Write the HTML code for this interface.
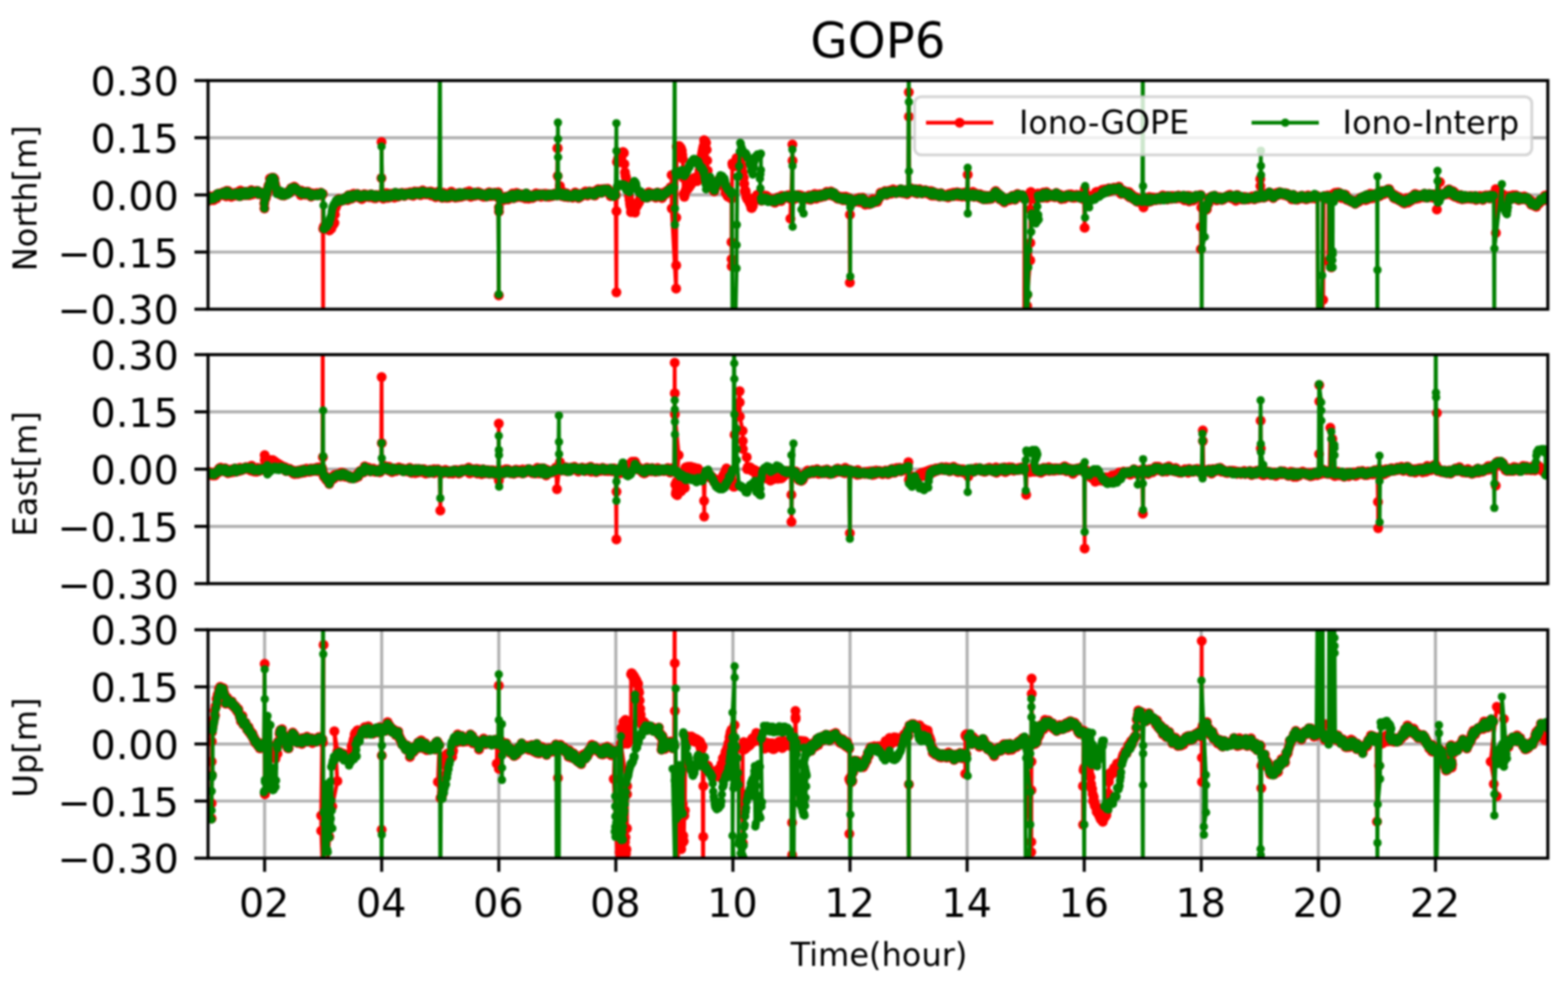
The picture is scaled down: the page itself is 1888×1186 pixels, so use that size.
<!DOCTYPE html>
<html lang="en"><head><meta charset="utf-8"><title>GOP6</title>
<style>html,body{margin:0;padding:0;background:#fff;overflow:hidden}svg{display:block;filter:blur(0.85px)}</style>
</head><body>
<svg width="1888" height="1186" viewBox="0 0 1888 1186" font-family="'DejaVu Sans','Liberation Sans',sans-serif" role="img" aria-label="GOP6 positioning error time series">
<defs>
<marker id="mr" markerUnits="userSpaceOnUse" markerWidth="14" markerHeight="14" refX="7" refY="7" viewBox="0 0 14 14"><circle cx="7" cy="7" r="6.0" fill="#ff0000"/></marker>
<marker id="mg" markerUnits="userSpaceOnUse" markerWidth="14" markerHeight="14" refX="7" refY="7" viewBox="0 0 14 14"><circle cx="7" cy="7" r="5.0" fill="#008000"/></marker>
<clipPath id="c0"><rect x="250.5" y="97.0" width="1613.2" height="275.3"/></clipPath>
<clipPath id="c1"><rect x="250.5" y="427.0" width="1613.2" height="275.7"/></clipPath>
<clipPath id="c2"><rect x="250.5" y="758.3" width="1613.2" height="275.0"/></clipPath>
</defs>
<rect width="1888" height="1186" fill="#fff"/>
<g stroke="#b0b0b0" stroke-width="3.7" fill="none">
<line x1="250.5" x2="1863.7" y1="165.8" y2="165.8"/>
<line x1="250.5" x2="1863.7" y1="234.7" y2="234.7"/>
<line x1="250.5" x2="1863.7" y1="303.5" y2="303.5"/>
</g>
<g clip-path="url(#c0)" fill="none" stroke-width="4.6" stroke-linejoin="round">
<polyline stroke="#ff0000" marker-start="url(#mr)" marker-mid="url(#mr)" marker-end="url(#mr)" points="250.3,242.3 250.9,241.7 251.5,237.8 252.2,238.3 252.8,238.8 253.4,236.5 254,240.2 254.7,239 255.3,240.5 255.9,237.5 256.5,239 257.1,241.1 257.7,238.7 258.3,237.2 258.9,236 259.6,236 260.2,235 260.8,238.9 261.4,236.9 262,233.5 262.6,235.1 263.2,234.3 263.8,233.5 264.4,233.1 265.1,233.4 265.7,235.1 266.3,233.5 266.9,233.8 267.5,234.2 268.1,234.4 268.7,231.6 269.3,233.6 269.9,235.3 270.6,233 271.2,233.7 271.8,233.5 272.4,236.6 273,229.8 273.6,231.8 274.2,231.2 274.8,230 275.4,231.9 276.1,233.6 276.7,234.3 277.3,235.3 277.9,232.4 278.5,236.9 279.1,234.2 279.7,235.7 280.3,233.4 280.9,234 281.5,232.6 282.1,233.3 282.7,234.7 283.3,235.4 283.9,234 284.5,231.9 285.1,233 285.7,234.7 286.3,235.2 286.9,235.8 287.5,234.8 288.1,234.4 288.7,236.3 289.3,229.5 289.9,229.7 290.5,232.7 291.1,235.4 291.7,230.8 292.3,233.1 292.9,230.9 293.5,234.1 294.1,233.4 294.7,233 295.3,234.9 295.9,231.2 296.5,232.5 297.1,231 297.7,231.3 298.3,234.9 298.9,233.2 299.5,233.2 300.1,232.6 300.7,235 301.3,230.8 301.9,232.2 302.5,229.1 303.1,229.7 303.7,231.2 304.3,234 304.9,231 305.5,231.1 306.1,231.1 306.7,231.5 307.3,232.2 307.9,230.8 308.5,231.6 309.1,229.7 309.7,230.6 310.3,229.9 310.9,233.8 311.5,233.5 312.1,232.3 312.7,232.8 313.3,232.8 314,231.8 314.6,233.8 315.2,232.2 315.9,232.2 316.5,234.8 317.1,232.6 317.7,233.2 318.2,244.9 318.4,251 319,240.6 319.7,237.3 320.2,237.9 320.8,233.4 321.3,233.7 321.9,230.8 322.5,228.6 323.1,224.5 323.7,223 324.3,222.4 325,215.1 325.6,219.6 326.2,216.7 326.8,216.1 327.4,213.9 328,214.8 328.6,216.8 329.2,214 329.8,217.2 330.4,215.6 330.9,220.4 331.6,223.6 332.2,226.5 332.9,229.2 333.5,231.6 334.1,229.6 334.7,229.6 335.3,232.1 336,233 336.6,231.5 337.2,234.3 337.8,232.7 338.4,232 339,231.4 339.6,235.3 340.2,234.2 340.8,233.9 341.5,235 342.1,235.5 342.7,234.8 343.3,233.2 343.9,233.6 344.5,233.9 345.1,233.8 345.7,232.2 346.3,233.1 347,230.9 347.6,230.7 348.2,232.5 348.8,229.3 349.4,231.7 350,230.5 350.6,226.4 351.2,229.6 351.8,228.2 352.5,227.4 353.1,227.4 353.7,227.1 354.3,224.8 354.9,227.8 355.5,226.3 356.1,226.4 356.7,228.7 357.3,228.3 358,229.4 358.6,230 359.2,229.9 359.8,230.1 360.4,231.1 361,230.8 361.6,230.1 362.2,234.9 362.8,229.6 363.5,233.5 364.1,233.9 364.7,232.2 365.3,233.6 365.9,233.5 366.5,231.1 367.1,232.9 367.7,234.4 368.3,231.7 369,233.6 369.6,233.1 370.2,230.8 370.8,231.1 371.4,234.1 372,233.6 372.6,233.2 373.2,234 373.8,233.8 374.5,236.8 375.1,233.6 375.7,234.6 376.3,232.8 376.9,235.3 377.5,234.4 378.1,234.9 378.7,234.5 379.3,235 379.9,235.2 380.5,234.1 381,234.6 381.6,232.6 382.2,233.9 382.8,235.2 383.4,234.6 384,233 384.6,233.3 385.2,233.2 385.8,232.6 386.4,232 387,232.7 387.6,235 388.1,233.5 388.7,233.6 389.1,432.3 389.2,275.5 389.8,273 390.5,275.6 391.1,274.1 391.7,270.9 392.3,272.8 392.9,272.2 393.5,274.8 394.1,273.5 394.7,273.1 395.3,272.8 395.9,274.6 396.5,277.4 397.1,273.9 397.7,275.8 398.3,274.7 398.9,275.3 399.5,270.9 400.1,268.7 400.7,269.5 401.3,270.6 402,267.7 402.6,268.3 403.2,258.3 403.8,250.9 404.4,247.1 405,247.7 405.6,245.5 406.2,243.9 406.9,243.1 407.5,240.2 408.1,239.4 408.7,241.4 409.3,240.2 409.9,241.8 410.5,241.8 411.1,240.5 411.7,241.7 412.4,240.4 413,240.6 413.6,240.4 414.2,240.8 414.8,238.8 415.4,238.8 416,238.7 416.6,237.8 417.2,239.6 417.9,238.5 418.5,240.9 419.1,236.4 419.7,234.9 420.3,237.4 420.9,238.6 421.5,237.6 422.1,235.6 422.7,238.5 423.4,239.3 424,234.2 424.6,236.3 425.2,237.2 425.8,233.2 426.4,236 427,234.6 427.6,237.2 428.2,236.4 428.9,234.7 429.5,235.9 430.1,233.4 430.7,233.7 431.3,237.7 431.9,237 432.5,236.2 433.1,236.3 433.7,238.1 434.4,235.6 435,235.1 435.6,239.8 436.2,235.9 436.8,238.7 437.4,236 438,236.6 438.6,233.7 439.2,236.7 439.8,235.9 440.4,235.2 441,236.6 441.6,234.4 442.2,236.1 442.8,237.1 443.4,235.3 444,235.5 444.5,237.5 445.1,237.2 445.7,236.2 446.3,233.9 446.9,234.6 447.5,235 448.1,234.5 448.7,235.1 449.3,234.7 449.9,238.6 450.5,236.1 451.1,238 451.7,237.4 452.3,238.8 452.9,234.8 453.5,236.7 454.1,236.5 454.7,235.9 455.3,236.2 455.9,235.2 456.5,235.8 457.1,237.1 457.7,236 458.3,237.3 458.9,236.6 459.3,214.4 459.4,171.1 460.3,236.2 460.9,232.9 461.5,239.3 462.1,237.8 462.7,235.5 463.3,235.8 463.9,237 464.5,237 465.1,232.4 465.7,238.2 466.3,236.3 466.9,238.3 467.5,234.8 468.1,236 468.7,233.3 469.3,237.4 469.9,236.3 470.6,237.2 471.2,234.9 471.8,234.6 472.4,236.5 473,233 473.6,234.5 474.2,234.7 474.8,237.9 475.4,234.1 476,232.2 476.6,234.3 477.2,234.6 477.8,233.8 478.4,236.4 479,232.8 479.6,236.7 480.2,233.4 480.8,234.1 481.4,234.3 482,235.3 482.7,232.4 483.3,232.9 483.9,234.5 484.5,232.2 485.1,234.9 485.7,233.2 486.3,235.8 486.8,233.9 487.4,235.8 488,233 488.6,232.4 489.2,232.7 489.8,234.3 490.4,233 491,232.5 491.6,232.8 492.2,232.9 492.8,232.8 493.4,234.5 494,231.6 494.6,233.7 495.2,235.1 495.8,233.9 496.4,232.6 497,233.3 497.6,235.8 498.1,233.6 498.7,232.4 499.3,230.6 499.9,231.3 500.5,231.1 501.1,232.5 501.7,232.9 502.3,233.3 502.9,230.7 503.5,232.8 504.1,234.2 504.7,234.2 505.3,233.1 505.9,232.4 506.5,235 507.1,230.8 507.7,231.3 508.3,230.2 508.9,229.3 509.5,231.5 510.1,230.2 510.7,232.7 511.3,231.6 511.9,231.5 512.5,233.9 513.2,233.6 513.8,234.1 514.4,233.4 515,231.2 515.6,231.3 516.2,233.1 516.8,232.4 517.4,231.3 518,232.8 518.6,230.6 519.2,235.6 519.8,231.7 520.5,231.3 521.1,234 521.7,232.1 522.3,234.5 522.9,232 523.5,233.6 524.1,235.4 524.7,237.5 525.3,233.7 525.9,233 526.5,234.6 527.1,234.4 527.7,230.7 528.4,233.3 529,235 529.5,234.4 530.1,233.1 530.7,234.6 531.2,235.8 531.8,235.9 532.4,238.2 533,235.9 533.5,231.9 534.1,237 534.7,234.3 535.2,235.6 535.8,237.2 536.4,237.7 537,236.8 537.6,233.3 538.2,238.2 538.8,235.9 539.4,237.7 540,236.5 540.6,238 541.2,236.7 541.8,233.5 542.3,232.9 542.9,235.8 543.5,230.7 544.1,233.9 544.7,235.7 545.3,234.5 545.9,235.4 546.5,233.6 547.1,237 547.7,234.2 548.3,237.9 548.9,233.7 549.5,235.6 550.1,233.2 550.7,234 551.3,233.1 551.9,237.5 552.5,232.5 553.1,234.4 553.6,233.1 554.2,232.5 554.8,236.4 555.4,236.9 556,234.2 556.6,234.5 557.2,232.7 557.8,234.6 558.4,234.7 559,234.9 559.6,235.7 560.2,233.3 560.8,231.6 561.4,235.2 562,235.1 562.6,234 563.2,232.9 563.8,233.7 564.4,234.1 565,230.3 565.6,233.4 566.2,234.3 566.8,236.9 567.3,234.6 567.9,233.6 568.5,232.3 569.1,233.8 569.7,233.6 570.3,235 570.9,234.5 571.5,232.1 572.1,235.7 572.7,234.1 573.3,233.6 573.9,233.3 574.5,232.7 575.1,234.2 575.7,231.3 576.3,232.8 576.9,233.9 577.5,234.5 578.1,235.2 578.7,232.6 579.3,235.1 579.9,235.9 580.5,234.3 581.1,234 581.7,234.3 582.3,237 582.9,234.7 583.5,234.1 584.1,234.7 584.7,233.4 585.3,234.3 585.9,236.7 586.5,233.2 587.1,233.3 587.7,234 588.3,236.1 588.9,231.6 589.5,235.2 590.1,236.3 590.8,232.3 591.4,233.2 592,235.9 592.6,234.2 593.2,234.7 593.8,235.3 594.4,233.8 595,234.8 595.6,231.9 596.2,233.5 596.8,234.1 597.4,233.1 598,234.6 598.6,237 599.3,234.6 599.9,231.5 600.6,355.7 600.7,249.8 600.8,254.7 601.4,239 602,237.5 602.7,239.6 603.3,238.9 603.9,238.3 604.5,240.2 605.1,239.5 605.7,239.2 606.3,240.9 606.9,239 607.5,239.1 608.1,237.2 608.7,236.9 609.3,239.9 609.9,238.3 610.5,239.7 611.1,236.4 611.7,240.3 612.3,238.3 612.9,236.4 613.5,236.1 614.1,237.4 614.7,235.6 615.3,236 615.9,237.7 616.5,235.2 617.1,232.9 617.7,234.5 618.3,238.8 618.9,236.7 619.5,236.3 620.1,234.9 620.7,233.7 621.3,234.6 621.9,232.3 622.5,237.6 623.1,234.6 623.7,232.9 624.3,236.8 624.9,235 625.5,235.8 626.1,236.3 626.7,235.8 627.3,237.2 627.9,237.6 628.5,233.9 629.1,235.6 629.7,234.9 630.3,234.6 630.9,236.8 631.5,234.5 632.1,238.7 632.7,238.7 633.3,233.2 633.9,233 634.5,234.9 635.1,234.3 635.7,237.3 636.3,239.2 636.9,236.5 637.5,235 638.1,238.5 638.7,237.3 639.4,235.9 640,237.2 640,236.8 640.6,238.1 641.2,238.4 641.8,237.2 642.4,235.4 643,236.2 643.6,234.5 644.2,234.2 644.8,236.8 645.4,232.8 646,235.1 646.6,233.7 647.2,235.8 647.8,236 648.3,234.9 648.9,234.7 649.5,234.4 650.1,233.6 650.7,234.2 651.3,236.9 651.9,234.4 652.5,234.6 653.1,234.4 653.7,233.5 654.3,234.4 654.9,234.5 655.5,234.7 656.1,236.4 656.7,233.2 657.3,236.6 657.9,235.6 658.5,235.5 659.1,233.7 659.7,235.8 660.3,236.9 660.9,233.8 661.5,234.8 662.1,234.4 662.7,234.7 663.3,236.4 663.9,234.4 664.4,234.3 665.1,235.2 665.7,233.7 666.3,235.7 666.9,235.2 667.5,233.1 668.1,234.7 668.7,234.2 669.3,234.1 669.9,233.9 670.5,235.5 671.3,178.4 671.4,178.4 671.5,211.9 674.2,224.1 673,235 673.6,233.8 674.2,233.1 674.8,233.5 675.4,231.3 676.1,235.9 676.7,234 677.3,230.8 677.9,233.8 678.5,236.4 679.1,232.6 679.7,234.5 680.3,236.9 680.9,234.2 681.6,236.6 682.2,232.8 682.8,236.2 683.4,233.9 684,237.4 684.6,236.3 685.2,234.7 685.8,237.2 686.4,237 687.1,237 687.7,236.5 688.3,234.8 688.9,234.7 689.5,238 690.1,237.3 690.7,236 691.3,234 691.9,235.9 692.5,231.7 693.1,235.1 693.7,232.8 694.3,234.8 694.9,236.5 695.5,235.6 696,235.3 696.6,238.5 697.2,234.1 697.8,235.6 698.4,237.2 699,233.5 699.6,234.4 700.2,235.9 700.8,235 701.4,233.4 702,234.7 702.6,233.2 703.2,233.6 703.8,233 704.4,231.2 705,230.6 705.6,233.6 706.2,232.1 706.8,232.5 707.4,235.4 708,234.2 708.6,233.8 709.2,233.6 709.8,230.5 710.4,231.3 711,232.2 711.6,231.1 712.1,231.4 712.7,231.9 713.3,231.2 713.9,231.5 714.5,235 715.1,232.2 715.7,234 716.3,235.4 716.9,229.9 717.5,231.5 718.1,229.9 718.7,232.8 719.2,231.6 719.8,230.9 720.4,227.7 721,231.6 721.6,230.9 722.2,230 722.8,231 723.4,231.3 724,232.2 724.6,231.7 725.1,227.8 725.7,229.3 726.3,231.2 726.9,229.3 727.5,228.4 728.1,227.5 728.7,229.2 729.3,229.3 729.9,228.5 730.5,229.7 731.1,229.3 731.7,227.3 732.3,230.8 732.9,232.1 733.5,230.5 734.1,230 734.7,234.1 735.3,236.2 736,234.3 736.6,234.1 737.2,231.9 737.8,233.4 738.4,234.9 739,236 739.5,233.5 740.1,234.4 740.7,231.9 741.3,235.2 742.2,352 742.3,254.2 742.9,195 743.5,195.6 744.1,191.4 744.6,195.4 745.2,193.3 745.8,195.1 746.3,193.1 747,191.8 747.6,188.4 748.2,189 748.8,185.6 749.4,183.6 750,183.2 750.6,183.2 751.2,184.2 751.8,197.4 752.5,207.5 753.1,212.1 753.7,213.5 754.3,217.8 754.9,222.6 755.5,224.3 756.1,226.3 756.7,229.8 757.3,235.8 758,240.7 758.6,245.2 759.2,248.7 759.8,255.6 760.4,253.3 761,253.3 761.6,254.4 762.2,253.4 762.8,252.7 763.5,250.4 764.1,251.5 764.7,255.9 765.3,250.4 765.9,249 766.5,246.6 767.1,247.4 767.7,244.8 768.3,245.2 769,243.2 769.6,243.2 770.2,240.9 770.8,240.1 771.4,235.6 772,236.2 772.6,234.5 773.2,235.5 773.8,234.9 774.5,237 775.1,235.1 775.7,237.5 776.3,235.5 776.9,234.1 777.5,236.9 778.1,234.4 778.7,236.4 779.3,237.9 780,232.9 780.6,233.1 781.2,231.5 781.8,233.7 782.4,234.5 783,233.8 783.6,234.9 784.2,236.2 784.8,235.3 785.5,233.1 786.1,235 786.7,235.1 787.3,235.7 787.9,235 788.5,235.6 789.1,232.9 789.7,237.9 790.3,233.9 791,235.3 791.6,231.8 792.2,234.7 792.8,236.2 793.4,235.9 794,237.1 794.6,237 795.2,236 795.8,237.1 796.5,232.6 797.1,238.6 797.7,236.4 798.3,234.3 798.9,235 799.5,233.1 800.1,232.6 800.7,234.2 801.3,233.6 802,230.6 802.6,231.3 803.2,232.3 803.8,232.1 804.4,230.5 805,228.6 805.6,229.6 806.2,227.9 806.9,227.2 807.5,225.6 808.1,226.9 808.7,225.1 808.7,210.7 808.8,251 814.1,347.6 814.2,319.5 814.3,262 814.9,176.2 815.5,178.2 816.1,179.1 816.7,179 817.3,175.7 817.9,176 818.5,178.7 819.1,180.2 819.7,178.1 820.3,180.5 820.9,181.5 821.5,186.4 822.1,191.2 822.7,213.9 823.4,233.3 824,236.9 824.6,233.4 825.2,230.8 825.8,228.9 826.4,227.4 827,225.8 827.6,228.1 828.2,227.2 828.9,225 829.5,223.2 830.1,225.1 830.7,222.8 831.3,221.7 831.9,222.3 832.5,218.8 833.1,219.4 833.7,216.6 834.4,216.2 835,214.8 835.6,216.7 836.2,214.6 836.8,214.1 837.4,216.8 838,216.9 838.6,217.5 839.2,218.1 839.9,217.8 840.5,216 841.1,211.2 841.7,210.5 842.3,205.3 842.9,202.9 843.5,199.9 844.1,194.1 844.7,188.4 845.4,184.6 846,181.4 846.6,178.5 847.2,176 847.8,168.7 848.4,171.6 849,170 849.6,171.2 850.2,172.1 850.9,180.2 851.5,193.3 852.1,205.5 852.7,214.9 853.3,217.2 853.9,217.7 854.5,218.6 855.1,219.7 855.7,222.9 856.4,221.9 857,221.7 857.6,225.1 858.2,227 858.8,229.1 859.4,227.3 860,230.4 860.6,228.6 861.2,224.8 861.9,224.7 862.5,223.5 863.1,222.5 863.7,221.5 864.3,220.4 864.9,221.9 865.5,216.5 866.1,216.2 866.7,216.7 867.4,214 868,216.1 868.6,220.3 869.2,217.8 869.8,217.4 870.4,218.6 871,222.8 871.6,224.4 872.2,221 872.9,225.7 873.5,231.7 874.1,227.5 874.7,231.8 875.3,234.7 875.9,235.3 876.5,236.7 877.1,236.4 877.7,237 878.4,235.3 879,235.6 879.6,237.1 880.2,238 880.8,239.2 880.8,291.4 880.9,312.1 881,320.7 881.2,237.6 881.8,196.7 882.3,199.2 882.8,199 883.4,197.9 883.9,199.4 884.5,199 885.1,200.3 885.7,196.5 886.3,193.4 886.9,190.3 887.5,191 888.1,192.7 888.7,191.5 889.4,193.6 890,195.9 890.6,192.2 891.2,197.1 891.8,196.2 892.4,198.9 893,201.2 893.6,206 894.2,208.5 894.9,213.5 895.5,213.9 896.1,221.3 896.7,230.2 897.3,229.6 897.9,230.6 898.5,236.9 899.1,236.6 899.7,239.5 900.4,239.9 901,240.9 901.6,241 902.2,240.5 902.8,245 903.4,244.7 904,246.1 904.6,250.3 905.2,250.6 905.9,245.6 906.5,248 907.1,242.1 907.7,243.1 908.3,241.2 908.9,237.9 909.5,239.2 910.1,238.8 910.7,237.2 911.4,235.3 912,234.5 912.6,239 913.2,237.6 913.8,236.2 914.4,237.8 915,237.9 915.6,237.6 916.2,238.7 916.9,241.7 917.5,239.1 918.1,237 918.7,238.2 919.3,239.2 919.9,235.5 920.5,237.8 921.1,238.5 921.8,235.4 922.4,238.1 923,236.1 923.6,237.9 924.2,237 924.8,241 925.4,240 926,239.3 926.6,240.5 927.3,240.8 927.9,239.7 928.5,239.4 929.1,241.3 929.7,241.1 930.3,240.7 930.9,242.8 931.5,242.9 932.1,239.3 932.8,244.1 933.4,243.8 934,242.6 934.6,240.7 935.2,240.5 935.8,239 936.4,237.7 937,240.1 937.6,237.8 938.3,239.7 938.9,238.2 939.5,239.7 940.1,241.7 940.7,242.1 941.3,235.7 941.9,238 942.5,237.1 943.1,238.6 943.8,237.6 944.4,236.6 945,237.9 945.6,236.5 946.2,237.4 946.8,236.3 947.5,236 948.1,235.5 948.7,237.5 949.3,235 949.9,238.3 950.6,239 951.2,235.9 951.8,239.4 952.4,236.5 953,236 953.6,239.2 954.1,174 954.3,193.6 951.7,263.3 952.3,237.3 952.9,237.2 953.5,239.2 954.1,240.3 954.7,240.4 955.3,237.4 955.8,236.3 956.4,238.9 957,235.3 957.6,235.8 958.2,237.3 958.8,238.4 959.4,238.5 960,235.6 960.6,234.9 961.2,234.8 961.8,236.6 962.3,235.4 962.9,237.6 963.5,237.2 964.1,235.3 964.7,238.5 965.3,237.5 965.9,237.7 966.5,240 967.1,237.8 967.7,236.7 968.3,237.2 968.9,236.8 969.4,238.7 970,239.1 970.6,238.4 971.3,237.8 971.9,237.7 972.5,237 973.1,240.1 973.7,238.9 974.3,235.2 974.9,238.8 975.5,237.8 976.1,240.5 976.8,237 977.4,237.6 978,235.4 978.6,235.3 979.2,235.2 979.8,236.7 980.4,236.8 981,233.6 981.6,239 982.3,237.4 982.8,239.3 983.4,238.1 984,238.3 984.6,235.9 985.2,234.2 985.8,236 986.4,235.4 987,236.6 987.6,233.8 988.2,237.4 988.8,234.8 989.4,234.1 990,234.1 990.6,235 991.1,233.4 991.7,235.4 992.3,236.6 992.9,234.1 993.5,235.7 994.1,233.7 994.7,233 995.3,231 995.9,231.8 996.5,233.4 997.1,232.4 997.7,234.7 998.3,235 998.9,232 999.4,233 1000,233.3 1000.6,230.5 1001.2,233.4 1001.8,234.4 1002.4,234.4 1003,233.5 1003.6,236.2 1004.3,232.4 1004.9,233.3 1005.5,234.9 1006.1,236.9 1006.7,235.9 1007.3,235.8 1007.9,238.1 1008.5,239.3 1009.1,235.9 1009.8,238.5 1010.4,239.4 1011,238.9 1011.6,239.1 1012.2,238.3 1012.8,238.3 1013.4,238.8 1014,237 1014.6,239.6 1015.1,241 1015.7,241.1 1016.3,237.5 1016.9,239.2 1017.5,239.2 1018.1,236.8 1018.7,240.4 1019.3,239.5 1019.9,237.4 1020.5,239.5 1021.1,241 1021.7,242.2 1022.2,238.9 1022.8,238.5 1023.3,340.3 1023.4,258.4 1024,240 1024.6,242 1025.2,242.5 1025.8,243.4 1026.4,243.9 1027,243.8 1027.6,240.9 1028.2,241.8 1028.8,243.1 1029.4,241.3 1030,241.4 1030.6,242.6 1031.2,240.3 1031.7,239.3 1032.3,241.4 1032.9,239.5 1033.5,242.6 1034.1,242.4 1034.7,238.2 1035.3,243.6 1035.8,240.5 1036.4,240.3 1037,241.9 1037.6,242.3 1038.2,242.5 1038.8,238.1 1039.4,241.5 1040,241.9 1040,242.4 1040.6,240.8 1041.2,243.8 1041.8,246.5 1042.4,245.2 1043.1,242.1 1043.7,243.4 1044.3,244.3 1044.9,244.5 1045.5,243.3 1046.1,244.9 1046.7,246 1047.3,244.1 1047.9,244.2 1048.6,243.8 1049.2,244.9 1049.8,242.5 1050.4,244.2 1051,239.8 1051.6,241.7 1052.2,242.2 1052.8,243.4 1053.4,243.5 1054.1,242.5 1054.7,243.1 1055.3,241.1 1055.9,241.7 1056.5,243.1 1057.1,239 1057.7,239.3 1058.3,238.4 1058.9,238 1059.6,236.3 1060.2,231.9 1060.8,233.3 1061.4,233 1062,232.9 1062.6,233.7 1063.2,233.9 1063.8,232 1064.4,232 1065.1,233.4 1065.7,230.1 1066.3,232.5 1066.9,232.6 1067.5,234.7 1068.1,231.4 1068.7,232.3 1069.3,231.3 1069.9,231.3 1070.6,233.2 1071.2,229.6 1071.8,230.8 1072.4,232.5 1073,233.3 1073.6,230.4 1074.2,232.3 1074.8,228.9 1075.4,228.1 1076.1,230 1076.7,230.2 1077.3,230.1 1077.9,230.2 1078.5,232.5 1079.1,232.6 1079.7,231.1 1080.3,229.2 1080.9,231.2 1081.5,230.1 1082.1,230.6 1082.7,231.8 1083.3,229.7 1084,230.3 1084.6,227.7 1085.2,229.9 1085.8,232.2 1086.4,230.9 1087,232.2 1087.6,232.5 1088.2,232.3 1088.8,231.3 1089.4,228.7 1090,230.9 1090.6,232.1 1091.2,233.2 1091.8,233.3 1092.4,233.7 1093,231.9 1093.6,230.1 1094.3,110.9 1094.4,140.5 1095,229.5 1095.6,227.3 1096.2,226.8 1096.8,228.8 1097.4,227.3 1098.1,227.2 1098.7,228.2 1099.3,230.4 1099.9,231.6 1100.5,230.2 1101.1,231.6 1101.7,229.7 1102.3,227.8 1103,231.8 1103.6,229.5 1104.2,232.9 1104.8,232.2 1105.4,228.7 1106,230 1106.6,229.7 1107.2,227.8 1107.8,230.9 1108.5,229.7 1109.1,231.9 1109.7,230.8 1110.3,233.1 1110.9,232.2 1111.5,230.1 1112.1,231.8 1112.7,229.9 1113.3,230.8 1113.9,229.1 1114.5,229.4 1115.1,232.5 1115.7,232.5 1116.3,229.8 1116.9,232.2 1117.5,231.5 1118.1,231.6 1118.7,231.2 1119.3,231.4 1119.9,234.6 1120.5,232.7 1121.1,230.1 1121.7,235.5 1122.3,232.4 1122.9,231.3 1123.5,230.9 1124.1,235.6 1124.7,234.6 1125.3,233.5 1125.9,234.8 1126.5,235.6 1127.1,232.7 1127.7,232.4 1128.2,235.3 1128.8,234.5 1129.4,233.4 1130,235.5 1130.6,234 1131.2,236.7 1131.8,234 1132.4,234.8 1133,232.6 1133.6,235 1134.2,236.3 1134.8,235.9 1135.4,235.2 1136,235.4 1136.6,236.5 1137.2,236.3 1137.8,235.6 1138.4,236.1 1139,236.5 1139.6,236.2 1140.2,236.3 1140.8,236.5 1141.5,237.8 1142.1,233.5 1142.7,236.9 1143.3,236.1 1143.9,234.9 1144.5,236.5 1145.1,232.8 1145.7,236 1146.3,235.6 1147,236 1147.6,236.2 1148.2,232.1 1148.8,235 1149.4,232.4 1150,235.5 1150.6,233.9 1151.2,234.7 1151.8,234.3 1152.4,231.6 1153,236.1 1153.6,232.7 1154.3,232 1154.9,236.3 1155.5,234 1156.1,235 1156.7,233.7 1157.3,233.6 1157.9,233 1158.5,236.8 1159.1,232.2 1159.7,234.4 1160.3,233 1160.9,233.4 1161.5,234.1 1162.1,232.1 1162.7,232.9 1163.3,233.7 1163.9,231.3 1164.5,237.2 1165.2,210.2 1165.3,237.6 1165.9,236.1 1166.5,235.1 1167.1,234.8 1167.7,236.3 1168.3,235 1169,233.8 1169.6,236 1170.2,234.1 1170.8,235.4 1171.4,231.1 1172,235.7 1172.6,237 1173.2,233.4 1173.8,234.2 1174.5,236.4 1175.1,233.1 1175.7,233.6 1176.3,235.6 1176.9,233.9 1177.5,234 1178.1,235.8 1178.7,237.4 1179.3,236 1180,233.7 1180.6,238.6 1181.2,238.6 1181.8,236.7 1182.4,237.9 1183,236.5 1183.6,236.4 1184.2,240.1 1184.8,239.2 1185.5,235.6 1186.1,239.1 1186.7,238.7 1187.3,240 1187.9,239.6 1188.5,239.2 1189.1,236 1189.7,237.6 1190.3,236.4 1191,239.7 1191.6,239.2 1192.2,235.7 1192.8,239.3 1193.4,236.9 1194,239.2 1194.6,235.7 1195.2,236.3 1195.8,235 1196.5,236.5 1197.1,233.6 1197.7,231.6 1198.3,230.9 1198.9,230.1 1199.5,233 1200.1,233.7 1200.7,235.2 1201.3,237.1 1202,233 1202.6,237.6 1203.2,237.5 1203.8,240 1204.4,236 1205,237.1 1205.6,235.9 1206.2,238 1206.9,238.7 1207.5,241.9 1208.1,239.8 1208.7,241 1209.3,243.8 1209.9,241.6 1210.5,238.8 1211.1,239.4 1211.7,239.2 1212.4,239.3 1213,240.7 1213.6,238.4 1214.2,239.3 1214.8,239.2 1215.4,241 1216,239.2 1216.6,239.1 1217.2,238.4 1217.9,239.2 1218.5,237.3 1219.1,235.7 1219.7,236.6 1220.3,236.9 1220.9,237 1221.5,238.3 1222.1,240.6 1222.7,236.9 1223.4,237.8 1224,234.6 1224.6,237 1225.2,233.6 1225.8,235.5 1226.4,234.4 1227,236.6 1227.6,235 1228.2,235 1228.8,235.3 1229.4,237.3 1230,235.6 1230.6,235 1231.2,234.9 1231.8,235.4 1232.4,236.5 1233,239.1 1233.6,238.9 1233.1,432.3 1236.8,368.4 1236.9,354.9 1240.5,313.4 1240.6,292.6 1240.7,252.2 1240.8,231.5 1241.4,231.3 1242,232.3 1242.6,233.1 1243.1,234.9 1243.7,234.2 1244.3,235.6 1244.9,236.6 1245.4,235.3 1246,240 1246.6,239.3 1247.2,240.5 1247.8,238.1 1248.4,237.8 1249,237.4 1249.6,233.1 1250.2,237.4 1250.9,238.5 1251.5,236 1252.1,236.9 1252.7,238 1253.3,234.4 1253.9,233.2 1254.5,237.9 1255.1,236.4 1255.7,237.9 1256.4,231.7 1257,236.1 1257.6,235.7 1258.2,234 1258.8,236.2 1259.4,232.3 1260,231.3 1260.6,238.2 1261.2,237.4 1261.8,233.3 1262.4,235 1263,235.9 1263.6,233.7 1264.2,235.5 1264.8,236.3 1265.4,234.2 1266,234.8 1266.6,235.5 1267.2,236.7 1267.8,234.4 1268.4,235.4 1269,235.4 1269.6,235.4 1270.2,237.6 1270.8,234.5 1271.4,236.1 1271.9,232.3 1272.5,233.8 1273.1,236.7 1273.7,234.7 1274.3,236.8 1274.9,236.3 1275.5,236.2 1276.1,234.3 1276.7,237.3 1277.3,235.5 1277.9,239.8 1278.5,236.8 1279.1,235.7 1279.7,236.8 1280.3,238.6 1280.9,238.2 1281.5,239.2 1282.1,235.6 1282.7,236.7 1283.3,238.1 1283.9,235.4 1284.5,237.3 1285.1,235.7 1285.6,234.5 1286.2,235.2 1286.8,235.6 1287.4,234.2 1288,236.7 1288.6,237.3 1289.2,237.6 1289.8,234 1290.4,237.5 1291,236.4 1291.6,235.7 1292.1,236.5 1292.7,238.3 1293.3,237.1 1293.9,235.1 1294.5,237.1 1295.1,236.3 1295.7,237.7 1296.3,234.6 1296.9,235.4 1297.5,235.5 1298,237.3 1298.6,236.1 1299.2,234.9 1299.8,236.2 1300.4,238 1301,237.3 1301.6,237.8 1302.2,235.1 1302.8,237.7 1303.4,239.4 1304,237.5 1304.6,236.5 1305.2,235.7 1306,274.3 1306.1,227.8 1306.7,240.1 1307.3,234.8 1307.9,236.8 1308.5,236.1 1309.1,237.1 1309.7,235.6 1310.3,237.5 1310.8,238.3 1311.4,235.8 1312,240.1 1312.6,238.2 1313.2,237.6 1313.8,237.4 1314.4,236.8 1315,238.2 1315.6,236.4 1316.2,236.8 1316.9,235.2 1317.5,236 1318.1,236 1318.7,234.8 1319.3,231.8 1319.9,232.4 1320.5,231 1321.1,232.6 1321.8,232.2 1322.4,232.5 1323,232 1323.6,232.9 1324.2,232.2 1324.8,230.7 1325.4,231.5 1326,231.1 1326.6,231.5 1327.3,228.6 1327.9,231.8 1328.5,231.8 1329.1,229.6 1329.7,228.5 1330.3,229.2 1330.9,227.9 1331.5,228.9 1332.1,231.2 1332.8,228.7 1333.4,230.1 1334,227.7 1334.6,230.6 1335.2,226.8 1335.8,230.6 1336.4,227.3 1337,229.8 1337.6,228.2 1338.3,229.6 1338.9,228.1 1339.5,227.9 1340.1,229.1 1340.7,228.7 1341.3,225.9 1341.9,227.8 1342.5,226.7 1343.1,227.7 1343.8,227.8 1344.4,228.4 1345,227.5 1345.6,229.2 1346.2,227.1 1346.8,227.2 1347.4,224.8 1348,228.2 1348.6,229.4 1349.3,229.1 1349.9,233.4 1350.5,230.3 1351.1,232 1351.7,231.6 1352.3,229.2 1352.9,229.9 1353.5,231.7 1354.1,231.4 1354.8,231.3 1355.4,232.8 1356,234 1356.6,230.9 1357.2,231.5 1357.8,232.5 1358.4,235.9 1359,233.7 1359.6,231.2 1360.3,237.8 1360.9,236.8 1361.5,236.6 1362.1,235.2 1362.7,234.2 1363.3,236.6 1363.9,237.2 1364.5,236.9 1365.1,239.9 1365.7,238.7 1366.4,238.6 1367,238.4 1367.6,241.3 1368.2,237.5 1368.8,242.8 1369.4,238.5 1370,240.7 1370.6,240.5 1371.2,241.4 1371.8,243.4 1372.4,242 1373,241.8 1373.6,239.7 1374.2,241.7 1374.8,240.7 1375.4,242.9 1376,241.6 1376.9,249.8 1377.5,241.8 1378.1,238.4 1378.6,241.2 1379.2,238.5 1379.8,243.4 1380.4,239.6 1381,239.8 1381.6,242.8 1382.3,240.9 1382.9,241.8 1383.5,237.3 1384.1,243.1 1384.7,238.9 1385.3,237.5 1385.9,241.4 1386.5,242.1 1387.1,240.2 1387.8,239.1 1388.4,237.7 1389,240.7 1389.6,241.1 1390.2,240.6 1390.8,239.4 1391.4,239.2 1392,240.9 1392.6,238.3 1393.3,239.2 1393.9,239.8 1394.5,238.3 1395.1,239.1 1395.7,237.7 1396.3,239.7 1396.9,240.6 1397.5,238.4 1398.1,236.9 1398.8,237.7 1399.4,237.4 1400,235.2 1400.6,239.8 1401.2,239.5 1401.8,236.1 1402.4,238.5 1403,238.7 1403.6,236.8 1404.3,238.7 1404.9,238.3 1405.5,240.2 1406.1,235.9 1406.7,237.3 1407.3,237.8 1407.9,237.6 1408.5,237.6 1409.1,236.4 1409.7,236.3 1410.3,239.4 1410.9,237.8 1411.5,237.9 1412.1,236.1 1412.7,238.3 1413.3,237.4 1413.9,237.2 1414.5,238.9 1415.1,237.5 1415.6,238.4 1416.2,236.3 1416.8,239 1417.4,236.3 1418,237.4 1418.6,235.5 1419.2,235.4 1419.8,238.1 1420.4,238.6 1421,237.8 1421.6,237.8 1422.2,238.7 1422.8,236.6 1423.4,236.7 1424,236.8 1424.6,237.6 1425.2,235.4 1425.8,236.7 1426.4,241.2 1427,236.8 1427.6,238 1428.2,237.4 1428.8,237.9 1429.4,235.7 1430,237.5 1430.6,236.6 1431.2,235.8 1431.8,242.4 1432.4,239.6 1433,237.9 1433.6,239.5 1434.2,236.6 1434.8,238.5 1435.4,237.3 1436,238.5 1436.7,241.5 1437.3,237 1437.9,238.7 1438.5,238.4 1439.1,239.3 1439.7,236.2 1440.3,235.5 1440.9,236.4 1441.5,239 1442.2,235.9 1442.8,235.7 1443.4,235.7 1444,236.2 1444.6,237.3 1445.2,235.1 1445.8,234.7 1445.8,273 1445.9,299.9 1446.5,249.7 1447.1,249.8 1447.7,249.8 1448.3,251.6 1448.9,251.5 1449.5,253.3 1450.1,249.9 1450.7,250.6 1451.3,248.5 1451.9,250.7 1452.6,252.4 1453.2,251.8 1453.8,246.9 1454.4,245.2 1455,245.2 1455.6,239.5 1456.2,239.3 1456.9,237.8 1457.5,237.5 1458.1,239.1 1458.7,240.1 1459.4,236.2 1460,237.9 1460,238.4 1460.6,239.3 1461.2,239.7 1461.8,236.5 1462.4,235.4 1463,239.2 1463.6,237.2 1464.2,237.3 1464.8,241.2 1465.4,241 1466,238.2 1466.6,239.4 1467.2,237.4 1467.8,238.5 1468.3,238.1 1468.9,237.8 1469.5,237.5 1470.1,238.4 1470.7,240.8 1471.3,239.8 1471.9,239.4 1472.5,240.5 1473.1,238.6 1473.7,237.7 1474.3,238.7 1474.9,238.8 1475.5,236.9 1476.1,237.7 1476.7,237.8 1477.3,237 1477.9,236.3 1478.5,236.1 1479.1,235.3 1479.7,236 1480.3,235.2 1480.9,234.6 1481.5,237.1 1482.1,238.6 1482.7,237.1 1483.3,237.1 1483.9,239.1 1484.4,238.9 1485,238.3 1485.6,237.1 1486.2,236 1486.8,238.4 1487.4,235.9 1488,241.7 1488.6,235.2 1489.2,238.5 1489.8,234.8 1490.4,235.6 1491,236.6 1491.6,237.4 1492.2,238 1492.8,238.4 1493.4,238.5 1494,237.8 1494.6,238.2 1495.2,240.3 1495.8,238.2 1496.4,239.7 1497,240.3 1497.6,239.5 1498.2,237.1 1498.8,240.3 1499.4,240.3 1499.9,238 1500.5,239.2 1501.1,238.9 1501.7,237.4 1502.3,239.8 1502.9,239.9 1503.5,238.7 1504.1,238.7 1504.7,239.2 1505.3,238.4 1505.9,239.2 1506.5,238.8 1507.1,237.2 1507.7,236.4 1508.3,237.6 1508.9,238.2 1509.5,238.3 1510.1,240.1 1510.7,236.6 1511.3,239.5 1511.9,237 1512.6,237.8 1513.2,235.3 1513.8,236.7 1514.4,236.6 1515,238.1 1515.6,238.4 1516.2,235.4 1516.8,237.7 1517.5,215.6 1517.6,224.1 1518.2,237.2 1518.8,234.4 1519.4,237.5 1520,233.7 1520.6,236 1521.2,235.4 1521.8,237.9 1522.4,233.2 1523,234.2 1523.6,236.8 1524.2,236 1524.7,236.7 1525.3,235.7 1525.9,235.3 1526.5,235.7 1527.1,234.3 1527.7,235.3 1528.3,231.5 1528.9,232.9 1529.5,232.5 1530.1,233.9 1530.6,235.7 1531.2,234.4 1531.8,235.7 1532.4,235 1533,238.5 1533.6,237.8 1534.2,235.9 1534.8,234.5 1535.4,236 1536,234.7 1536.5,232.6 1537.1,232.8 1537.7,234.9 1538.3,235.1 1538.9,234.4 1539.5,232.5 1540.1,231.6 1540.7,232.3 1541.3,231.5 1541.9,233.9 1542.4,232.2 1543,233.3 1543.6,232.8 1544.2,233.2 1544.8,233.7 1545.4,234.8 1546,232.6 1546.6,234.2 1547.2,234.1 1547.8,232.8 1548.3,234.4 1548.9,232.7 1549.5,234.8 1550.1,236 1550.7,233.6 1551.3,235 1551.9,236.5 1552.5,236.1 1553.1,235.9 1553.7,237.8 1554.2,236 1554.8,236.7 1555.4,240 1556,236.5 1556.6,236.3 1557.2,234.5 1557.8,238.5 1558.4,237.9 1559,238.4 1559.6,240.2 1560.2,239.2 1560.8,237.3 1561.5,237 1562.1,240.4 1562.7,237.3 1563.3,238 1563.9,238.8 1564.5,237.1 1565.1,236.6 1565.7,239.1 1566.3,236.2 1567,238.6 1567.6,235.4 1568.2,237 1568.8,238.7 1569.4,236.5 1570,238.6 1570.6,238.5 1571.2,239.6 1571.8,238.1 1572.5,237.1 1573.1,240.1 1573.7,238.1 1574.3,238.3 1574.9,235.3 1575.5,238.3 1576.1,235.8 1576.7,238.3 1577.3,237.9 1578,238.1 1578.6,236.3 1579.2,238.8 1579.8,237 1580.4,236.4 1581,236.4 1581.6,238.1 1582.2,236.6 1582.8,234.9 1583.5,238.9 1584.1,236.5 1584.7,236.8 1585.3,235.4 1585.9,236.8 1586.5,237.5 1587.1,432.3 1593.2,361 1593.8,238 1594.5,236 1595.1,239 1595.7,237.2 1596.3,239.6 1596.8,238.1 1597.4,236.9 1598,238.6 1598.6,235.3 1599.2,237.9 1599.8,237 1599.3,314.6 1603,321.9 1603.6,236.4 1604.2,235 1604.8,234 1605.5,235.5 1606.1,237.9 1606.7,235 1607.3,232.3 1607.9,233.9 1608.5,236.6 1609.1,232.8 1609.7,233.6 1610.3,236.1 1611,231.8 1611.6,237.3 1612.2,234.9 1612.8,232.2 1613.4,232.7 1614,234.3 1614.6,236.3 1615.2,238.4 1615.8,234.7 1616.5,235.8 1617.1,234.9 1617.7,235.8 1618.3,234.5 1618.9,235.9 1619.5,234.5 1620.1,234.6 1620.7,239.1 1621.3,240.6 1622,237.5 1622.6,240.1 1623.2,241.1 1623.8,239.4 1624.4,239.8 1625,240.7 1625.6,241.2 1626.2,242.4 1626.9,242.6 1627.5,242.5 1628.1,243.3 1628.7,241.4 1629.3,241.9 1629.9,243 1630.5,242.9 1631.1,243.9 1631.7,245.6 1632.4,243.8 1633,243 1633.6,243.6 1634.2,241.8 1634.8,243.6 1635.4,243.3 1636,240 1636.6,242.3 1637.2,240.2 1637.9,238.2 1638.5,239.8 1639.1,239.8 1639.7,240.8 1640.3,237.5 1640.9,237.2 1641.5,237.1 1642.1,239.9 1642.7,237.1 1643.3,237.1 1643.9,236.5 1644.5,241.1 1645.1,235.3 1645.7,236.8 1646.3,235.1 1646.8,235.4 1647.4,237 1648,239.4 1648.6,236.6 1649.2,238.3 1649.8,233.2 1650.4,237.3 1651,236.4 1651.6,235.5 1652.2,233.8 1652.8,238.7 1653.4,233.8 1654,235.1 1654.6,234.6 1655.2,234.2 1655.7,234.7 1656.3,234.2 1656.9,233.8 1657.5,233.7 1658.1,232.7 1658.7,235.3 1659.3,235.2 1659.9,232.3 1660.5,231.8 1661.1,236.2 1661.7,233.9 1662.3,231.2 1662.9,234.4 1663.5,230.2 1664.1,234.1 1664.7,230.1 1665.4,231.7 1666,232.4 1666.6,233.7 1667.2,231.9 1667.8,231.4 1668.4,230.7 1669,229.8 1669.6,231.4 1670.2,230.6 1670.9,230.1 1671.5,227.8 1672.1,229.7 1672.7,227.8 1673.3,232.3 1673.9,233 1674.5,231.4 1675.1,233.3 1675.7,233.9 1676.4,234.6 1677,235 1677.6,234.6 1678.2,238.3 1678.8,234.5 1679.4,237.7 1680,239.2 1680.6,238.2 1681.2,236.3 1681.9,238.7 1682.5,238.8 1683.1,240.3 1683.7,239.5 1684.3,237.3 1684.9,241.6 1685.5,240.8 1686.1,240.5 1686.7,239.1 1687.4,241.8 1688,240.8 1688.6,243.8 1689.2,240.9 1689.8,242.7 1690.4,241.3 1691,245.1 1691.6,244 1692.2,242.2 1692.9,242.9 1693.5,238.5 1694.1,242.1 1694.7,238.9 1695.3,244 1695.9,241.9 1696.5,239.6 1697.1,242 1697.7,241.2 1698.4,241 1699,241.8 1699.6,236.7 1700.2,238.6 1700.8,237.6 1701.4,239.1 1702,236.6 1702.6,236.6 1703.2,234.2 1703.9,233.6 1704.5,236.1 1705.1,239.5 1705.7,238.5 1706.3,234.5 1706.9,238 1707.4,234.8 1708,234.9 1708.6,238.7 1709.2,235 1709.8,236.9 1710.4,237.3 1711,234.7 1711.6,236.8 1712.2,235.2 1712.8,234.4 1713.4,236.7 1714,234.6 1714.6,237.7 1715.2,233.2 1715.8,236.7 1716.4,237.1 1717,234 1717.6,235.7 1718.2,238.1 1718.8,237.6 1719.4,234 1720,235.9 1720.5,233.8 1721.1,233.6 1721.7,237.6 1722.3,236.3 1722.9,235 1723.5,234.7 1724.1,234.9 1724.7,234.2 1725.3,233.9 1725.9,238 1726.5,238.3 1727.1,233.9 1727.7,236.1 1733.8,219.2 1730.1,252.2 1730.7,237.5 1731.4,236.5 1732,236.9 1732.6,236.8 1733.2,236.8 1733.8,236.4 1734.4,234.3 1735,235.3 1735.6,234 1736.2,233.6 1736.9,235 1737.5,234.9 1738.1,233.6 1738.7,233.7 1739.3,233.4 1739.9,233.9 1740.5,232.3 1741.1,232.6 1741.8,234 1742.4,230.9 1743,229.1 1743.6,230.5 1744.2,228.9 1744.8,228 1745.4,229 1746,232.6 1746.6,230.8 1747.3,230.7 1747.9,232.1 1748.5,230.3 1749.1,235.6 1749.7,230.2 1750.3,233.6 1750.9,233.8 1751.5,231.8 1752.1,237.1 1752.8,234.5 1753.4,237.2 1754,237 1754.6,237.4 1755.2,235.4 1755.7,235.1 1756.3,236.8 1756.9,239 1757.5,236.1 1758.1,235.6 1758.7,234.7 1759.3,238.7 1759.9,236.1 1760.5,240 1761.1,236.9 1761.7,238.7 1762.3,236.5 1762.9,237.6 1763.5,235.7 1764.1,239.4 1764.7,237.9 1765.3,236.4 1765.9,238 1766.5,236.6 1767.1,236.8 1767.7,237.5 1768.3,239.2 1768.9,236.9 1769.5,237.9 1770.1,236 1770.7,237.3 1771.3,237.2 1771.8,239.4 1772.4,236.2 1773,236.7 1773.6,237.6 1774.2,236.8 1774.8,237.1 1775.4,238.2 1776,236.6 1776.6,236.1 1777.2,240.8 1777.8,239.1 1778.4,239.3 1779,239.7 1779.6,239.6 1780.2,237.6 1780.8,238.7 1781.4,236.4 1782,236.1 1782.6,239.3 1783.1,238.1 1783.7,238 1784.3,237.7 1784.9,239.3 1785.5,240.7 1786.1,236.3 1786.7,239.5 1787.3,238.7 1787.9,236.4 1788.5,237.5 1789.1,235.3 1789.7,236.7 1790.3,237.4 1790.8,237.3 1791.4,238.1 1792,235.6 1792.6,237.4 1793.2,236.9 1793.8,239.1 1794.4,235.9 1795,234.7 1795.6,236.6 1796.2,236 1796.8,236.8 1797.4,235.6 1801,227.8 1801.2,280.4 1801.8,235.1 1802.3,233.7 1802.9,234.2 1803.5,230.6 1804.1,236.7 1804.7,233.2 1805.3,233.3 1805.9,234.3 1806.5,234.5 1807.1,233.5 1807.8,234.1 1808.4,236.1 1809,234.5 1809.6,233.9 1810.2,236.2 1810.8,235.9 1811.4,235.7 1812,237.9 1812.6,239.9 1813.3,236.9 1813.9,238.3 1814.5,236.8 1815.1,237.8 1815.7,237.4 1816.3,236.6 1816.9,239.2 1817.5,236 1818.1,239.5 1818.7,240.2 1819.3,238.4 1819.9,236.7 1820.5,238.1 1821.1,239.3 1821.7,235.1 1822.3,237.3 1822.9,236.1 1823.5,236.4 1824.1,238.9 1824.7,236.3 1825.2,234.9 1825.8,237.5 1826.4,237.9 1827,236.4 1827.6,236.9 1828.2,236.8 1828.8,240.9 1829.4,237.3 1830,238 1830.6,237.1 1831.2,238.7 1831.8,239 1832.4,239.5 1833,240 1833.6,239.6 1834.2,237.3 1834.8,237.4 1835.4,236.6 1836,238.9 1836.5,237.7 1837.1,239 1837.7,240.6 1838.3,239.6 1838.9,238.2 1839.5,240.4 1840.1,239.3 1840.8,240.9 1841.4,240.2 1842,243.4 1842.6,243.6 1843.2,241.4 1843.8,246.6 1844.4,243.6 1845,244.6 1845.6,244.2 1846.3,244.6 1846.9,246.1 1847.5,247.8 1848.1,247.6 1848.7,247.8 1849.3,245.4 1849.9,248.9 1850.5,246.5 1851.2,244.6 1851.8,243.6 1852.4,244.5 1853,245.2 1853.6,241.8 1854.2,243.2 1854.8,241.1 1855.4,240.5 1856,239.9 1856.7,241.4 1857.3,240.2 1857.9,241 1858.5,239.2 1859.1,241.2 1859.7,238.7 1860.3,235.6 1860.9,237.8 1861.6,237.8 1862.3,238.5 1862.9,236.1 1863.6,234.9"/>
<polyline stroke="#008000" marker-start="url(#mg)" marker-mid="url(#mg)" marker-end="url(#mg)" points="250.3,242.3 250.9,241.2 251.5,237.5 252.2,238.9 252.8,237.3 253.4,237.7 254,240.2 254.7,238.2 255.3,240 255.9,237 256.5,239.8 257.1,239.6 257.7,239.3 258.3,237.2 258.9,235.9 259.6,236 260.2,235.4 260.8,237.6 261.4,236.8 262,232.7 262.6,236.3 263.2,233.8 263.8,233.6 264.4,232.8 265.1,233.2 265.7,234.7 266.3,233.5 266.9,233.7 267.5,234.1 268.1,234.2 268.7,231.5 269.3,233.9 269.9,234.9 270.6,233.6 271.2,232.1 271.8,232.9 272.4,235.4 273,229.9 273.6,232.8 274.2,232.4 274.8,230.6 275.4,232.4 276.1,233.8 276.7,234.6 277.3,234.8 277.9,234.2 278.5,235.6 279.1,234.5 279.7,235.5 280.3,234.7 280.9,233.8 281.5,233.7 282.1,232.9 282.7,234.5 283.3,235.2 283.9,234.1 284.5,232.1 285.1,233.2 285.7,234 286.3,235.1 286.9,235.6 287.5,232.9 288.1,234.3 288.7,237 289.3,231.2 289.9,231.6 290.5,232.6 291.1,234.7 291.7,231.5 292.3,234 292.9,231.1 293.5,234 294.1,232.7 294.7,233.1 295.3,235.4 295.9,230.6 296.5,233.2 297.1,232.1 297.7,232.2 298.3,235.2 298.9,233.6 299.5,233.2 300.1,232.6 300.7,233.2 301.3,230.5 301.9,233.9 302.5,230.2 303.1,229.6 303.7,231.8 304.3,232.3 304.9,231.3 305.5,231.4 306.1,231 306.7,231.7 307.3,231.8 307.9,231 308.5,231.4 309.1,230.2 309.7,232.7 310.3,229.6 310.9,232.5 311.5,234.2 312.1,232.8 312.7,232.2 313.3,233.2 314,231.7 314.6,234 315.2,231.8 315.9,232.3 316.5,233.2 317.1,232.5 317.7,233.4 318.2,244.9 318.4,251 319,240.6 319.7,238.4 320.2,237.8 320.8,234.1 321.3,233.2 321.9,230.3 322.5,226.5 323.1,225.1 323.7,222.9 324.3,221.6 325,216.7 325.6,219.1 326.2,215.2 326.8,216.1 327.4,213.9 328,213.9 328.6,216.6 329.2,213.8 329.8,216.6 330.4,216.2 330.9,218.9 331.6,223.9 332.2,226.5 332.9,229.5 333.5,233.6 334.1,230.8 334.7,229.8 335.3,232.1 336,232.1 336.6,229.5 337.2,233.8 337.8,232.8 338.4,232.5 339,230.4 339.6,235.7 340.2,234.2 340.8,232.9 341.5,235.1 342.1,235.6 342.7,234.7 343.3,234.5 343.9,233.7 344.5,233.8 345.1,233.5 345.7,232.4 346.3,234.8 347,231.5 347.6,230.1 348.2,233 348.8,230 349.4,231.3 350,230.1 350.6,226.3 351.2,229.1 351.8,227.5 352.5,227 353.1,227.1 353.7,225.7 354.3,225.6 354.9,226.1 355.5,226.1 356.1,226.9 356.7,228.2 357.3,227.5 358,230.3 358.6,229.9 359.2,229.2 359.8,229.4 360.4,231.1 361,231.7 361.6,230.1 362.2,233.2 362.8,230.3 363.5,231.1 364.1,233.9 364.7,232.2 365.3,234 365.9,233.4 366.5,230.9 367.1,233.7 367.7,232.8 368.3,230.7 369,233.3 369.6,234.1 370.2,231.1 370.8,231.3 371.4,233.5 372,233.7 372.6,234.1 373.2,234.1 373.8,234 374.5,236.8 375.1,232.9 375.7,235.1 376.3,234 376.9,234.4 377.5,233.7 378.1,235.8 378.7,233.9 379.3,235.4 379.9,234.6 380.5,233.7 381,235.6 381.6,233.3 382.2,234.1 382.8,236.2 383.4,235.5 384,233.6 384.6,233.5 385.2,233.3 385.8,233.2 386.4,232.2 387,231.8 387.6,234.6 388.1,233.2 388.7,233.6 389.6,247.4 389.7,275.5 390.3,275.9 391,274.5 391.6,270.7 392.2,273.2 392.8,271 393.4,273.4 394,272.1 394.6,270.1 395.2,268.8 395.8,267.5 396.5,268.9 397.1,263.4 397.7,264.3 398.3,261.3 398.9,258.7 399.5,254.5 400.1,251 400.7,248.6 401.3,248.6 402,246.1 402.6,246 403.2,244.8 403.8,244.8 404.4,241.6 405,244.1 405.6,241.4 406.2,240.4 406.9,241.4 407.5,240.2 408.1,239.6 408.7,242.7 409.3,240.5 409.9,240.4 410.5,240.5 411.1,240.3 411.7,242.1 412.4,239.3 413,239.6 413.6,239.8 414.2,241.2 414.8,238.1 415.4,238 416,239.1 416.6,238.4 417.2,239.9 417.9,238.4 418.5,240.5 419.1,236 419.7,234.9 420.3,237.8 420.9,238.3 421.5,236.9 422.1,235.5 422.7,237.9 423.4,239.3 424,234.8 424.6,236.6 425.2,237.3 425.8,234.3 426.4,236.1 427,235.1 427.6,237.1 428.2,235.8 428.9,234.6 429.5,236.2 430.1,233.2 430.7,234.5 431.3,237.3 431.9,236 432.5,235.7 433.1,235.2 433.7,238.4 434.4,236.9 435,234.7 435.6,238 436.2,236.5 436.8,237.5 437.4,236.4 438,235.4 438.6,234.1 439.2,236.8 439.8,235.5 440.4,236.4 441,236.5 441.6,234.5 442.2,235.4 442.8,236.9 443.4,235.2 444,235.6 444.5,236 445.1,236.8 445.7,236 446.3,235.4 446.9,233.4 447.5,235 448.1,234.3 448.7,234.5 449.3,234.5 449.9,237.5 450.5,236.1 451.1,237.5 451.7,237.2 452.3,238.3 452.9,234.5 453.5,236.4 454.1,236.3 454.7,235.7 455.3,235.6 455.9,235.7 456.5,236.3 457.1,237 457.7,235.9 458.3,236.4 458.9,236.6 459.3,214.4 459.4,176.5 460.3,236.2 460.9,234 461.5,238.1 462.1,238.2 462.7,236.1 463.3,235.5 463.9,236.7 464.5,236.2 465.1,233.9 465.7,237.4 466.3,235.9 466.9,237.1 467.5,234.9 468.1,237.1 468.7,233.5 469.3,237.6 469.9,235.7 470.6,236.5 471.2,236.4 471.8,235.7 472.4,236.3 473,233.6 473.6,233.7 474.2,233.7 474.8,236.3 475.4,234 476,231.3 476.6,233.8 477.2,234.4 477.8,234.1 478.4,235.5 479,232.2 479.6,236.8 480.2,233.5 480.8,235.4 481.4,234 482,235.2 482.7,233.2 483.3,231.9 483.9,234.4 484.5,233 485.1,235.1 485.7,234 486.3,236.3 486.8,234.8 487.4,235.7 488,234.2 488.6,232.9 489.2,232.7 489.8,234.5 490.4,232.9 491,233.1 491.6,233.2 492.2,232.6 492.8,233 493.4,233.8 494,232 494.6,233.6 495.2,235.3 495.8,233.1 496.4,233.3 497,232.7 497.6,235 498.1,233.2 498.7,231.3 499.3,231.3 499.9,232.6 500.5,231.6 501.1,232.9 501.7,232.6 502.3,233.7 502.9,231.1 503.5,233 504.1,232.9 504.7,234.6 505.3,233.1 505.9,232.1 506.5,233.8 507.1,231.7 507.7,232.6 508.3,230.2 508.9,229.9 509.5,232 510.1,231.6 510.7,231.4 511.3,232.8 511.9,231.2 512.5,233.5 513.2,233 513.8,232.9 514.4,233.7 515,232.1 515.6,231 516.2,232.4 516.8,232.5 517.4,231.5 518,231.9 518.6,231.3 519.2,234.2 519.8,232.9 520.5,231.9 521.1,234 521.7,232.8 522.3,233.9 522.9,232.5 523.5,234 524.1,235.6 524.7,236.6 525.3,233.7 525.9,233.1 526.5,233.7 527.1,235.1 527.7,231.6 528.4,233.4 529,234.6 529.7,37 530.3,233.6 530.7,234.4 531.2,235.9 531.8,235.7 532.4,238.2 533,234.8 533.5,232.9 534.1,235.7 534.7,235.7 535.2,235.3 535.8,236.6 536.4,235.7 537,235.8 537.6,234.6 538.2,237.9 538.8,236.7 539.4,236.9 540,235.3 540.6,237.2 541.2,236.9 541.8,233.4 542.3,233.9 542.9,235.6 543.5,232.3 544.1,234.1 544.7,236 545.3,235.4 545.9,235.1 546.5,233.4 547.1,235.9 547.7,234.3 548.3,237.7 548.9,234.5 549.5,234.7 550.1,233.6 550.7,234.5 551.3,234.1 551.9,237 552.5,232.3 553.1,234.7 553.6,232.9 554.2,231.8 554.8,236.4 555.4,236.5 556,234.3 556.6,234.1 557.2,231.9 557.8,234.4 558.4,235.7 559,234.5 559.6,234.1 560.2,234 560.8,232.2 561.4,235.1 562,235.7 562.6,234.5 563.2,234.3 563.8,234.7 564.4,233.9 565,232.5 565.6,232.9 566.2,235.5 566.8,235.6 567.3,234.6 567.9,233.6 568.5,233.4 569.1,232.8 569.7,233.8 570.3,235.8 570.9,233.9 571.5,231.6 572.1,234.5 572.7,234.8 573.3,233.7 573.9,233.8 574.5,233.8 575.1,234.7 575.7,231.7 576.3,232.9 576.9,233.9 577.5,234.6 578.1,235.1 578.7,232.9 579.3,235.3 579.9,235.8 580.5,233 581.1,234.2 581.7,234.8 582.3,235.2 582.9,234.3 583.5,234.4 584.1,234.6 584.7,234.8 585.3,234.5 585.9,237.2 586.5,233.6 587.1,234 587.7,234.1 588.3,234.9 588.9,232.1 589.5,234.9 590.1,235.3 590.8,232.1 591.4,233.7 592,235.3 592.6,233.5 593.2,235.2 593.8,235.9 594.4,234.7 595,235 595.6,232 596.2,233.9 596.8,234.4 597.4,232.7 598,234.3 598.6,235.3 599.3,235.6 599.9,232.5 600.6,354.4 600.7,249.8 600.8,254.7 601.4,239 602,237.9 602.7,239.3 603.3,237.8 603.9,237.7 604.5,239.4 605.1,240.5 605.7,238.9 606.3,239.7 606.9,238.5 607.5,239.5 608.1,239.4 608.7,236.9 609.3,239.5 609.9,237.3 610.5,239.5 611.1,237.4 611.7,239.6 612.3,238.8 612.9,236 613.5,235.5 614.1,237.8 614.7,234.8 615.3,237 615.9,236.7 616.5,236.1 617.1,233.9 617.7,234.8 618.3,239 618.9,236.5 619.5,236 620.1,235.1 620.7,234.4 621.3,233.9 621.9,233.7 622.5,237 623.1,235.4 623.7,232.9 624.3,236.5 624.9,236.3 625.5,235.8 626.1,236.1 626.7,236 627.3,236.5 627.9,237.3 628.5,234.4 629.1,236 629.7,235.4 630.3,235.8 630.9,235.9 631.5,236 632.1,237.9 632.7,237.1 633.3,232.3 633.9,232.6 634.5,234.8 635.1,234.7 635.7,237.4 636.3,238.1 636.9,236.8 637.5,234.8 638.1,237.5 638.7,237 639.4,235.6 640,236.9 640,236.9 640.6,237.2 641.2,237.9 641.8,236.9 642.4,235.5 643,235.6 643.6,234.5 644.2,235.1 644.8,236.4 645.4,234.5 646,234.5 646.6,233.9 647.2,236 647.8,236.4 648.3,233.8 648.9,234.5 649.5,234.9 650.1,233.7 650.7,234.6 651.3,235.8 651.9,234.6 652.5,234.9 653.1,234.3 653.7,233.6 654.3,235.3 654.9,233.9 655.5,234.7 656.1,236 656.7,234.8 657.3,236.9 657.9,235.4 658.5,235.2 659.1,234.4 659.7,234 660.3,236 660.9,233.6 661.5,235.9 662.1,235.9 662.7,233.9 663.3,235.5 663.9,235.8 664.4,233.6 665.1,234.3 665.7,234.2 666.3,235.9 666.9,235.5 667.5,233.7 668.1,233.1 668.7,234.6 669.3,234.6 669.9,233.9 670.5,235.5 671.1,236.3 671.8,147.6 671.9,167.2 672,189.2 672.1,211.9 673,235 673.6,233.3 674.2,231.8 674.8,233.2 675.4,232.4 676.1,235.7 676.7,234.4 677.3,232.4 677.9,233.7 678.5,236.6 679.1,233.3 679.7,235.7 680.3,235.9 680.9,234.4 681.6,237.1 682.2,233.1 682.8,235.7 683.4,234.4 684,236.8 684.6,236.2 685.2,234.7 685.8,237.2 686.4,237.8 687.1,236.1 687.7,236.4 688.3,235.2 688.9,235.2 689.5,237.5 690.1,235.8 690.7,235.7 691.3,234.8 691.9,236.5 692.5,232.7 693.1,235.7 693.7,233.1 694.3,235.2 694.9,236.2 695.5,235.8 696,235 696.6,238.3 697.2,234.8 697.8,235.1 698.4,237.1 699,233.1 699.6,235.3 700.2,235.8 700.8,234.8 701.4,234.2 702,234.1 702.6,233.5 703.2,233.9 703.8,232.8 704.4,232.6 705,232.5 705.6,234.1 706.2,232.1 706.8,232 707.4,235 708,232.7 708.6,233.5 709.2,234 709.8,230.6 710.4,232 711,232 711.6,231.6 712.1,232.2 712.7,232.5 713.3,232.4 713.9,232.3 714.5,235.4 715.1,232.5 715.7,234.4 716.3,235 716.9,230.6 717.5,231.6 718.1,230.5 718.7,232.8 719.2,231.3 719.8,231.7 720.4,228.5 721,231.4 721.6,231.6 722.2,230 722.8,231.1 723.4,231.3 724,232.7 724.6,231.7 725.1,228.1 725.7,229 726.3,230.6 726.9,228.9 727.5,228.5 728.1,227.5 728.7,228.8 729.3,229.6 729.9,228.7 730.5,229.2 731.1,227.9 731.7,227.7 732.3,229.6 732.9,232.4 733.5,230.5 734.1,230.3 734.7,234.3 735.3,234.6 736,234.7 736.6,234 737.2,232.5 737.8,232.9 738.4,235.5 739,237 739.5,234.1 740.1,234.4 740.7,232.9 741.3,235.2 742.2,148.4 742.3,181.8 742.9,224.4 743.5,225.5 744,222.4 744.6,222.5 745.1,222.9 745.7,224 746.3,222.3 747,221.8 747.6,221.7 748.2,222.5 748.8,222.4 749.4,222 750,221.9 750.6,223.9 751.2,224 751.8,223.5 752.5,222.8 753.1,226.8 753.7,225.8 754.3,229.2 754.9,228.9 755.5,229.7 756.1,229.2 756.7,228.8 757.3,231 758,231.5 758.6,228.6 759.2,227.7 759.8,228 760.4,226 761,223.3 761.6,224.5 762.2,222.7 762.8,220.3 763.5,218.2 764.1,218.2 764.7,219.9 765.3,220.1 765.9,221.5 766.5,224.7 767.1,228 767.7,228.9 768.3,230 769,230.4 769.6,232.1 770.2,231.2 770.8,233 771.4,230.4 772,233.8 772.6,233.1 773.2,232.5 773.8,234.1 774.5,235.8 775.1,235.3 775.7,237.9 776.3,235.7 776.9,235.4 777.5,238.4 778.1,236.3 778.7,236.8 779.3,238.4 780,234.5 780.6,234.5 781.2,232.7 781.8,233.4 782.4,235.8 783,234.5 783.6,235.3 784.2,236.6 784.8,236.3 785.5,233.3 786.1,235.6 786.7,234.4 787.3,236.4 787.9,235.8 788.5,235.7 789.1,233.1 789.7,237.3 790.3,234.4 791,234.5 791.6,231.4 792.2,234.5 792.8,236.1 793.4,236.3 794,235.4 794.6,237 795.2,236 795.8,235.8 796.5,233.4 797.1,236.9 797.7,235.9 798.3,233.9 798.9,235.2 799.5,233.5 800.1,233.1 800.7,233.6 801.3,233.1 802,231.6 802.6,231.8 803.2,232.2 803.8,230.2 804.4,229.6 805,228.8 805.6,229.3 806.2,228.3 806.9,227.6 807.5,227.3 808.1,228.4 808.7,228.2 809.3,229.1 809.9,225.6 810.5,225.8 811.1,226.2 811.7,225.7 812.4,37 812.5,37 812.6,270.6 812.7,251 813.3,207 813.9,208.4 814.4,209 814.9,208 815.5,210.6 816,209.2 816.6,210.9 817.2,207.3 817.9,205.9 818.5,207.8 819.1,208.8 819.7,207.5 820.3,207.7 820.9,204.8 821.5,207.4 822.1,208.8 822.7,209.9 823.4,208 824,211.9 824.6,210.8 825.2,209.1 825.8,209.4 826.4,207.8 827,205.2 827.6,206 828.2,203.5 828.9,202.1 829.5,200.1 830.1,201.5 830.7,197.8 831.3,197.2 831.9,197.8 832.5,194.4 833.1,195.5 833.7,194.4 834.4,192.6 835,191.6 835.6,193.7 836.2,192.7 836.8,191.5 837.4,194.3 838,194.6 838.6,195.3 839.2,197.2 839.9,195.8 840.5,194.1 841.1,195.6 841.7,197.9 842.3,198.6 842.9,200.8 843.5,202.2 844.1,202.2 844.7,201.9 845.4,201.7 846,203.3 846.6,205.8 847.2,208.2 847.8,206 848.4,213.5 849,217.2 849.6,221.7 850.2,228 850.9,224.3 851.5,223.6 852.1,222.7 852.7,219.4 853.3,219.4 853.9,217.6 854.5,215.1 855.1,213 855.7,217.9 856.4,216.7 857,219.8 857.6,221.2 858.2,223.9 858.8,226.3 859.4,227.3 860,229.6 860.6,229.2 861.2,225 861.9,224.2 862.5,223 863.1,221.6 863.7,221 864.3,219.4 864.9,218.8 865.5,215.6 866.1,214.9 866.7,214.2 867.4,211.1 868,213.7 868.6,217.1 869.2,213.8 869.8,212 870.4,214 871,216.7 871.6,217.7 872.2,214.8 872.9,217.4 873.5,223.7 874.1,222.1 874.7,224.6 875.3,226.5 875.9,227.6 876.5,228.2 877.1,229.3 877.7,230 878.4,229.3 879,229.5 879.6,230.8 880.2,233.8 880.8,233.4 881.4,231 882,432.3 884.5,432.3 886.9,323.1 887,295 887.2,270.6 887.8,212.7 888.3,212.7 888.8,212.1 889.4,212 890,200 890.7,182.5 891.3,172.1 891.9,173 892.5,176.7 893,178.2 893.6,180.2 894.2,181.1 894.9,183.4 895.5,183.4 896.1,183.7 896.7,184.9 897.3,185.2 897.9,184.4 898.5,187.5 899.1,186.4 899.7,189.8 900.4,190 901,190.5 901.6,190.4 902.2,192.6 902.8,196.7 903.4,197.8 904,200.2 904.6,205.3 905.2,206.7 905.9,205.4 906.5,210.3 907.1,202.8 907.7,200.4 908.3,194.8 908.9,189.2 909.5,190.5 910.1,189.7 910.7,187.7 911.4,188.3 912,186 912.6,190 913.2,188 913.8,185.8 914.4,187.6 915,186.7 915.6,185.7 916.2,185.1 916.2,204.7 915.6,209.7 915,215.2 915.6,226.8 916.2,238.9 916.9,242 917.5,240.1 918.1,237.8 918.7,238.3 919.3,241.7 919.9,238.7 920.5,240.2 921.1,239.6 921.8,237.9 922.4,242 923,238.8 923.6,240.4 924.2,238.9 924.8,243.2 925.4,242.7 926,241.5 926.6,242.4 927.3,242.7 927.9,240.6 928.5,240.2 929.1,242.2 929.7,241.6 930.3,242.1 930.9,242.8 931.5,242.3 932.1,239.9 932.8,242.7 933.4,243 934,242.3 934.6,240.8 935.2,240.6 935.8,240 936.4,238.2 937,241.1 937.6,238.3 938.3,238.7 938.9,237.9 939.5,240.3 940.1,240.8 940.7,241 941.3,237.5 941.9,238.6 942.5,237 943.1,238.5 943.8,238.1 944.4,237.3 945,238 945.6,235.6 946.2,236.8 946.8,236.6 947.5,236 948.1,236.2 948.7,237.5 949.3,235.9 949.9,237.6 950.6,238.1 951.2,237.4 951.8,239.3 952.4,236 953,236 953.6,239.2 954.1,180.1 954.3,199.7 954.4,273 955,238.9 955.5,235.9 956.1,234.7 956.7,237.7 957.2,235.1 957.8,234.5 958.4,236.7 959,238.3 959.6,235.7 960.3,235 960.9,235.8 961.5,237.1 962.1,235.9 962.7,238.2 963.3,236.7 963.9,238.1 964.5,239.7 965.1,252.2 967.6,257.1 968.2,236.8 968.8,236.5 969.4,238.7 970,238.8 970.6,239 971.3,237.3 971.9,238.5 972.5,237.2 973.1,238.3 973.7,239.2 974.3,236.6 974.9,237.7 975.5,236.9 976.1,240.2 976.8,236.3 977.4,236.7 978,235.1 978.6,235.8 979.2,236.3 979.8,236.3 980.4,236.8 981,234.7 981.6,238.3 982.3,237.5 982.8,237.7 983.4,238.2 984,237.5 984.6,236.1 985.2,234.7 985.8,235.6 986.4,235.4 987,235.4 987.6,234.8 988.2,237.4 988.8,234.8 989.4,235.9 990,234.1 990.6,234.9 991.1,233.5 991.7,234.8 992.3,235.5 992.9,234.9 993.5,236.5 994.1,233.7 994.7,233.4 995.3,231.8 995.9,232.7 996.5,232.4 997.1,233.8 997.7,234.2 998.3,234 998.9,232.3 999.4,232.8 1000,233 1000.6,231.1 1001.2,233.6 1001.8,233.3 1002.4,233.5 1003,232.3 1003.6,236.5 1004.3,231.8 1004.9,233.5 1005.5,235.3 1006.1,235.6 1006.7,236.1 1007.3,235.4 1007.9,238 1008.5,238.9 1009.1,237.2 1009.8,237.3 1010.4,239.4 1011,239.9 1011.6,238.8 1012.2,238.7 1012.8,238.3 1013.4,238 1014,237.8 1014.6,239 1015.1,240.9 1015.7,240 1016.3,238.6 1016.9,238.5 1017.5,240.2 1018.1,237.9 1018.7,239.7 1019.3,241.4 1019.9,238.6 1020.5,239.9 1021.1,239.5 1021.7,242.5 1022.2,239.2 1022.8,238.9 1023.4,238.7 1023.8,332.9 1023.9,249.8 1024.5,241 1025.1,242 1025.7,242.3 1026.3,244.1 1026.9,243.5 1027.5,240.6 1028.1,243.6 1028.7,242.8 1029.3,242.3 1029.9,242.2 1030.5,242.3 1031.2,240.4 1031.7,241 1032.3,241.4 1032.9,240.3 1033.5,241.3 1034.1,241.9 1034.7,238.8 1035.3,241.8 1035.8,240.9 1036.4,241 1037,242 1037.6,241.3 1038.2,241.8 1038.8,238.6 1039.4,240.7 1040,242.8 1040,242.8 1040.6,241.8 1041.2,242.7 1041.8,245.2 1042.4,243.7 1043.1,241.9 1043.7,243.5 1044.3,243.2 1044.9,244.4 1045.5,243.7 1046.1,244.1 1046.7,245.2 1047.3,245.5 1047.9,244.8 1048.6,244.5 1049.2,245.6 1049.8,242.7 1050.4,243.8 1051,241.2 1051.6,243.2 1052.2,242.9 1052.8,243.5 1053.4,242.4 1054.1,243.1 1054.7,242.8 1055.3,242.2 1055.9,241.9 1056.5,241 1057.1,239.9 1057.7,239.3 1058.3,238.8 1058.9,237.5 1059.6,236.3 1060.2,233.1 1060.8,232.5 1061.4,233.6 1062,233.2 1062.6,233 1063.2,235.2 1063.8,233.4 1064.4,231.8 1065.1,233.1 1065.7,230.4 1066.3,232 1066.9,232.9 1067.5,234.5 1068.1,231.1 1068.7,232.5 1069.3,230.5 1069.9,232.1 1070.6,232.2 1071.2,230.1 1071.8,230.5 1072.4,232.3 1073,232.4 1073.6,230.7 1074.2,231.5 1074.8,229.5 1075.4,229.6 1076.1,229.5 1076.7,230 1077.3,231 1077.9,231.5 1078.5,231.9 1079.1,233 1079.7,231.7 1080.3,229.9 1080.9,230.8 1081.5,229.9 1082.1,230.1 1082.7,230.6 1083.3,230.5 1084,230.1 1084.6,227.3 1085.2,230.8 1085.8,232.5 1086.4,231.5 1087,232 1087.6,231.2 1088.2,231.9 1088.8,230.7 1089.4,228.2 1090,231.4 1090.6,231.5 1091.2,233.1 1091.8,233.3 1092.4,232.7 1093,232.3 1093.6,230.1 1094.3,37 1094.4,122.7 1094.5,206.3 1095.1,227.8 1095.7,226.7 1096.3,228.2 1096.9,228.4 1097.5,227.6 1098.1,227.4 1098.7,228.7 1099.3,230.4 1099.9,231.5 1100.5,230.2 1101.1,230.4 1101.7,227.5 1102.3,227.8 1103,232.2 1103.6,229.8 1104.2,231.7 1104.8,232.7 1105.4,229.3 1106,230.3 1106.6,230.1 1107.2,228.3 1107.8,230.6 1108.5,230.2 1109.1,233.2 1109.7,231.2 1110.3,232.8 1110.9,231.9 1111.5,230.5 1112.1,232.1 1112.7,230.7 1113.3,231.7 1113.9,229.1 1114.5,230.9 1115.1,231.7 1115.7,232 1116.3,229.8 1116.9,232.2 1117.5,231.1 1118.1,231.6 1118.7,231.9 1119.3,231.4 1119.9,233.6 1120.5,233.6 1121.1,231.2 1121.7,235 1122.3,231.8 1122.9,231.9 1123.5,230.8 1124.1,235.2 1124.7,234.6 1125.3,233.7 1125.9,235.2 1126.5,235 1127.1,233.2 1127.7,232.5 1128.2,235.5 1128.8,233.4 1129.4,234.7 1130,235.7 1130.6,234.8 1131.2,236.9 1131.8,234.2 1132.4,234.1 1133,232.4 1133.6,235.2 1134.2,236.5 1134.8,236.8 1135.4,235.6 1136,235.4 1136.6,236.5 1137.2,237.1 1137.8,235.7 1138.4,236.6 1139,236.4 1139.6,236.4 1140.2,236.5 1140.8,236.1 1141.5,237.2 1142.1,234.2 1142.7,235.9 1143.3,236.3 1143.9,234.2 1144.5,236.7 1145.1,234.6 1145.7,235.8 1146.3,235.3 1147,236.5 1147.6,236.5 1148.2,233.1 1148.8,235.6 1149.4,233.6 1150,235 1150.6,233.6 1151.2,234.8 1151.8,233.8 1152.4,231.7 1153,234.1 1153.6,232 1154.3,232 1154.9,234.3 1155.5,234.3 1156.1,235.9 1156.7,234.2 1157.3,235.5 1157.9,233.4 1158.5,236.2 1159.1,233.3 1159.7,234.7 1160.3,233.4 1160.9,234.9 1161.5,233.8 1162.1,232.4 1162.7,232.4 1163.3,233.6 1163.9,232.8 1164.5,237.2 1165.2,202.1 1165.3,257.1 1165.9,235.8 1166.5,234.7 1167.1,235 1167.7,235.3 1168.3,235.1 1169,233.5 1169.6,236.9 1170.2,234.7 1170.8,233.8 1171.4,232.9 1172,235.6 1172.6,237.3 1173.2,234.3 1173.8,234.4 1174.5,236.9 1175.1,233.8 1175.7,233.6 1176.3,234.5 1176.9,235.2 1177.5,234 1178.1,236.1 1178.7,235.9 1179.3,235.4 1180,234.6 1180.6,238.5 1181.2,237.5 1181.8,235.6 1182.4,238.3 1183,235.4 1183.6,237.3 1184.2,240.5 1184.8,238.5 1185.5,235.8 1186.1,238.4 1186.7,237.8 1187.3,240.1 1187.9,240.1 1188.5,239.7 1189.1,235.8 1189.7,237.6 1190.3,237.5 1191,238.2 1191.6,239 1192.2,236.9 1192.8,239.6 1193.4,235.8 1194,238.1 1194.6,235.1 1195.2,237.6 1195.8,234.7 1196.5,236 1197.1,232.8 1197.7,232.2 1198.3,231.8 1198.9,230.5 1199.5,232.1 1200.1,233.4 1200.7,235.8 1201.3,235.8 1202,232.9 1202.6,236.2 1203.2,237.2 1203.8,240.1 1204.4,235.8 1205,237.7 1205.6,235.2 1206.2,238.7 1206.9,238.3 1207.5,240.1 1208.1,240.7 1208.7,240.8 1209.3,243.2 1209.9,241.3 1210.5,239.8 1211.1,238.9 1211.7,239.3 1212.4,238.8 1213,240.1 1213.6,238.1 1214.2,238.8 1214.8,238.4 1215.4,240.3 1216,238.8 1216.6,238.9 1217.2,238.5 1217.9,239.2 1218.5,237.7 1219.1,235.7 1219.7,237.2 1220.3,237.6 1220.9,238.9 1221.5,237 1222.1,240.5 1222.7,237.3 1223.4,237.3 1224,235.5 1224.6,235.8 1225.2,233.7 1225.8,235.4 1226.4,234.7 1227,236.5 1227.6,235.5 1228.2,234.2 1228.8,234.4 1229.4,236.6 1230,235.3 1230.6,234.8 1231.2,234.8 1231.8,236.7 1232.4,236.4 1233,238.5 1233.6,239.6 1234.2,241.2 1235.1,432.3 1235.2,432.3 1238,354.4 1238.1,321.9 1238.3,301.1 1241.7,279.1 1241.7,260.7 1242.3,257.2 1242.9,262.6 1243.5,260.4 1244.1,267.7 1244.7,264.1 1245.3,259 1245.9,263 1246.5,262.2 1247.1,269.1 1247.7,256.7 1248.3,260.3 1248.9,259.9 1249.5,265.6 1250.1,258.7 1250.7,264.2 1249,248.5 1249.8,235.3 1250.4,238.2 1251,238.8 1251.6,238.1 1252.2,237.7 1252.8,236.9 1253.4,235.2 1254,234.9 1254.6,238.2 1255.2,237.7 1255.8,237.8 1256.4,232.7 1257,236.3 1257.6,233.9 1258.2,235.6 1258.8,233.7 1259.4,233.8 1260,231.9 1260.6,237.4 1261.2,236.4 1261.8,233.6 1262.4,236 1263,234.7 1263.6,234.5 1264.2,234.1 1264.8,235.8 1265.4,234.4 1266,235.5 1266.6,235 1267.2,236.6 1267.8,235.4 1268.4,235.4 1269,235.5 1269.6,235.7 1270.2,237.2 1270.8,232.8 1271.4,235.4 1271.9,232 1272.5,234 1273.1,236.9 1273.7,233.6 1274.3,236.6 1274.9,236.3 1275.5,235.5 1276.1,235 1276.7,237.1 1277.3,236.6 1277.9,239.2 1278.5,237 1279.1,236 1279.7,237.5 1280.3,238.2 1280.9,238 1281.5,238.3 1282.1,236.5 1282.7,236.3 1283.3,237.1 1283.9,236.9 1284.5,237.1 1285.1,235.4 1285.6,234.5 1286.2,235.5 1286.8,235.1 1287.4,235.1 1288,236.2 1288.6,237.1 1289.2,237.3 1289.8,235.5 1290.4,237.9 1291,236.6 1291.6,235.7 1292.1,237 1292.7,236.6 1293.3,237.1 1293.9,235.8 1294.5,237.2 1295.1,236.4 1295.7,237 1296.3,235.4 1296.9,237.2 1297.5,235.7 1298,237.3 1298.6,236.7 1299.2,235.1 1299.8,236.2 1300.4,238.9 1301,237.6 1301.6,237.6 1302.2,235.4 1302.8,238.8 1303.4,238.1 1304,237.6 1304.6,236.5 1305.2,235.4 1305.8,234.8 1306.5,262 1306.6,224.1 1311.4,249.8 1312,242.9 1312.6,241.5 1313.2,240.7 1313.8,239.9 1314.4,240 1315,241.2 1315.6,239.4 1316.2,240.1 1316.9,238.9 1317.5,239.3 1318.1,240.4 1318.7,239.6 1319.3,238 1319.9,237.1 1320.5,237.1 1321.1,236.4 1321.8,236.9 1322.4,236.9 1323,236.5 1323.6,237 1324.2,235.8 1324.8,235.2 1325.4,234.9 1326,234.4 1326.6,234.3 1327.3,231.1 1327.9,233.8 1328.5,233.5 1329.1,231 1329.7,230.8 1330.3,229.6 1330.9,229.3 1331.5,229.4 1332.1,232.2 1332.8,228.5 1333.4,230.2 1334,228.6 1334.6,229.4 1335.2,227.3 1335.8,230.5 1336.4,226.7 1337,229.3 1337.6,228.9 1338.3,229 1338.9,227.2 1339.5,228.4 1340.1,229.2 1340.7,229 1341.3,226.4 1341.9,227.5 1342.5,228.3 1343.1,228.8 1343.8,227.2 1344.4,229 1345,226.4 1345.6,228.7 1346.2,227.5 1346.8,226.5 1347.4,225.7 1348,229.7 1348.6,228.4 1349.3,229.2 1349.9,231.2 1350.5,229 1351.1,233.2 1351.7,231.6 1352.3,229.4 1352.9,230.8 1353.5,230.9 1354.1,231.7 1354.8,231.2 1355.4,233 1356,234.1 1356.6,231.9 1357.2,231.8 1357.8,232.8 1358.4,235.4 1359,234.3 1359.6,232.8 1360.3,237.4 1360.9,237.3 1361.5,237.3 1362.1,235.3 1362.7,235.5 1363.3,236.4 1363.9,237.5 1364.5,237.8 1365.1,240 1365.7,238.8 1366.4,237.9 1367,239.4 1367.6,242 1368.2,238.9 1368.8,242.8 1369.4,239.1 1370,240.7 1370.6,241 1371.2,241.7 1371.8,242.3 1372.4,241.3 1373,242 1373.6,240.3 1374.2,241.8 1374.8,241.3 1375.4,243.1 1376.1,37 1376.3,224.1 1376.9,240.4 1377.5,241.8 1378,240.4 1378.6,241 1379.2,238.1 1379.8,242.8 1380.4,242.2 1381,240.1 1381.6,243.3 1382.3,239.2 1382.9,241.5 1383.5,239.2 1384.1,242.8 1384.7,239.8 1385.3,238.3 1385.9,242.2 1386.5,242 1387.1,240.2 1387.8,240.7 1388.4,239.6 1389,240.1 1389.6,240.1 1390.2,239.6 1390.8,239.2 1391.4,238.8 1392,241.2 1392.6,238.4 1393.3,240.1 1393.9,240.2 1394.5,238.2 1395.1,238.1 1395.7,238.5 1396.3,239.3 1396.9,240.7 1397.5,237.4 1398.1,237.2 1398.8,237.9 1399.4,237.5 1400,236 1400.6,239 1401.2,241.3 1401.8,236.9 1402.4,238.7 1403,239.6 1403.6,237.6 1404.3,238.2 1404.9,237.9 1405.5,240.4 1406.1,235.7 1406.7,238.1 1407.3,237.4 1407.9,236.6 1408.5,236.5 1409.1,236.4 1409.7,236.9 1410.3,238.7 1410.9,239.6 1411.5,237.5 1412.1,237.1 1412.7,238.6 1413.3,237.3 1413.9,237.2 1414.5,239.4 1415.1,237 1415.6,237 1416.2,235.7 1416.8,238 1417.4,236.4 1418,236.9 1418.6,235.4 1419.2,236 1419.8,237.7 1420.4,237.7 1421,238 1421.6,238.3 1422.2,238.2 1422.8,237.7 1423.4,235.8 1424,236.5 1424.6,237.2 1425.2,235 1425.8,236.5 1426.4,240 1427,237.2 1427.6,237.6 1428.2,237.5 1428.8,237.7 1429.4,235.7 1430,238.1 1430.6,237 1431.2,237.5 1431.8,241.5 1432.4,238.6 1433,239 1433.6,240.2 1434.2,236.6 1434.8,238.4 1435.4,237.4 1436,239 1436.7,239.9 1437.3,237.1 1437.9,238.2 1438.5,238.5 1439.1,239.3 1439.7,236.1 1440.3,235 1440.9,237.1 1441.5,237.5 1442.2,237.1 1442.8,235.8 1443.4,235.7 1444,235.7 1444.6,236.8 1445.2,235.1 1445.8,235.1 1446.4,235 1447,432.3 1447.2,299.9 1450.7,285.3 1451.3,248 1451.9,250.8 1452.5,252.1 1453.2,249.7 1453.8,245.7 1454.4,244 1455,245.2 1455.6,239.1 1456.2,239.9 1456.9,238.8 1457.5,238.2 1458.1,239.2 1458.7,238.3 1459.4,235.9 1460,238.2 1460,238.2 1460.6,239.3 1461.2,238.5 1461.8,236 1462.4,235.1 1463,238.1 1463.6,236.7 1464.2,238.7 1464.8,239.9 1465.4,240.5 1466,238.7 1466.6,238.9 1467.2,238.2 1467.8,238.7 1468.3,239 1468.9,237.7 1469.5,237.6 1470.1,239.3 1470.7,240.9 1471.3,239.1 1471.9,239.3 1472.5,239.7 1473.1,238.3 1473.7,237.3 1474.3,238.5 1474.9,239.2 1475.5,236.7 1476.1,237.1 1476.7,236.7 1477.3,236 1477.9,236.5 1478.5,237.4 1479.1,236.4 1479.7,235.9 1480.3,236.8 1480.9,235.3 1481.5,237 1482.1,237.8 1482.7,236.7 1483.3,236.6 1483.9,238.2 1484.4,237.8 1485,238.1 1485.6,237.8 1486.2,235.1 1486.8,238.2 1487.4,236.6 1488,239.9 1488.6,234.7 1489.2,238.1 1489.8,235.1 1490.4,235.4 1491,238.1 1491.6,238.1 1492.2,238.2 1492.8,238.5 1493.4,238.3 1494,235.9 1494.6,238.9 1495.2,238.9 1495.8,238.6 1496.4,239.2 1497,240.4 1497.6,238 1498.2,238.6 1498.8,240.6 1499.4,240.2 1499.9,239.4 1500.5,239.8 1501.1,238.3 1501.7,237.3 1502.3,239.3 1502.9,239.4 1503.5,238.6 1504.1,238.9 1504.7,238.5 1505.3,238.7 1505.9,237.8 1506.5,238.3 1507.1,238 1507.7,237.9 1508.3,238.3 1508.9,238.6 1509.5,238.4 1510.1,239.8 1510.7,238 1511.3,239.4 1511.9,237.4 1512.6,237.4 1513.2,234.9 1513.8,237.6 1514.4,237.9 1515,237.5 1515.6,238.7 1516.2,235.6 1516.8,237.7 1517.4,237.6 1518.2,181.4 1518.3,199.7 1518.4,210.7 1519,235.3 1519.6,237.1 1520.2,234.2 1520.7,237.2 1521.3,236.3 1521.9,238.3 1522.4,234.6 1523,235.6 1523.6,235.6 1524.2,236.1 1524.7,236.4 1525.3,234.9 1525.9,234.5 1526.5,235.8 1527.1,233.7 1527.7,234.9 1528.3,231.1 1528.9,234.4 1529.5,231.8 1530.1,234.2 1530.6,235.9 1531.2,234.8 1531.8,235.5 1532.4,235.4 1533,238.3 1533.6,238.3 1534.2,235.5 1534.8,234.9 1535.4,234.5 1536,235.8 1536.5,233.8 1537.1,233.6 1537.7,234.5 1538.3,235.1 1538.9,234.2 1539.5,233.5 1540.1,231.9 1540.7,232.1 1541.3,230.9 1541.9,233.9 1542.4,232.1 1543,232.8 1543.6,233 1544.2,232.6 1544.8,233.3 1545.4,234 1546,232 1546.6,234.5 1547.2,232.2 1547.8,233.5 1548.3,234.2 1548.9,233.5 1549.5,234.8 1550.1,236.2 1550.7,233.3 1551.3,233.6 1551.9,235.7 1552.5,235 1553.1,236.4 1553.7,237.1 1554.2,236.2 1554.8,237.5 1555.4,239.1 1556,235.3 1556.6,236.1 1557.2,234.1 1557.8,239 1558.4,238.7 1559,238.4 1559.6,240.7 1560.2,238.6 1560.8,237 1561.5,238.6 1562.1,239.4 1562.7,237.8 1563.3,239.6 1563.9,238.8 1564.5,237.7 1565.1,236.1 1565.7,239 1566.3,237 1567,238.6 1567.6,235.2 1568.2,237 1568.8,237.8 1569.4,238.2 1570,238.4 1570.6,237.8 1571.2,239 1571.8,238.2 1572.5,238 1573.1,239.7 1573.7,238.9 1574.3,238.6 1574.9,235.8 1575.5,238.4 1576.1,236.4 1576.7,238.4 1577.3,238 1578,238.6 1578.6,235.9 1579.2,237.1 1579.8,237.2 1580.4,236.8 1581,236.8 1581.6,237.8 1582.2,236.4 1582.8,233.5 1583.5,237.5 1584.1,237.8 1584.7,236.6 1585.3,235.5 1585.9,236.5 1586.5,237.5 1587.1,432.3 1589.6,432.3 1592,331.7 1592.6,236.2 1593.2,235.8 1593.8,238 1594.5,236.7 1595.1,237.3 1595.7,237.3 1596.3,238.5 1596.8,236 1597.4,236.9 1598,240.2 1598.6,235.8 1599.2,238.1 1599.8,237.8 1600.4,236.4 1601.3,310.9 1601.4,237.6 1601.5,321.9 1601.7,240 1604.2,313.4 1604.4,242.5 1604.5,302.4 1604.6,321.9 1604.7,306 1604.8,242.5 1605.4,241.5 1606.1,243.1 1606.7,240 1607.3,235.9 1607.9,235.8 1608.5,236.7 1609.1,233 1609.7,233.7 1610.3,236.6 1611,233.1 1611.6,236.7 1612.2,234.1 1612.8,233.2 1613.4,232.2 1614,234.3 1614.6,236 1615.2,236.9 1615.8,236 1616.5,235.5 1617.1,233.5 1617.7,235.7 1618.3,235.7 1618.9,236.1 1619.5,234.5 1620.1,236 1620.7,238.7 1621.3,240.3 1622,237.8 1622.6,240.4 1623.2,240.5 1623.8,240.4 1624.4,239.2 1625,240 1625.6,241 1626.2,242.2 1626.9,242.8 1627.5,242.1 1628.1,243.4 1628.7,241.3 1629.3,242 1629.9,243.5 1630.5,243.4 1631.1,244 1631.7,245.7 1632.4,244.3 1633,243.6 1633.6,242.9 1634.2,241.7 1634.8,242.1 1635.4,243 1636,240.9 1636.6,240.8 1637.2,240.8 1637.9,238.3 1638.5,240.3 1639.1,237.9 1639.7,240.1 1640.3,236.7 1640.9,237.2 1641.5,237.9 1642.1,239.5 1642.7,236.4 1643.3,237 1643.9,235 1644.5,240.1 1645.1,234.7 1645.7,237.6 1646.3,234.3 1646.8,236.1 1647.4,236.8 1648,239 1648.6,235.3 1649.2,237.7 1649.8,234.5 1650.4,236.3 1651,235.8 1651.6,235.7 1652.2,234.4 1652.8,237.5 1653.4,234.1 1654,236 1654.6,234.5 1655.2,234.8 1655.7,234.4 1656.3,233.7 1656.9,233.1 1657.5,233.9 1658.1,233.9 1658.5,432.3 1658.6,325.1 1658.7,212.4 1659.3,235.1 1659.9,231.8 1660.5,231.4 1661.1,236 1661.7,233.9 1662.3,231.5 1662.9,234 1663.5,230.1 1664.1,233.2 1664.7,230.1 1665.4,232.4 1666,232.5 1666.6,232.8 1667.2,231.3 1667.8,231.2 1668.4,230 1669,228.5 1669.6,230.8 1670.2,229.6 1670.9,228.4 1671.5,228.4 1672.1,230.2 1672.7,228.2 1673.3,232.3 1673.9,232.9 1674.5,231.7 1675.1,232.2 1675.7,234 1676.4,235.3 1677,235 1677.6,235.1 1678.2,238.3 1678.8,235.6 1679.4,237.6 1680,238.2 1680.6,238.5 1681.2,236.4 1681.9,239.4 1682.5,238.8 1683.1,239.7 1683.7,239.9 1684.3,238.7 1684.9,241.5 1685.5,241.3 1686.1,241.4 1686.7,239.8 1687.4,242.7 1688,241.7 1688.6,242.3 1689.2,241.8 1689.8,242.8 1690.4,242.5 1691,244.5 1691.6,243 1692.2,241.8 1692.9,243.3 1693.5,240.2 1694.1,241.8 1694.7,240.4 1695.3,242.8 1695.9,241 1696.5,238.9 1697.1,241.1 1697.7,242 1698.4,241.1 1699,241 1699.6,236.7 1700.2,238.2 1700.8,237.9 1701.4,240 1702,236.8 1702.6,236.9 1703.2,234.5 1703.9,234.3 1704.5,234.8 1705.1,238.6 1705.7,237.4 1706.3,234.8 1706.9,236.6 1707.4,235.2 1708,235.4 1708.6,237 1709.2,235.2 1709.8,237.2 1710.4,236.7 1711,235.5 1711.6,237 1712.2,234.7 1712.8,235.5 1713.4,236.5 1714,235.8 1714.6,237.4 1715.2,232.6 1715.8,236.1 1716.4,237.1 1717,234.9 1717.6,235.6 1718.2,238.7 1718.8,237.4 1719.4,233.2 1720,234.2 1720.5,233.5 1721.1,234.1 1721.7,236.5 1722.3,235.1 1722.9,235.1 1723.5,233.2 1724.1,235.3 1724.7,234 1725.3,235.2 1725.9,237.1 1726.5,237.5 1727.1,234.9 1727.7,236.4 1728.3,236.5 1728.9,235.3 1729.5,236.8 1730.1,234.9 1730.9,205.8 1731,218 1731.1,243.7 1731.7,243.8 1732.3,242.6 1732.8,242.7 1733.4,241.9 1734,239.8 1734.5,237.2 1735.1,235.7 1735.7,236.4 1736.2,232.9 1736.9,234.5 1737.5,234.2 1738.1,235 1738.7,232.9 1739.3,232.4 1739.9,234.2 1740.5,233 1741.1,232.9 1741.8,233.4 1742.4,230.9 1743,230 1743.6,230 1744.2,230 1744.8,228.2 1745.4,229.9 1746,231.4 1746.6,230.9 1747.3,231.5 1747.9,231.2 1748.5,230.5 1749.1,234.3 1749.7,230.7 1750.3,234.1 1750.9,233.7 1751.5,233.9 1752.1,236.6 1752.8,234.4 1753.4,236.4 1754,236.4 1754.6,237.1 1755.2,234.9 1755.7,235.7 1756.3,236.6 1756.9,237.9 1757.5,237.3 1758.1,235.9 1758.7,234.6 1759.3,238.3 1759.9,236.8 1760.5,239.8 1761.1,237.5 1761.7,239.5 1762.3,237.1 1762.9,237.1 1763.5,234.9 1764.1,239.2 1764.7,238.8 1765.3,237 1765.9,238.3 1766.5,236.7 1767.1,236.9 1767.7,237 1768.3,238.5 1768.9,236.2 1769.5,237.3 1770.1,235.8 1770.7,237.5 1771.3,236.8 1771.8,239.4 1772.4,237 1773,236.9 1773.6,237.6 1774.2,237.3 1774.8,238.3 1775.4,238.5 1776,238.4 1776.6,235.4 1777.2,240.3 1777.8,240.2 1778.4,239.7 1779,239.7 1779.6,240 1780.2,238.1 1780.8,239.3 1781.4,238.1 1782,237.3 1782.6,237.9 1783.1,238.4 1783.7,238.7 1784.3,237.8 1784.9,239.8 1785.5,240.5 1786.1,237.5 1786.7,238.8 1787.3,238.2 1787.9,236.1 1788.5,238.2 1789.1,236.1 1789.7,236.5 1790.3,237.6 1790.8,237.1 1791.4,238 1792,235.5 1792.6,239 1793.2,236.4 1793.8,238.9 1794.4,235.7 1795,235.3 1795.6,236.1 1796.2,235.3 1796.8,235.9 1797.4,235 1798,236.5 1798.6,235.4 1799.3,432.3 1799.4,299.2 1808.4,221.7 1809,250.1 1809.6,248.7 1810.2,250.2 1810.8,251.3 1811.4,251.5 1812,251.4 1812.6,255 1813.3,255.3 1813.9,257.2 1814.5,257.9 1815.1,253.6 1815.7,249.2 1816.3,243.3 1816.9,240.6 1817.5,237.3 1818.1,240.1 1818.7,240.3 1819.3,240 1819.9,236.9 1820.5,239.1 1821.1,240 1821.7,237.3 1822.3,237.5 1822.9,236.4 1823.5,237.3 1824.1,239 1824.7,237.7 1825.2,236.1 1825.8,239 1826.4,237.4 1827,236.1 1827.6,238.4 1828.2,236.5 1828.8,240.8 1829.4,236.8 1830,239.4 1830.6,238.6 1831.2,239 1831.8,238 1832.4,240.3 1833,239.7 1833.6,239.6 1834.2,238.1 1834.8,238.4 1835.4,237.4 1836,238.5 1836.5,238.8 1837.1,239.1 1837.7,239.2 1838.3,241 1838.9,237.6 1839.5,239.5 1840.1,239.5 1840.8,240.4 1841.4,240.5 1842,242.5 1842.6,243.4 1843.2,242.7 1843.8,246.3 1844.4,243.4 1845,245.7 1845.6,244.7 1846.3,245.4 1846.9,246.5 1847.5,247.3 1848.1,247.2 1848.7,248.2 1849.3,244.9 1849.9,248 1850.5,246.6 1851.2,245.3 1851.8,243.9 1852.4,244.3 1853,244 1853.6,242 1854.2,242.9 1854.8,239.6 1855.4,239.9 1856,239.7 1856.7,241.5 1857.3,239.3 1857.9,240.7 1858.5,240.9 1859.1,240.2 1859.7,238.6 1860.3,236.2 1860.9,238 1861.6,236.5 1862.3,238.4 1862.9,236.1 1863.6,235.7"/>
</g>
<g stroke="#000" stroke-width="3.7" fill="none">
<line x1="234.1" x2="250.5" y1="97.0" y2="97.0"/>
<line x1="234.1" x2="250.5" y1="165.8" y2="165.8"/>
<line x1="234.1" x2="250.5" y1="234.7" y2="234.7"/>
<line x1="234.1" x2="250.5" y1="303.5" y2="303.5"/>
<line x1="234.1" x2="250.5" y1="372.3" y2="372.3"/>
<rect x="250.5" y="97.0" width="1613.2" height="275.3" stroke-linejoin="miter"/>
</g>
<g font-size="47.7" text-anchor="end" fill="#000">
<text x="215.3" y="115.1">0.30</text>
<text x="215.3" y="184.0">0.15</text>
<text x="215.3" y="252.8">0.00</text>
<text x="215.3" y="321.6">−0.15</text>
<text x="215.3" y="390.4">−0.30</text>
</g>
<text font-size="38.6" text-anchor="middle" transform="translate(44.3,238.7) rotate(-90)">North[m]</text>
<g stroke="#b0b0b0" stroke-width="3.7" fill="none">
<line x1="250.5" x2="1863.7" y1="495.9" y2="495.9"/>
<line x1="250.5" x2="1863.7" y1="564.9" y2="564.9"/>
<line x1="250.5" x2="1863.7" y1="633.8" y2="633.8"/>
</g>
<g clip-path="url(#c1)" fill="none" stroke-width="4.6" stroke-linejoin="round">
<polyline stroke="#ff0000" marker-start="url(#mr)" marker-mid="url(#mr)" marker-end="url(#mr)" points="250.3,570.2 250.9,570 251.5,571.1 252.2,571.7 252.8,568.5 253.4,571.1 254,571.2 254.7,571.3 255.3,570 255.9,572.5 256.5,571 257.1,570.5 257.7,571 258.3,571 258.9,572.4 259.6,569 260.2,569.2 260.8,567.8 261.4,569.2 262,569.6 262.6,568.7 263.2,567.2 263.8,564.2 264.4,563.9 265,566.3 265.6,563.1 266.2,567.2 266.8,565.9 267.4,566.7 268,566.8 268.6,566.5 269.2,567.4 269.8,566.5 270.4,566.9 271,563.8 271.6,566.5 272.2,566.5 272.7,565 273.3,567.9 273.9,566.1 274.5,569.7 275.1,568.3 275.7,568.3 276.3,568.9 276.9,567.2 277.5,569.1 278.1,566.3 278.7,565.3 279.3,566.8 279.9,567.9 280.4,567.7 281,568.4 281.6,566.6 282.2,565 282.8,564 283.4,567.4 284,565.4 284.6,567.9 285.2,565.4 285.8,565.4 286.4,565.9 287.1,565.8 287.7,566.9 288.3,566.8 288.9,563.3 289.5,564.1 290.1,565.7 290.7,566.2 291.3,565.8 291.9,564.7 292.6,564 293.2,564.1 293.8,564.5 294.4,564.6 295,564.7 295.6,562.8 296.2,562.5 296.8,563.4 297.5,562.9 298.1,563.6 298.7,564.6 299.3,564.6 299.9,563.4 300.5,562.2 301.1,563.1 301.7,566.5 302.3,566.5 303,560.7 303.6,563.2 304.2,563.8 304.8,564.3 305.4,565.7 306,567.8 306.6,566.3 307.2,566.2 307.8,566.6 308.5,564.2 309.1,568 309.7,566.9 310.3,563.3 310.9,565.3 311.5,567 312.1,567.1 312.7,565.1 313.3,564.3 314,565.4 314.6,564.4 315.2,564.7 315.9,564.5 316.5,563.8 317.1,565.8 317.7,564.3 318.3,565.7 318.7,548 318.8,554.1 319.5,555.6 320.1,556 320.7,556.4 321.3,555.3 321.9,553.9 322.5,555.9 323.1,554.2 323.7,556 324.3,558 325,558.5 325.6,553.9 326.2,556.7 326.8,555.4 327.4,556.6 328,557.9 328.6,554 329.2,555.2 329.8,555.6 330.5,556 331.1,555.9 331.7,556.4 332.3,558.9 332.9,561.5 333.5,559.8 334.1,560.7 334.7,560.5 335.3,558.4 336,563.5 336.6,560.8 337.2,562.2 337.8,561.8 338.4,562 339,560.8 339.6,561.7 340.2,562.7 340.8,564.8 341.5,563.9 342.1,563.1 342.7,563.5 343.3,562.5 343.9,563.9 344.5,567.2 345.1,566 345.7,565.3 346.3,566.5 347,567.1 347.6,566.3 348.2,565.7 348.8,564.6 349.4,566.5 350,567.7 350.6,566.7 351.2,568.6 351.8,568.5 352.4,568.3 353,567.4 353.6,570.6 354.1,566.8 354.7,567.3 355.3,570.8 355.9,569.5 356.5,569.5 357.1,568.3 357.7,569.7 358.3,567.7 358.9,570.6 359.5,566.4 360,568.4 360.6,568.8 361.2,568.9 361.8,567.2 362.4,568.6 363,569.6 363.6,565.6 364.2,567.3 364.8,566.8 365.4,565.5 365.9,565.7 366.5,568.9 367.1,566.4 367.7,566.1 368.3,567.4 369,564.3 369.6,565.3 370.2,565.6 370.8,567.1 371.4,567.7 372,567.1 372.6,567.9 373.2,565.2 373.8,564.5 374.5,564.2 375.1,567.5 375.7,566.3 376.3,566.6 376.9,564.6 377.5,567.1 378.1,566.5 378.7,565.5 379.3,564.1 380,565.2 380.6,564.6 381.2,567 381.8,563.1 382.4,567.3 383,564.6 383.6,563.7 384.1,567.4 384.7,562.4 385.3,565.5 385.9,565.2 386.5,565.1 387.1,566.8 387.7,563.2 388.3,566.3 388.6,367 388.8,550.5 389.4,570.7 389.9,573.8 390.5,574.4 391,574.3 391.6,573 392.2,576.3 392.8,577.8 393.4,574.9 394,578.4 394.6,579 395.2,579.1 395.8,580 396.5,582.8 397.1,579.4 397.7,577.7 398.3,578.2 398.9,578.3 399.5,577.3 400.1,574.3 400.7,574.6 401.3,573.3 402,576.2 402.6,574.9 403.2,571.7 403.8,572.3 404.4,573.6 405,571.5 405.6,573.3 406.2,571.4 406.9,571.2 407.5,572.6 408.1,571.9 408.7,571.7 409.3,570.3 409.9,573.7 410.5,572.6 411.1,569.1 411.7,571.9 412.4,571 413,570.1 413.6,569.5 414.2,571.2 414.8,573.1 415.4,573.9 416,573.2 416.6,572.7 417.2,572 417.9,574.3 418.5,573.2 419.1,574.2 419.7,573.5 420.3,573.4 420.9,572.9 421.5,575.8 422.1,575 422.7,574.6 423.4,575.7 424,574.7 424.6,574.8 425.2,575.7 425.8,575.5 426.4,574 427,574.4 427.6,575.2 428.2,575.6 428.9,574 429.5,573 430.1,573.3 430.7,570.5 431.3,574 431.9,571.6 432.5,571.1 433.1,568.4 433.7,566.9 434.4,568.9 435,567.2 435.6,567.4 436.2,568.4 436.8,568.7 437.4,566.3 438,568.8 438.6,567.2 439.2,561.4 439.9,562.6 440.5,564.7 441.1,564.2 441.7,563.7 442.3,565.7 442.9,564 443.5,563.1 444.1,565.5 444.7,565.5 445.4,566.7 446,567.8 446.6,565.7 447.2,565.9 447.8,566.1 448.4,565.6 449,565.7 449.6,564.3 450.2,565.7 450.9,567.1 451.5,568.1 452.1,567.8 452.7,566 453.3,566.7 453.9,568.1 454.5,568.2 455.1,566 455.8,565.5 456.4,565.9 457,568.5 457.7,568.4 458.3,567 458.9,565.5 459.5,453.9 459.7,533.4 460.3,564.6 460.7,563.6 461.2,564.6 461.9,563.6 462.5,564.1 463.1,560.9 463.7,564.1 464.3,562.8 464.9,563.8 465.5,562 466.1,564.5 466.7,565.1 467.3,565.9 467.9,566.4 468.5,562.1 469.1,564.1 469.7,564.4 470.2,564.8 470.8,564 471.4,564.4 472,568.5 472.6,564.1 473.2,564.2 473.8,563.9 474.4,564.1 475,567.3 475.6,565.4 476.2,564.5 476.8,567.3 477.4,564.9 477.9,565.7 478.5,564.7 479.1,565 479.7,566.1 480.3,562.8 480.9,564.8 481.5,565 482.1,564 482.7,565.4 483.3,564.5 483.9,566.5 484.5,564.1 485.1,565.9 485.7,567.5 486.3,565.3 486.9,565.8 487.5,566.1 488,564.9 488.6,566.3 489.2,567.5 489.8,566.1 490.4,566.2 491,564.4 491.6,566.9 492.2,564.5 492.8,566.5 493.4,563.3 494,568.5 494.6,568.7 495.2,564.9 495.8,569.5 496.4,566.8 497,565.6 497.6,565.8 498.2,568.9 498.8,565.1 499.4,567.1 500,569.7 500.6,564.4 501.2,565.2 501.8,567.8 502.4,564.9 503,568.9 503.5,566.8 504.1,564.6 504.7,566.5 505.3,566.7 505.9,568.1 506.5,565.8 507.1,566.6 507.7,568.5 508.3,564.9 508.9,567.5 509.5,565.4 510.1,565.2 510.7,565.1 511.3,567.5 512,567.2 512.6,570.3 513.2,568 513.8,568.2 514.4,567.7 515,567.7 515.6,568.6 516.2,567 516.8,569.5 517.4,567.6 518,565.7 518.6,566.1 519.2,566.3 519.9,568.5 520.5,568.1 521.1,569.2 521.7,566.5 522.3,565.1 522.9,569.8 523.5,565.6 524.1,565.9 524.7,566.7 525.3,567.6 525.9,567.8 526.5,566.7 527.1,564.9 527.7,567.3 528.4,567.2 529,568.8 529.6,567.4 530.2,614.8 530.8,567.2 531.4,568.9 532.1,566.7 532.7,569.5 533.4,569.8 534,568.6 534.6,567.4 535.2,567.4 535.7,568.6 536.3,565.7 536.9,568.5 537.5,568.1 538.1,567.1 538.7,568.1 539.3,569.6 539.9,567.1 540.5,569.4 541.1,569.9 541.7,568.4 542.3,567.7 542.9,567.8 543.5,568.9 544.1,567.4 544.7,567.5 545.3,570.2 545.9,568.8 546.5,567.6 547.1,566 547.7,567.5 548.3,568.2 548.9,566.4 549.5,566 550.1,568.6 550.7,569.3 551.3,568.3 551.8,566.9 552.4,570.2 553,568.5 553.6,566.6 554.2,569.3 554.8,567.7 555.4,565.5 556,566.6 556.6,567.8 557.2,565.2 557.8,566.8 558.4,565.7 559,566.4 559.6,566.9 560.2,566.7 560.8,564.9 561.4,566.4 562,565.3 562.6,567.7 563.2,567 563.8,564.9 564.4,562.9 565,567 565.6,570 566.2,566.1 566.8,566.4 567.3,564.8 567.9,566.5 568.5,565.7 569.1,568.2 569.7,566.5 570.3,565.1 570.9,567.8 571.5,567.1 572.1,567 572.7,567.2 573.3,569.4 573.9,564.4 574.5,566.2 575.1,570.2 575.7,567.6 576.3,565.1 576.9,568.5 577.5,568.3 578.1,569.1 578.7,568 579.3,566.8 579.9,571.1 580.5,568.4 581.1,568.7 581.7,564.9 582.3,568.5 582.8,566.4 583.4,567.3 584,570.1 584.6,569.3 585.2,569 585.8,567.5 586.4,566.9 587,565.9 587.6,568.1 588.2,567.1 588.7,567.7 589.3,570.6 589.9,567.8 590.5,568.6 591.1,566.3 591.7,568.9 592.3,568.6 592.9,566.4 593.5,570.4 594.1,567.4 594.6,566.5 595.2,567.6 595.8,566.8 596.4,570.9 597,568.3 597.6,568.3 598.2,571.3 598.8,570.8 599.4,571 600,570.5 600.6,510.1 600.7,578.6 601.3,570.5 601.9,566.4 602.5,569.2 603,569.6 603.6,569.7 604.3,570.8 604.9,566.2 605.5,570.2 606.1,569.5 606.7,569.7 607.3,568.8 607.9,566.3 608.5,569.2 609.1,565.1 609.7,568.4 610.3,567.1 610.9,567.9 611.5,565.6 612.1,565.5 612.7,568.9 613.3,569 613.9,569.5 614.5,568 615.1,569.8 615.6,568.8 616.2,569.6 616.8,566.9 617.4,569 618,568.9 618.6,570.4 619.2,569.4 619.8,568.3 620.4,565.8 621,569.3 621.6,565.5 622.2,566.6 622.8,569.2 623.4,567.7 624,566.4 624.6,567.5 625.2,567.7 625.8,568.1 626.4,566.2 627,569.1 627.6,567.5 628.2,566.1 628.8,569.9 629.4,565.3 630,569.8 630.6,568.3 631.2,569.3 631.8,569.2 632.4,568.5 633,567.4 633.6,567.7 634.2,565.8 634.8,567.5 635.4,565.1 636,566.4 636.7,564.8 637.3,568.1 637.9,568.2 638.5,565.5 639.1,565.9 639.7,567.8 640.3,566 640.9,567.5 641.5,566.5 642.2,566.5 642.8,566.8 643.4,566.2 644,567.1 644.6,567.3 645.2,567.6 645.8,566.3 646.4,565.3 647,563.2 647.7,565 648.3,565 648.9,567.1 649.5,565.3 650.1,565.3 650.7,564.8 651.3,565.9 651.9,563.7 652.5,564.2 653.2,564.4 653.8,567 654.4,563.8 655,564.7 655.6,568.3 656.3,566.2 656.9,568 657.5,569.7 658.1,565.4 658.8,570.7 659.4,566.2 660,569.6 659.4,568.1 658.8,570.1 658.2,569.2 657.6,572.4 657,569.8 656.4,569.7 655.8,570.8 655.1,569.6 654.5,566.9 653.9,569.7 653.3,567.9 652.7,569.4 652.1,568.6 651.5,569.8 650.9,567.9 650.3,569.1 649.7,569.3 649.1,569.9 648.5,567.8 647.9,567.6 647.3,568.8 646.7,567.9 646.1,569.2 645.5,569.1 644.8,568.7 644.2,569.8 643.6,568 643,567.3 642.4,569.1 641.8,569.1 641.2,569.1 640.6,567.4 640,568.8 640.6,567.6 641.2,569.7 641.8,568.2 642.4,567.4 643.1,566.8 643.7,567.2 644.3,570 644.9,566.9 645.5,567 646.1,568.7 646.7,566.6 647.3,568.4 647.9,568.9 648.6,565.1 649.2,566.4 649.8,566.6 650.4,566.7 651,567.6 651.6,566.9 652.2,566.5 652.8,566.2 653.4,567.3 654.1,565.2 654.7,567.6 655.3,568.9 655.9,567.6 656.5,566 657.1,568.7 657.7,565.8 658.3,570.9 658.9,567.6 659.6,568.1 660.2,568.8 660.8,566.9 661.4,569.3 662,567.9 662.6,568 663.2,569.3 663.8,568.8 664.4,568.1 665,568 665.6,567 666.2,565.9 666.8,566.5 667.4,568.4 668,566.2 668.6,567.1 669.2,563.1 669.8,564.4 670.6,588.9 674.2,556.6 674.8,565.7 675.4,566.4 676.1,566.2 676.7,566.3 677.3,564.6 677.9,564.8 678.5,565.4 679.1,566.4 679.7,565.4 680.2,564.2 680.8,563.6 681.4,562.5 682,565.5 682.6,565.7 683.2,567.5 683.8,566.4 684.4,563.9 685,564 685.6,567 686.2,564.3 686.8,565.2 687.4,566.6 688,563 688.6,565.2 689.2,563.9 689.8,565 690.4,564.4 691,565.1 691.6,562 692.2,565.3 692.8,565.2 693.4,564.1 694,564.4 694.6,563.9 695.2,565.4 695.8,565.6 696.3,567.8 696.9,566.7 697.5,564.2 698.1,565.5 698.7,565 699.3,564 699.9,564.7 700.5,563.6 701.1,562.9 701.7,565.7 702.3,566.2 702.9,564.1 703.5,565.2 704.1,567.2 704.7,566 705.3,564.8 705.9,563.8 706.5,566.4 707.1,565.9 707.7,564.8 708.3,564.1 708.9,565.7 709.5,562.7 710.1,566.6 710.7,564.6 711.3,562.1 711.9,568 712.4,563.7 713,565.8 713.6,564.6 714.2,565.5 714.8,564.5 715.4,565.1 716,564.7 716.6,565.9 717.2,564.4 717.8,568.4 718.4,563.8 719,565.1 719.6,564.3 720.2,566.1 720.8,564.8 721.4,566.6 722,566.3 722.6,567.1 723.2,566.1 723.8,564.8 724.4,565.3 725,566.6 725.6,563.2 726.2,564.2 726.8,564.1 727.4,566.5 728,565.4 728.6,566.8 729.2,567 729.8,566.1 730.5,566.1 731.1,564.5 731.7,567 732.3,567.2 732.9,565.8 733.5,564.7 734.1,565.3 734.7,565.9 735.3,564.3 736,566.1 736.6,564.8 737.2,567.4 737.8,565.6 738.4,564 739,566.1 739.6,566.9 740.2,564.2 740.8,565 741.4,565.1 742.2,649.5 742.3,592 742.9,567.4 743.5,569.3 744,568.6 744.6,567.4 745.1,566.6 745.7,568.8 746.3,569.5 747,569.8 747.6,566.2 748.2,566.6 748.8,567.7 749.4,567.8 750,566.4 750.6,565.6 751.2,565.8 751.8,565.7 752.5,565.3 753.1,564.4 753.7,565 754.3,567.2 754.9,565 755.5,564.2 756.1,563.3 756.7,559.8 757.3,559.5 758,560.4 758.6,559.9 759.2,559.6 759.8,558.9 760.4,557.5 761,555.9 761.6,558.2 762.2,556.3 762.8,557.6 763.5,557.7 764.1,556 764.7,556.1 765.3,560.6 765.9,561.3 766.5,559.9 767.1,562.6 767.7,563.5 768.3,565.4 769,565.1 769.6,564.4 770.2,565.3 770.8,563.8 771.4,565.3 772,566.8 772.6,566.6 773.2,567 773.8,568.9 774.5,569.3 775.1,565.6 775.7,569.9 776.3,568.4 776.9,565.1 777.5,569 778.1,564.2 778.7,563.2 779.3,565.4 779.9,563.5 780.5,566 781.1,566.9 781.7,564.7 782.3,565.1 782.8,566.9 783.4,565.5 784,567.2 784.6,567.5 785.2,563.4 785.8,566 786.4,566.3 787,564.8 787.6,567.1 788.2,567.6 788.8,565.2 789.4,567.9 790,567.4 790.6,566 791.2,566.3 791.8,563.6 792.4,567.2 793,565.5 793.6,567.5 794.1,566.1 794.7,566.2 795.3,565.2 795.9,566.2 796.5,565 797.1,566.7 797.7,565 798.3,565.2 798.9,566.1 799.5,567.2 800.1,565.4 800.7,565.5 801.3,566.6 801.8,565.1 802.4,566.3 803,565.5 803.6,563.9 804.2,563.5 804.8,567.2 805.4,565.3 805.9,567.3 806.5,564.9 807.1,569.1 807.7,565 808.3,564.8 808.9,567.1 809.5,564.2 810.1,565.7 810.6,563.4 811.2,567.9 811.8,565.7 812.4,436.8 812.5,473.5 812.6,499.1 817.2,548 814.8,579.8 813.1,583.6 813.7,594.7 814.3,591.4 814.9,585.9 815.5,596.3 816.1,579.8 816.7,585.2 817.3,577.6 817.9,588.7 818.5,582.6 819.1,577.3 819.7,591.8 820.3,590.9 820.9,588.6 821.6,588.6 822.2,586.1 822.8,588.2 823.4,587.1 824,585.4 824.6,587.5 825.2,563.2 825.8,567.1 826.4,562.4 827,564.4 827.6,565.9 828.2,565.2 828.9,562.1 829.5,564.4 830.1,564 830.7,566.7 831.3,564.2 831.9,562 832.5,563.8 833.1,565 833.7,563.4 834.4,564.8 835,564.7 835.6,563.5 836.2,563.2 836.8,564.2 837.4,566.7 838,565 838.6,567.6 839.2,566.6 839.9,566.3 840.5,564.3 841.1,566.6 841.7,568.4 842.3,567.7 842.9,568.6 843.5,568.5 844.1,569.4 844.7,571 845.4,569.8 846,571.8 846.6,569.2 847.2,570.1 847.8,603 847.9,621.9 848.5,570.3 849.1,571.7 849.7,568.1 850.2,571 850.9,571.5 851.5,570 852.1,572.8 852.7,569.9 853.3,572.9 853.9,573.3 854.5,571.5 855.1,575 855.7,574.9 856.4,573.4 857,575.4 857.6,576.7 858.2,577.3 858.8,575.4 859.4,578 860,580.7 860.6,577 861.2,580.8 861.9,580.5 862.5,579.1 863.1,578.2 863.7,580.7 864.3,579.9 864.9,578.8 865.5,580.1 866.1,580 866.7,580.2 867.4,579 868,577.9 868.6,578.9 869.2,577.3 869.8,575.6 870.4,574 871,572.1 871.6,572.5 872.2,570.5 872.9,571.1 873.5,567 874.1,567.8 874.7,563.9 875.3,565.1 875.9,566.8 876.5,570.3 877.1,569.9 877.7,569.1 878.4,571.5 879,576.7 879.6,575.3 880.2,576.5 880.8,579.9 881.5,579.6 882.1,583.1 882.8,585.2 883.4,585.9 884,586.1 884.5,523.6 890.6,471 890.7,484.5 890.8,501.6 894.2,518.7 894.4,530.9 894.5,540.7 899.1,550.5 899.7,565.1 900.4,562.6 901,564.3 901.6,563.5 902.2,563.2 902.8,562.4 903.4,564.4 904,565.1 904.6,565.7 905.2,564.3 905.9,566.9 906.5,566.1 907.1,565.5 907.7,567.7 908.3,566.5 908.9,565.9 909.5,568.1 910.1,567.8 910.7,572.1 911.4,568 912,569.1 912.6,568.1 913.2,569.4 913.8,568 914.4,569.3 915,572.4 915.6,569 916.2,571.5 916.9,573.6 917.5,571.1 918.1,571 918.7,574.5 919.3,573.5 919.9,572.9 920.5,574.1 921.1,572.8 921.7,574.5 922.3,575.5 922.9,576.3 923.5,572.5 924.1,575.5 924.7,572.6 925.3,574.9 925.9,572.4 926.5,573.8 927,573.7 927.6,578.8 928.2,574.8 928.8,575.2 929.4,573.4 930,574.3 930.6,577.3 931.2,574.8 931.8,574.4 932.4,574.7 932.9,575.3 933.5,576.3 934.1,575.9 934.7,574.8 935.3,573.1 935.9,575 936.5,576.4 937.1,575.9 937.7,575.1 938.3,574.9 938.9,575.2 939.5,575.7 940.1,573.9 940.7,576.1 941.3,574.8 941.9,573.6 942.5,574.4 943.1,573 943.8,572.8 944.4,571 945,570.2 945.6,571.5 946.2,567 946.8,567.9 947.4,570.4 948,567.5 948.6,568.2 949.2,569.9 949.8,567.6 950.4,569.2 951,567.6 951.6,569 952.2,566.6 952.9,595.7 953,628.2 953.6,568.9 954.2,567.5 954.8,568 955.4,569.1 956,568.8 956.6,569.4 957.2,570.1 957.8,567.4 958.4,570.8 959,570.4 959.6,572.6 960.3,575.5 960.9,574.5 961.5,577.3 962.1,578.1 962.7,577.3 963.3,578.3 963.9,577.1 964.5,579 965.1,575.5 965.8,578.4 966.4,572.6 967,577.1 967.6,572.7 968.2,572.1 968.8,570.4 969.4,571.8 970,570.7 970.6,571.3 971.3,568.8 971.9,570.7 972.5,566.4 973.1,568.7 973.7,570.1 974.3,570.4 974.9,567.9 975.5,569 976.1,569.1 976.8,567.8 977.4,568.3 978,567 978.5,566.1 979.1,569.4 979.7,569.7 980.3,568.4 980.9,566.4 981.5,567.1 982.1,566.5 982.7,568.9 983.3,565.6 983.9,565.1 984.4,566.4 985,566.9 985.6,570.5 986.2,568.3 986.8,570.1 987.4,567 988,567.9 988.6,569.1 989.2,569.8 989.8,569.4 990.3,567.4 990.9,567 991.5,566.3 992.1,568 992.7,569.8 993.3,569.6 993.9,566.9 994.5,565.9 995.1,568.1 995.7,565.3 996.3,568.8 996.9,568.4 997.5,566.4 998.1,570 998.6,570.7 999.2,569.3 999.8,569.9 1000.4,568.8 1001,570.5 1001.6,570 1002.2,566.9 1002.8,569.6 1003.4,570.1 1004,567.7 1004.6,568.4 1005.2,566.7 1005.8,566.7 1006.4,565.2 1007,568.4 1007.6,566.4 1008.2,564.3 1008.8,566.1 1009.4,564.5 1010,566.2 1010.6,568.1 1011.1,565.8 1011.7,565.6 1012.3,566.3 1012.9,568.1 1013.5,566.9 1014.1,566.4 1014.7,567.7 1015.3,569 1015.9,568.8 1016.5,569.6 1017.1,569.6 1017.7,563.3 1018.3,568 1018.9,569.5 1019.5,565.4 1020.1,566.8 1020.7,567.2 1021.3,567.1 1021.9,566 1022.5,565.4 1023.3,642.1 1023.9,567.8 1024.5,566.2 1025,567.1 1025.6,567.2 1026.3,569.8 1026.9,569.5 1027.5,568.8 1028,568.1 1028.6,566.9 1029.2,567.9 1029.8,567.2 1030.4,569 1031,569.7 1031.6,568.4 1032.2,571.7 1032.8,566.1 1033.4,567.7 1034,568 1034.6,569.3 1035.2,571.3 1035.8,569.8 1036.4,570.1 1037,569.6 1037.6,569.6 1038.2,569.2 1038.8,569.3 1039.4,569.9 1040,568.6 1040,568.6 1040.6,570.6 1041.2,569.2 1041.8,570.4 1042.4,569.3 1043,569.7 1043.6,567.9 1044.2,570.2 1044.8,569.1 1045.4,570.7 1046,570.5 1046.6,569.9 1047.2,567.5 1047.8,570.8 1048.3,571.1 1048.9,568.2 1049.5,568.3 1050.1,571.7 1050.7,567.3 1051.3,571.3 1051.9,569.6 1052.5,571.5 1053.1,569.6 1053.7,569.7 1054.3,570.4 1054.9,566.4 1055.5,569.4 1056.1,569.8 1056.7,569.7 1057.3,567.9 1057.9,567.4 1058.5,568.3 1059.1,566.9 1059.7,569.2 1060.3,569 1060.9,568.2 1061.5,567.7 1062.1,568.2 1062.7,571 1063.3,568.7 1063.9,567.8 1064.4,568.7 1065.1,568.7 1065.7,568.6 1066.3,566.5 1066.9,567.9 1067.5,566.9 1068.1,569.1 1068.7,567.6 1069.3,571 1069.9,566.7 1070.6,569.2 1071.2,569.1 1071.8,569.7 1072.4,566.4 1073,568.8 1073.6,564.7 1074.2,568.3 1074.8,564.6 1075.4,568.1 1076.1,567.8 1076.7,569.2 1077.3,566.4 1077.9,568.7 1078.5,566.7 1079.1,566.3 1079.7,563.5 1080.3,565.1 1080.9,564.3 1081.5,566.6 1082.1,566.4 1082.7,563.9 1083.3,563.3 1083.9,566.2 1084.6,567.6 1085.2,566.1 1085.8,565.7 1086.4,565.5 1087,564 1087.6,566.6 1088.2,565 1088.8,564.4 1089.4,563.6 1090,566 1090.6,565.1 1091.2,562.6 1091.8,564 1092.4,561.5 1093,565.1 1093.8,556.6 1094.4,577.9 1095,576 1095.6,576.7 1096.2,579 1096.8,577.7 1097.5,576.6 1098,579.2 1098.6,577.2 1099.2,573.8 1099.8,576.6 1100.4,576 1101,576.7 1101.6,575.3 1102.2,574.5 1102.8,576.3 1103.4,575.2 1104,575.2 1104.6,574.6 1105.2,573.1 1105.8,573.2 1106.4,573.5 1107,571.3 1107.6,572.4 1108.2,574.1 1108.7,571 1109.3,570.8 1109.9,569.3 1110.5,570.9 1111.1,573.1 1111.7,571.9 1112.3,570.9 1112.9,572.7 1113.5,568.2 1114.1,570.3 1114.7,568.7 1115.3,568.7 1115.9,568.2 1116.5,567.6 1117.1,569.8 1117.7,570.7 1118.3,566.4 1118.9,566.5 1119.5,569.8 1120.1,567.5 1120.7,567.5 1121.3,567.6 1121.9,565.3 1122.5,568.9 1123.1,566 1123.7,568.7 1124.3,565.9 1125,567 1125.6,566.7 1126.2,567.2 1126.8,564 1127.4,564.7 1128,566.4 1128.6,566.7 1129.2,565.5 1129.8,565.3 1130.5,563.9 1131.1,563.5 1131.7,564.4 1132.3,564.2 1132.9,564.1 1133.5,565.7 1134.1,562.6 1134.7,565.2 1135.3,564.7 1136,565.6 1136.6,565.1 1137.2,563.4 1137.8,565.9 1138.4,566.1 1139,562.4 1139.6,563.3 1140.2,564.7 1140.8,565.8 1141.5,562.9 1142.1,564.6 1142.7,565.7 1143.3,567.4 1143.9,566.1 1144.5,567 1145.1,563.5 1145.7,565.1 1146.3,565.3 1147,563.7 1147.6,565.4 1148.2,562 1148.8,564.2 1149.4,565 1150,564.7 1150.6,565.9 1151.2,566.5 1151.8,567 1152.5,568 1153.1,564.2 1153.7,568.5 1154.3,565.8 1154.9,565.5 1155.5,566.1 1156.1,567 1156.7,568.1 1157.3,565.3 1158,566.3 1158.6,565.3 1159.2,566.8 1159.8,568.9 1160.4,565.3 1161,567 1161.6,566.8 1162.2,567.7 1162.8,567.6 1163.5,567.9 1164.1,566 1164.7,566.5 1165.3,569.3 1165.9,573.7 1166.5,567.1 1167.1,566.3 1167.7,565.1 1168.3,565.3 1169,566.7 1169.6,564.5 1170.2,567.8 1170.7,565.5 1171.3,565.1 1171.9,567.9 1172.5,568 1173.1,565.9 1173.7,566 1174.3,564.3 1174.9,565.6 1175.5,563.5 1176.1,565.3 1176.6,566 1177.2,565.5 1177.8,564.3 1178.4,565.6 1179,564.6 1179.6,563.6 1180.2,563.9 1180.8,565.5 1181.4,567.1 1182,565.6 1182.6,566.9 1183.1,566.3 1183.7,565.6 1184.3,566 1184.9,568.1 1185.5,564.8 1186.1,566.2 1186.7,567.7 1187.3,564.7 1187.9,567.1 1188.5,564.3 1189.1,566.1 1189.7,565.2 1190.3,563.6 1190.9,565.4 1191.5,563.3 1192,565.3 1192.6,564.2 1193.2,566.6 1193.8,566.1 1194.4,565 1195,564.8 1195.6,567.6 1196.2,567 1196.8,567.7 1197.4,566.2 1198,566.6 1198.6,567.1 1199.2,562.8 1199.8,569.2 1200.4,564.7 1201,567.8 1201.6,566.3 1202.2,567.1 1202.8,566.1 1203.4,565.9 1204,565.9 1204.6,563.8 1205.2,566.7 1205.8,563.9 1206.4,563.6 1207,567.2 1207.6,565.5 1208.1,565.2 1208.7,566.7 1209.3,562.8 1209.9,565.7 1210.5,568.4 1211.1,564.8 1211.7,563.6 1212.3,566.8 1212.9,565 1213.5,567 1214.1,565.8 1214.7,563.8 1215.3,562.5 1215.9,565.6 1216.5,565.2 1217.1,565.9 1217.7,565.8 1218.3,562.8 1218.9,564 1219.5,563.4 1220,564.3 1220.6,566.7 1221.2,566.3 1221.8,566.2 1222.4,565.6 1223,564.8 1223.6,565.7 1224.2,565.9 1224.8,565.4 1225.4,565 1226,565.4 1226.6,563.6 1227.2,565.6 1227.8,565.3 1228.4,565.4 1229,565.1 1229.6,564.2 1230.2,562.7 1230.8,564.3 1231.3,564.5 1231.9,565.6 1232.5,565.8 1233.1,564.9 1233.7,563.5 1234.3,565.4 1234.9,565.4 1235.6,595.7 1236.2,568.2 1236.8,564.9 1237.4,568 1238,567.7 1238.6,566.5 1239.2,566.7 1239.8,568.2 1240.5,568.4 1241.1,566.7 1241.7,565 1242.3,564.5 1242.9,566.4 1243.5,562.7 1244.1,563.7 1244.7,564.7 1245.4,568 1246,566.3 1246.6,565.2 1247.2,567.1 1247.8,566.6 1248.4,567.1 1249,566.6 1249.6,566.7 1250.2,568.3 1250.9,566.3 1251.5,567.1 1252.1,564.8 1252.7,566.5 1253.3,569.2 1253.9,565.9 1254.5,566.3 1255.1,564.6 1255.7,565.6 1256.2,565.4 1256.8,563.3 1257.4,567.2 1258,566.3 1258.6,563.8 1259.2,564.2 1259.8,565.7 1260.4,564.5 1261,565.2 1261.6,564.4 1262.2,565.5 1262.8,562.6 1263.4,567 1263.9,564.2 1264.5,564.6 1265.1,565 1265.7,564.6 1266.3,566.1 1266.9,563.9 1267.5,563.9 1268.1,566.7 1268.7,564.7 1269.3,563.8 1269.9,564.3 1270.5,566.5 1271.1,566.2 1271.7,563.8 1272.2,565.1 1272.8,564.9 1273.4,564.7 1274,566.2 1274.6,563.9 1275.2,564.9 1275.8,565.7 1276.4,565.1 1277,565.8 1277.6,565.8 1278.2,565.8 1278.8,563.6 1279.4,566.1 1280,564.6 1280.6,564.1 1281.2,563.7 1281.8,561.6 1282.4,563.7 1283,566.2 1283.6,562.5 1284.2,567.5 1284.8,564.9 1285.4,566.8 1286,566.7 1286.6,565.5 1287.2,564.7 1287.7,565.1 1288.3,564.2 1288.9,565 1289.5,565.3 1290.1,566 1290.7,567.2 1291.3,567.6 1291.9,570.4 1292.5,566.5 1293.1,564.8 1293.7,565 1294.3,565.3 1294.9,565.6 1295.5,567.2 1296.1,564.7 1296.7,565.2 1297.3,564.1 1297.9,566.4 1298.6,565.1 1299.2,565.9 1299.8,564.4 1300.4,565.7 1301,565.3 1301.7,565.5 1302.3,562.6 1302.9,564.6 1303.5,567 1304.1,566.4 1304.8,565.4 1305.4,564.6 1306,660.5 1306.1,567.6 1306.7,567.9 1307.3,567.9 1307.9,567.5 1308.4,566.8 1309,566.9 1309.6,569 1310.2,571.7 1310.8,571.2 1311.4,572.6 1312,573.4 1312.6,573.6 1313.2,572.3 1313.8,575.1 1314.4,574.7 1315,574.3 1315.6,576.1 1316.2,574.6 1316.9,576.2 1317.5,575 1318.1,578.1 1318.7,579.9 1319.3,575.3 1319.9,577.4 1320.5,576 1321.1,574.3 1321.8,576.6 1322.4,577.5 1323,577 1323.6,576.8 1324.2,578.6 1324.8,576.8 1325.4,576.5 1326,576.1 1326.6,578.6 1327.3,577.8 1327.9,576.5 1328.5,579.1 1329.1,576.6 1329.7,576.8 1330.3,576.9 1330.9,575.3 1331.5,574.4 1332.1,577.5 1332.8,576.3 1333.4,577.1 1334,576.7 1334.6,575.4 1335.2,577.4 1335.8,575.2 1336.4,576.2 1337,575 1337.6,574.2 1338.3,573.6 1338.9,572.6 1339.5,575.8 1340.1,574.1 1340.7,575.6 1341.3,574.5 1341.9,572.8 1342.5,572.4 1343.1,572 1343.8,571.4 1344.4,573 1345,575.8 1345.6,572.2 1346.2,572.7 1346.8,572.8 1347.4,571.7 1348,568.8 1348.6,572.7 1349.3,572.3 1349.9,573.1 1350.5,571.1 1351.1,571.3 1351.7,569.8 1352.3,570.6 1352.9,567.8 1353.5,569.1 1354.1,570.7 1354.7,570.1 1355.3,570.3 1355.9,569.5 1356.5,568.9 1357.1,569.3 1357.6,568.6 1358.2,569.3 1358.8,568 1359.4,568.8 1360,570.2 1360.6,571.4 1361.2,571.2 1361.8,569.1 1362.4,569.5 1363,568.6 1363.5,568.9 1364.1,567.1 1364.7,569 1365.3,564.9 1365.9,567.7 1366.5,568.2 1367.1,566.1 1367.7,568 1368.3,568.7 1368.9,568 1369.4,568.9 1370,570.9 1370.6,567.9 1371.2,567.6 1371.8,568.3 1372.4,568.2 1373,567.2 1373.6,566.1 1374.2,567.5 1374.8,567.1 1375.4,565.6 1376.1,618.4 1376.7,566.3 1377.4,566.2 1378,566.5 1378.6,569.6 1379.2,565.2 1379.8,566.5 1380.4,565.9 1381,568 1381.6,566.8 1382.3,570.7 1382.9,566.2 1383.5,565.8 1384.1,566.1 1384.7,564.9 1385.3,567.6 1385.9,566.8 1386.5,566.2 1387.1,565.3 1387.8,568.8 1388.4,566.5 1389,564.7 1389.6,565.7 1390.2,564 1390.8,565.4 1391.4,562 1392,562.2 1392.6,562.1 1393.3,566.2 1393.9,565 1394.5,565.8 1395.1,562 1395.7,564.8 1396.3,564.2 1396.9,565.6 1397.5,565.4 1398.1,565.1 1398.8,565.2 1399.4,567.8 1400,564.4 1400.6,567.8 1401.2,565.4 1401.8,566.5 1402.4,565.3 1403,566.5 1403.6,563.1 1404.3,565.1 1404.9,567.8 1405.5,564.1 1406.1,563.5 1406.7,564.3 1407.3,561.4 1407.9,565.2 1408.5,565.7 1409.1,565.2 1409.7,565.4 1410.3,566.4 1410.9,564.9 1411.5,566.6 1412.1,565.7 1412.7,566.4 1413.3,564.9 1413.9,563.9 1414.5,567.4 1415.1,567.4 1415.6,563.5 1416.2,567 1416.8,566.5 1417.4,566.4 1418,565.7 1418.6,568.1 1419.2,567.7 1419.8,569.1 1420.4,568.7 1421,568 1421.6,568.2 1422.2,569.2 1422.8,568.6 1423.4,568.1 1424,567.6 1424.6,567.9 1425.2,566.5 1425.8,568 1426.4,565.3 1427,565.3 1427.6,566.9 1428.2,567.8 1428.8,567.2 1429.4,567.2 1430,566.1 1430.6,569.2 1431.2,567.1 1431.8,564.5 1432.4,568.3 1433,565.8 1433.6,566.6 1434.2,566.2 1434.8,566.9 1435.4,567.9 1436,566.7 1436.7,567.9 1437.3,567.4 1437.9,565.3 1438.5,567.1 1439.1,567.2 1439.7,565.4 1440.3,566.3 1440.9,566.7 1441.5,564.5 1442.2,566.9 1442.8,567.5 1443.4,567.9 1444,567.2 1444.6,566.9 1445.2,569.3 1445.8,565.3 1446.4,566.8 1447,568.4 1447.6,566.2 1448.3,518.2 1448.4,530.9 1449,568.8 1449.6,567.8 1450.2,568.3 1450.8,568.8 1451.4,568.3 1452,567.9 1452.6,566.3 1453.2,567.5 1453.8,566.1 1454.4,565.9 1455,565.4 1455.6,565.8 1456.3,565.3 1456.9,566.2 1457.5,566 1458.1,568.8 1458.8,570.3 1459.4,566.5 1460,568.4 1460,565.8 1460.6,564.7 1461.2,566.2 1461.8,565.5 1462.4,566.1 1463.1,567.4 1463.7,565.2 1464.3,566.3 1464.9,566.4 1465.5,564.5 1466.1,563.9 1466.7,565.9 1467.3,563.9 1467.9,565.7 1468.5,564.9 1469.1,563.3 1469.7,564.1 1470.3,565.2 1470.9,567.9 1471.5,565.7 1472.1,565.4 1472.6,567 1473.2,566.3 1473.8,566.5 1474.4,567.5 1475,568 1475.6,567.5 1476.2,569.3 1476.8,569 1477.4,567.9 1478,569.5 1478.5,567.7 1479.1,569.1 1479.7,568.4 1480.3,567 1480.9,566.8 1481.5,567.3 1482.1,568.8 1482.7,568.9 1483.3,568.1 1483.9,566.8 1484.4,570 1485,569.6 1485.6,569.9 1486.2,567.3 1486.8,569.6 1487.4,569.5 1488,567.5 1488.6,569.8 1489.2,570.6 1489.8,570.2 1490.4,568.1 1491,568.5 1491.6,569.2 1492.2,568.2 1492.8,569.6 1493.4,570 1494,570.4 1494.6,570.6 1495.2,569.5 1495.8,568.3 1496.4,569.7 1497,568 1497.6,568.4 1498.2,566.9 1498.8,570.6 1499.4,570.4 1499.9,570.4 1500.5,569.2 1501.1,570 1501.7,569.3 1502.3,569.4 1502.9,569.6 1503.5,568.2 1504.1,567.5 1504.7,568.3 1505.3,567.1 1505.9,568.7 1506.5,569 1507.1,571.9 1507.7,570.7 1508.3,569.8 1508.9,568.8 1509.5,570.6 1510.1,569.6 1510.7,569.1 1511.3,567.7 1511.9,570.6 1512.5,567.1 1513.1,570.1 1513.7,570.5 1514.3,567.5 1514.9,566.4 1515.5,569.9 1516.1,569.8 1516.7,567.9 1517.3,569.2 1517.9,506.5 1518.1,540 1518.7,570.8 1519.3,571.5 1519.9,571.2 1520.5,568.9 1521.1,572.2 1521.7,572.1 1522.3,569.7 1522.9,569.9 1523.6,571.1 1524.2,570.4 1524.8,570.2 1525.4,571 1526,567.7 1526.6,569.9 1527.2,568.7 1527.8,570.6 1528.4,568.4 1529,568.8 1529.6,571.7 1530.2,568.5 1530.8,570.2 1531.4,571.4 1532,570.7 1532.6,570.6 1533.2,569.5 1533.8,568.9 1534.4,568.7 1535,570.8 1535.6,570.4 1536.2,572.9 1536.8,568.9 1537.4,569 1538,569.6 1538.6,569.5 1539.2,569.1 1539.8,569.8 1540.4,569.5 1541,568.6 1541.6,570 1542.2,567.3 1542.8,570.9 1543.4,571 1544,570.1 1544.6,567.9 1545.2,569.4 1545.8,567.4 1546.4,568.4 1547,570.5 1547.6,568.8 1548.2,570.8 1548.8,569.8 1549.4,569.5 1550,569.3 1550.6,569.4 1551.2,572.9 1551.8,571.3 1552.4,572.2 1553,570.6 1553.6,570.9 1554.2,568.1 1554.8,568.9 1555.4,568.9 1556,570.9 1556.6,571.7 1557.2,568.6 1557.8,574.2 1558.4,570.9 1559,570.5 1559.6,573 1560.2,570.6 1560.8,574.2 1561.4,572.1 1562,569.2 1562.6,571.9 1563.2,571.5 1563.8,572.9 1564.3,571.3 1564.9,570.7 1565.5,569.2 1566.1,570.3 1566.7,568.9 1567.3,569.3 1567.9,569.5 1568.5,567.7 1569.1,569.3 1569.7,570.3 1570.3,569.8 1570.9,570.4 1571.5,570.4 1572.1,569.3 1572.7,571.4 1573.3,571.6 1573.9,571.5 1574.5,571.6 1575.1,571.7 1575.7,571.9 1576.3,569.5 1576.9,572.7 1577.5,573 1578.1,573.6 1578.7,572.8 1579.3,569.6 1579.8,570.9 1580.4,570.6 1581,572.8 1581.6,570.8 1582.2,570.6 1582.9,568.8 1583.5,569.2 1584.1,568.7 1584.7,570.8 1585.4,569.3 1586,572.3 1586.6,568.9 1587.2,571.2 1587.8,569.6 1588.3,546.8 1588.5,463.7 1588.6,483.2 1589.2,569.4 1589.8,571 1590.4,567.1 1591,568.5 1591.6,567.8 1592.2,566.8 1592.8,566.6 1593.4,565.5 1594,567.1 1594.6,568.3 1595.1,569.6 1595.7,568.1 1596.3,570.3 1596.9,567.3 1597.5,567.2 1598.1,570.3 1598.7,570.5 1599.2,567.7 1599.8,570.1 1600.4,570.5 1601,568.3 1601.8,515 1604.2,528.5 1604.8,571.7 1605.4,570.9 1606.1,571.4 1606.7,568.5 1607.3,573.2 1607.9,571.1 1608.5,569.3 1609.1,569.8 1609.7,569.6 1610.3,568.6 1610.9,568 1611.5,570.6 1612.1,572.6 1612.7,569.4 1613.3,569.9 1613.9,569.9 1614.5,571.6 1615.1,571.9 1615.7,568.7 1616.3,571.3 1616.9,571 1617.5,573.5 1618,570.8 1618.6,573.9 1619.2,572.3 1619.8,571 1620.4,572.2 1621,570 1621.6,569.6 1622.2,569.3 1622.8,569.4 1623.4,572.1 1624,573.4 1624.6,570.1 1625.2,569.2 1625.8,569.2 1626.4,570 1627,570.5 1627.6,570.2 1628.2,569.9 1628.7,571.3 1629.3,572 1629.9,568.8 1630.5,570.1 1631.1,570.2 1631.7,570.4 1632.4,572.9 1633,570.4 1633.6,569.8 1634.2,571.8 1634.8,568.8 1635.4,569.9 1636,567.6 1636.6,568.2 1637.2,567.9 1637.9,570.4 1638.5,569.9 1639.1,570.7 1639.7,567.9 1640.3,567.1 1640.9,570.1 1641.5,570.1 1642.1,568.5 1642.7,569.8 1643.4,572 1644,572.1 1644.6,571.4 1645.2,571.6 1645.8,570.8 1646.4,572.1 1647,567.8 1647.6,570 1648.2,568.8 1648.9,570.9 1649.5,570.4 1650.1,568.2 1650.7,570.1 1651.3,568.6 1651.9,568.6 1652.5,569.1 1653.1,571.3 1653.7,568.9 1654.4,566.6 1655,568 1655.6,566.2 1656.2,567.2 1656.8,569 1657.4,567.2 1658,569.4 1658.6,569.5 1659.2,604.3 1659.4,636 1660,568.5 1660.6,564.8 1661.1,567.1 1661.7,569.3 1662.3,572.1 1662.9,567.7 1663.5,567.3 1664.1,567.5 1664.7,566.1 1665.3,569.2 1665.9,566.6 1666.4,571.1 1667,568.2 1667.6,569.4 1668.2,566.5 1668.8,565 1669.4,566.7 1670,569.3 1670.6,567.4 1671.2,567 1671.8,567.9 1672.4,565.2 1672.9,567.2 1673.5,566.8 1674.1,565.7 1674.7,566.7 1675.3,563.7 1675.9,567 1676.5,564.3 1677.1,566.4 1677.7,566.3 1678.3,565.6 1678.8,565.6 1679.4,566.8 1680,565.9 1680.6,565.8 1681.2,564.7 1681.9,566.1 1682.5,562.9 1683.1,564.2 1683.7,565.3 1684.3,565.4 1684.9,564.2 1685.5,565.1 1686.1,564.7 1686.7,563.8 1687.4,562.1 1688,565.3 1688.6,564.9 1689.2,564.4 1689.8,567 1690.4,564.5 1691,564.9 1691.6,565.2 1692.2,565.7 1692.9,564 1693.5,562.5 1694.1,561.9 1694.7,563.5 1695.3,562.2 1695.9,564.5 1696.5,564.5 1697.1,567.7 1697.7,566.4 1698.4,565.4 1699,568.3 1699.6,565.8 1700.2,565.1 1700.8,565.2 1701.4,567.5 1702,567.4 1702.6,565.5 1703.2,567.4 1703.9,569 1704.5,566.7 1705.1,564.7 1705.7,565 1706.3,566.9 1706.9,566.1 1707.5,565.2 1708.1,566.8 1708.7,563.9 1709.4,566 1710,564.8 1710.6,565.4 1711.2,563.8 1711.8,566.2 1712.4,566 1713,568.7 1713.6,564.1 1714.2,566.7 1714.9,566.6 1715.5,565.4 1716.1,566.8 1716.7,568 1717.3,565.7 1717.9,567.6 1718.5,561 1719.1,564.4 1719.7,566.6 1720.4,566.2 1721,564.9 1721.6,563.7 1722.2,563.9 1722.8,566.2 1723.4,564.5 1724,564 1724.6,564.2 1725.2,562.4 1725.9,560.5 1726.5,562.9 1727.1,559.9 1727.7,560.6 1728.3,560.2 1728.9,559.8 1729.5,561.3 1730.1,497.2 1730.7,566.8 1731.3,567.2 1731.8,565.2 1732.5,565.5 1733.1,565.3 1733.7,566.9 1734.3,565.9 1734.9,567.7 1735.6,568.6 1736.2,566.8 1736.8,568.1 1737.4,567.8 1738,568.6 1738.7,568.4 1739.3,566.5 1739.9,566.8 1740.5,569.2 1741.1,568.4 1741.8,569 1742.4,569.8 1743,566.9 1743.6,566.7 1744.2,567.9 1744.8,566.7 1745.4,566.8 1746,566.6 1746.6,570.2 1747.3,567.4 1747.9,568.9 1748.5,566.9 1749.1,568.2 1749.7,566.7 1750.2,567.4 1750.8,565.5 1751.4,566 1752,566.2 1752.6,563.9 1753.2,564.8 1753.8,567.3 1754.4,565 1755,566.2 1755.6,566.4 1756.1,567 1756.7,566.4 1757.3,562.5 1757.9,566.4 1758.5,564.6 1759.1,565.9 1759.7,566.8 1760.3,565.5 1760.9,567.8 1761.5,568.7 1762,565.7 1762.6,566.6 1763.2,567.5 1763.8,566.1 1764.4,568.7 1765,567.9 1765.6,569 1766.2,567.2 1766.8,568.9 1767.4,564.8 1768,568.5 1768.6,569.2 1769.3,567.8 1769.9,569 1770.5,569.3 1771.1,567.2 1771.7,568.4 1772.3,570.4 1772.9,567.4 1773.5,567 1774.1,569.6 1774.8,569.5 1775.4,566.8 1776,567.6 1776.6,569.2 1777.2,566.6 1777.8,565.3 1778.4,564.9 1779,564.6 1779.6,564.3 1780.2,568.9 1780.8,567.3 1781.4,568.4 1782,567 1782.6,568.1 1783.1,566.9 1783.7,566.2 1784.3,565.6 1784.9,567.7 1785.5,567.4 1786.1,567.4 1786.7,564.7 1787.3,565.4 1787.9,565.8 1788.5,565.1 1789.1,564.7 1789.7,565.4 1790.3,565.8 1790.8,562.8 1791.4,563.2 1792,561.2 1792.6,564 1793.2,565.4 1793.8,562.3 1794.4,564.2 1795,561.2 1795.6,562.9 1796.2,562.9 1796.8,562.4 1797.4,563.6 1801,584.7 1801.6,559.1 1802.3,556.4 1802.9,557.3 1803.5,555.9 1804.1,556.1 1804.7,557.7 1805.3,560.5 1805.9,556.7 1806.5,555.9 1807.1,556 1807.8,556.9 1808.4,558.2 1809,557.3 1809.6,558 1810.2,559.1 1810.8,561.8 1811.4,561.9 1812,564 1812.6,565.9 1813.3,563.2 1813.9,563.9 1814.5,566.9 1815.1,566.7 1815.7,564.1 1816.3,565.7 1816.9,564.9 1817.5,564.2 1818.1,567.1 1818.8,566.9 1819.4,565.9 1820,566 1820.6,566.2 1821.2,565.3 1821.8,566.5 1822.4,567 1823,562.3 1823.6,563.9 1824.3,566 1824.9,565.2 1825.5,563.1 1826.1,563.2 1826.7,565.8 1827.3,565.8 1827.9,564.2 1828.5,564.7 1829.1,566.9 1829.8,564.5 1830.4,565.1 1831,567.1 1831.6,564.2 1832.2,565.3 1832.8,562.7 1833.4,563.6 1834,561 1834.6,563.2 1835.3,563.6 1835.9,564.9 1836.5,565.7 1837.1,564.5 1837.7,561.4 1838.3,563.3 1838.9,566 1839.5,563.1 1840.1,565 1840.8,564.7 1841.4,564.2 1842,564.2 1842.6,565.4 1843.2,565.8 1843.8,566.3 1844.4,563.5 1845,563.8 1845.6,561.5 1846.3,562.2 1846.9,564.2 1847.5,563.9 1848.1,566.5 1848.7,562.1 1849.3,564.2 1849.9,565.5 1850.5,560.3 1851.2,562.9 1851.8,564 1852.4,560.9 1853,563.7 1853.6,562.9 1854.2,562.7 1854.8,564.5 1855.4,565.1 1856,565.6 1856.7,565.9 1857.3,566.7 1857.9,567.5 1858.5,567.7 1859.1,565.5 1859.7,565.1 1860.3,570.1 1860.9,567.8 1861.6,568.8 1862.3,567 1862.9,569.6 1863.6,568.1"/>
<polyline stroke="#008000" marker-start="url(#mg)" marker-mid="url(#mg)" marker-end="url(#mg)" points="250.3,570.2 250.9,570.6 251.5,570.9 252.2,570.9 252.8,569 253.4,570 254,570.5 254.7,570.8 255.3,569.7 255.9,571.6 256.5,570.6 257.1,569.9 257.7,571.9 258.3,570.8 258.9,571 259.6,568.6 260.2,569.7 260.8,568 261.4,568.1 262,568 262.6,569 263.2,566.4 263.8,565 264.4,563.7 265,565.3 265.6,564.1 266.2,566.7 266.8,566.4 267.4,566.6 268,566.6 268.6,566.6 269.2,567.7 269.8,566 270.4,566.5 271,563.9 271.6,568.1 272.2,567.4 272.7,566.3 273.3,569 273.9,566.8 274.5,569.2 275.1,568.8 275.7,567.8 276.3,569 276.9,567 277.5,567.9 278.1,566.5 278.7,565.7 279.3,567.7 279.9,567.8 280.4,567.2 281,567 281.6,566.9 282.2,566.2 282.8,563.6 283.4,567.2 284,565.5 284.6,568.4 285.2,564.8 285.8,565.9 286.4,565.1 287.1,565.9 287.7,566.5 288.3,566.2 288.9,563.9 289.5,564 290.1,566.1 290.7,566.5 291.3,564.9 291.9,564 292.6,563.8 293.2,563.7 293.8,563.8 294.4,564.9 295,563.5 295.6,563.4 296.2,562.5 296.8,564.1 297.5,563.3 298.1,563.4 298.7,563.3 299.3,564.7 299.9,563.4 300.5,562.9 301.1,563.3 301.7,564.8 302.3,565.5 303,562.4 303.6,564.8 304.2,564.6 304.8,564.1 305.4,565 306,566.9 306.6,566.8 307.2,566.2 307.8,566.1 308.5,565 309.1,566.2 309.7,565.8 310.3,564.8 310.9,564.4 311.5,567.2 312.1,567 312.7,565.9 313.3,564.5 314,565.2 314.6,565.3 315.2,565.3 315.9,563.9 316.5,565 317.1,565.7 317.7,564.1 321.9,560.2 322,571.2 322.6,570.3 323.2,568.1 323.8,567.5 324.3,568.3 325,568.3 325.6,563.9 326.2,566.1 326.8,563.7 327.4,565.6 328,565.7 328.6,563.3 329.2,563.3 329.8,562.3 330.5,563.2 331.1,563.6 331.7,562.1 332.3,565.2 332.9,565.6 333.5,564.6 334.1,564.7 334.7,564.5 335.3,562.7 336,566 336.6,562.5 337.2,564.4 337.8,562.7 338.4,563.9 339,562.1 339.6,563.8 340.2,564.3 340.8,565.5 341.5,564.2 342.1,564.4 342.7,565.1 343.3,563.3 343.9,565.1 344.5,567.7 345.1,566.3 345.7,566 346.3,566.4 347,567.4 347.6,567.2 348.2,565.8 348.8,565.1 349.4,566.8 350,566.9 350.6,566.6 351.2,567.8 351.8,567.7 352.4,568.4 353,567.1 353.6,569.6 354.1,568.2 354.7,567.5 355.3,569.7 355.9,568.9 356.5,570 357.1,568.7 357.7,569.9 358.3,567.5 358.9,570 359.5,566.6 360,569.3 360.6,568.3 361.2,568.9 361.8,568.2 362.4,569.5 363,569.1 363.6,566.2 364.2,567.4 364.8,566.6 365.4,565.8 365.9,565.2 366.5,568.2 367.1,566.8 367.7,566.1 368.3,567.5 369,566.1 369.6,566.2 370.2,566 370.8,567.2 371.4,567.3 372,567.8 372.6,566.9 373.2,564.7 373.8,565.1 374.5,564.6 375.1,566.9 375.7,566.9 376.3,566.8 376.9,566 377.5,567.2 378.1,565.9 378.7,564.6 379.3,564.2 380,564.7 380.6,565.6 381.2,566.5 381.8,563.8 382.4,566.9 383,565.3 383.6,564.4 384.1,566.5 384.7,564.2 385.3,564.5 385.9,565.8 386.5,564.6 387.1,566.2 387.7,563.4 388.3,566.3 389.1,494.2 389.2,549.2 389.8,572.9 390.4,572.9 391,573.2 391.6,573 392.2,575.7 392.8,577.3 393.4,575.4 394,578 394.6,578.9 395.2,579.2 395.8,580.1 396.5,582.9 397.1,579.7 397.7,576.9 398.3,577.8 398.9,578.2 399.5,577.2 400.1,574.7 400.7,574.7 401.3,575 402,575.4 402.6,574 403.2,573 403.8,573.4 404.4,573.5 405,572.6 405.6,572.7 406.2,571.1 406.9,571.2 407.5,571.7 408.1,571.9 408.7,572.5 409.3,570.8 409.9,573.6 410.5,572.1 411.1,570.2 411.7,571.1 412.4,572 413,569.4 413.6,570.9 414.2,571 414.8,572.3 415.4,573.2 416,573.3 416.6,571.9 417.2,571 417.9,573.8 418.5,574.2 419.1,574.1 419.7,573.8 420.3,573.2 420.9,572.9 421.5,575.9 422.1,574.7 422.7,573.9 423.4,575.5 424,575.5 424.6,575.8 425.2,576.9 425.8,575.2 426.4,574.4 427,574.7 427.6,574.9 428.2,575.1 428.9,574.8 429.5,573.3 430.1,573.5 430.7,571.1 431.3,573.6 431.9,570.9 432.5,571.2 433.1,567.9 433.7,567.1 434.4,569 435,567.8 435.6,567.4 436.2,567.8 436.8,567.7 437.4,566.6 438,568.8 438.6,566.5 439.2,562.1 439.9,563.2 440.5,564.9 441.1,564.3 441.7,564.1 442.3,565.3 442.9,564.5 443.5,564.5 444.1,564.8 444.7,565.2 445.4,565.2 446,567.9 446.6,564.8 447.2,565.6 447.8,566.7 448.4,566.1 449,566.1 449.6,565.2 450.2,566.3 450.9,566.8 451.5,566.9 452.1,566.8 452.7,566.2 453.3,566.2 453.9,568.2 454.5,568.6 455.1,566.8 455.8,566.4 456.4,565.6 457,567.3 457.7,567.8 458.3,567.6 458.9,565.5 459.5,533.4 459.7,551.7 460.3,564.6 460.7,564.6 461.2,563.7 461.9,564.3 462.5,565.6 463.1,562.3 463.7,563.1 464.3,563.9 464.9,563.1 465.5,562.1 466.1,564 466.7,564.2 467.3,564.4 467.9,566.4 468.5,563.9 469.1,564.2 469.7,564.5 470.2,565.6 470.8,564.3 471.4,565 472,567.6 472.6,563.2 473.2,564.3 473.8,564 474.4,563.9 475,566.4 475.6,566 476.2,564.5 476.8,565.9 477.4,564.9 477.9,564.9 478.5,566.5 479.1,565.4 479.7,565.6 480.3,563.7 480.9,565.4 481.5,565.2 482.1,564.3 482.7,566.3 483.3,564.7 483.9,566.9 484.5,565.1 485.1,564.4 485.7,568.2 486.3,566.6 486.9,566.1 487.5,566.9 488,564.9 488.6,566.2 489.2,566.9 489.8,567 490.4,566.1 491,565.1 491.6,567.1 492.2,564.6 492.8,566.2 493.4,563.8 494,568.6 494.6,568.6 495.2,565.6 495.8,568.3 496.4,566.2 497,565.9 497.6,565.5 498.2,567.7 498.8,564.8 499.4,566.4 500,567.9 500.6,564.5 501.2,566.4 501.8,567.4 502.4,564.8 503,568.3 503.5,566.5 504.1,564.3 504.7,566.7 505.3,566.1 505.9,567.8 506.5,565.4 507.1,565.9 507.7,566.7 508.3,564.7 508.9,566.9 509.5,566.3 510.1,565.7 510.7,565.9 511.3,566.1 512,566.5 512.6,568.7 513.2,567.1 513.8,567.8 514.4,566.6 515,568.5 515.6,568.6 516.2,566.4 516.8,569.7 517.4,567.6 518,565.7 518.6,566.7 519.2,566.1 519.9,567.9 520.5,568.9 521.1,569.5 521.7,566.1 522.3,565.8 522.9,568.2 523.5,566.6 524.1,566.1 524.7,567 525.3,567.1 525.9,567.8 526.5,567.7 527.1,565.4 527.7,566 528.4,567.3 529,568.1 529.6,567.4 530.2,599.9 530.8,567.2 531.4,568.6 532.1,567.4 532.7,569.1 533.4,568.7 534,568.3 534.6,567.1 535.2,568.1 535.7,567.8 536.3,566.9 536.9,567.4 537.5,569.1 538.1,567.3 538.7,567.8 539.3,569.6 539.9,567.6 540.5,568.4 541.1,568.2 541.7,567.6 542.3,567.9 542.9,568.9 543.5,568.7 544.1,566.5 544.7,567.4 545.3,569 545.9,568.2 546.5,566.8 547.1,565.9 547.7,567.6 548.3,567.6 548.9,567.5 549.5,566.4 550.1,567.8 550.7,568.7 551.3,567.6 551.8,568 552.4,569.7 553,568.8 553.6,567.1 554.2,568.4 554.8,568.7 555.4,565.5 556,566.1 556.6,567.7 557.2,565.8 557.8,566.5 558.4,565.7 559,566.9 559.6,566.6 560.2,567.1 560.8,565.2 561.4,566.3 562,567 562.6,566.9 563.2,566.4 563.8,564.1 564.4,564.5 565,567.7 565.6,568.2 566.2,565.7 566.8,566.2 567.3,565.3 567.9,567 568.5,565.6 569.1,568 569.7,565.4 570.3,565.3 570.9,567.5 571.5,566.8 572.1,567.4 572.7,568.5 573.3,569.2 573.9,565 574.5,567.3 575.1,569.5 575.7,567.6 576.3,566.2 576.9,567.2 577.5,568.6 578.1,568.6 578.7,567.9 579.3,566.9 579.9,570 580.5,569.4 581.1,567.8 581.7,564.7 582.3,568.2 582.8,566.2 583.4,567.2 584,569.7 584.6,569.3 585.2,568.8 585.8,568.1 586.4,566.7 587,565.7 587.6,568.4 588.2,567.7 588.7,567.3 589.3,570.6 589.9,569.6 590.5,568.2 591.1,566.4 591.7,568.5 592.3,567.5 592.9,566.4 593.5,569.9 594.1,567.4 594.6,568 595.2,568 595.8,567.4 596.4,571.1 597,569.1 597.6,569.2 598.2,570.8 598.8,570.2 599.4,570.6 600,570.5 600.6,524.8 600.7,541.9 600.8,548 601,585.9 601.6,570.5 602.3,567.5 603,569.6 603.6,569.2 604.3,569.9 604.9,568 605.5,569.8 606.1,570.6 606.7,569.1 607.3,569 607.9,567 608.5,568.1 609.1,566.2 609.7,568.2 610.3,568.6 610.9,568.4 611.5,565.8 612.1,567.6 612.7,570.1 613.3,568.6 613.9,569.6 614.5,567.7 615.1,569.1 615.6,568.3 616.2,569.5 616.8,567.2 617.4,568.3 618,569.4 618.6,570.4 619.2,568.9 619.8,569.5 620.4,565.9 621,569 621.6,566.5 622.2,567 622.8,568.9 623.4,568.9 624,566.7 624.6,568.6 625.2,568 625.8,567.3 626.4,568.3 627,569.2 627.6,567.4 628.2,566.8 628.8,569.1 629.4,566.8 630,570.4 630.6,569.2 631.2,568.7 631.8,568.8 632.4,568 633,567.6 633.6,567.8 634.2,566.7 634.8,566 635.4,566.2 636,566.1 636.7,564.2 637.3,567 637.9,567 638.5,566.6 639.1,566.6 639.7,567.5 640.3,565.8 640.9,567.5 641.5,566.4 642.2,566.3 642.8,566.3 643.4,566.2 644,568.1 644.6,566 645.2,566.6 645.8,566.4 646.4,565.6 647,565.5 647.7,566.1 648.3,564 648.9,564.7 649.5,564.6 650.1,565.5 650.7,563.8 651.3,565.6 651.9,564.1 652.5,564.5 653.2,563.7 653.8,566.5 654.4,563.5 655,565.8 655.6,568.1 656.3,567.2 656.9,567 657.5,569.6 658.1,566.6 658.8,570.5 659.4,567.3 660,568.7 659.4,567.7 658.8,571.3 658.2,567.9 657.6,571.4 657,569.3 656.4,569.9 655.8,571.2 655.1,569.3 654.5,567.6 653.9,570.9 653.3,568.6 652.7,569.1 652.1,568.6 651.5,569.9 650.9,567.9 650.3,569.3 649.7,568.2 649.1,568.1 648.5,567.1 647.9,569.1 647.3,568.4 646.7,568.3 646.1,568.9 645.5,569 644.8,568.3 644.2,570.2 643.6,568.2 643,568.3 642.4,568.2 641.8,568.1 641.2,569.1 640.6,567.3 640,568.9 640.6,567.2 641.2,568.9 641.8,567.8 642.4,567.8 643.1,567.8 643.7,567.6 644.3,569.5 644.9,567.5 645.5,568.1 646.1,567.9 646.7,567.2 647.3,567.1 647.9,567.7 648.6,565.7 649.2,566.5 649.8,566.5 650.4,567.6 651,568.1 651.6,566.7 652.2,567.1 652.8,566.4 653.4,568.6 654.1,565.2 654.7,566.9 655.3,568.9 655.9,567.7 656.5,567.2 657.1,569.5 657.7,566.3 658.3,569.9 658.9,566.5 659.6,567.6 660.2,568.6 660.8,566.7 661.4,569.8 662,567.6 662.6,567.2 663.2,568.4 663.8,568.6 664.4,568.7 665,568 665.6,566.6 666.2,565.7 666.8,567.1 667.4,567.6 668,567.2 668.6,566.9 669.2,564.5 669.8,565.5 670.4,565 671,566.4 671.6,565.9 672.2,564.3 673,500.4 673.1,532.1 673.2,546.8 673.8,565.1 674.4,565.4 674.9,565.8 675.4,566.3 676.1,566.9 676.7,566.3 677.3,564.6 677.9,564 678.5,565.2 679.1,566 679.7,565.1 680.2,563.8 680.8,562.5 681.4,563.1 682,565.7 682.6,567.8 683.2,566.8 683.8,566.6 684.4,564.1 685,564.3 685.6,568.2 686.2,562.8 686.8,565.1 687.4,566.2 688,563.5 688.6,565.5 689.2,563.3 689.8,564.4 690.4,564.2 691,564.1 691.6,562.8 692.2,563.9 692.8,564.9 693.4,563.9 694,563.4 694.6,564.7 695.2,564.8 695.8,565.9 696.3,566.5 696.9,566 697.5,563.8 698.1,565.4 698.7,564.4 699.3,565.1 699.9,563.3 700.5,564.5 701.1,565.4 701.7,565.5 702.3,567.5 702.9,564.6 703.5,566.2 704.1,566.5 704.7,564.8 705.3,563.7 705.9,564 706.5,565.6 707.1,565.4 707.7,564.7 708.3,564.1 708.9,565.7 709.5,563.4 710.1,566.8 710.7,563.8 711.3,562.6 711.9,565.7 712.4,564.7 713,565.6 713.6,564 714.2,564.5 714.8,564.4 715.4,564.5 716,564.4 716.6,567.1 717.2,564.1 717.8,568.1 718.4,564.4 719,565.2 719.6,564.6 720.2,565.5 720.8,565.4 721.4,565.6 722,565.4 722.6,565.1 723.2,565.8 723.8,565.4 724.4,566.1 725,565.8 725.6,563.5 726.2,563.8 726.8,563.9 727.4,566.5 728,565.1 728.6,566.6 729.2,566.2 729.8,565.7 730.5,565.8 731.1,565.2 731.7,565.6 732.3,566.3 732.9,565.5 733.5,564.9 734.1,565.4 734.7,566.2 735.3,563.6 736,565.8 736.6,564.2 737.2,567.1 737.8,565.4 738.4,564 739,565.8 739.6,566 740.2,565 740.8,565 741.4,565.1 742.2,603 742.3,579.8 742.9,567.4 743.5,567.8 744,567.5 744.6,567.4 745.1,568.3 745.7,566.5 746.3,566.2 747,566.1 747.6,562.4 748.2,561.1 748.8,560.7 749.4,558.3 750,556.9 750.6,559.5 751.2,563.2 751.8,565.9 752.5,568.7 753.1,568.9 753.7,569.9 754.3,572.4 754.9,571.8 755.5,572.2 756.1,573.4 756.7,572.3 757.3,571.9 758,571.7 758.6,571.9 759.2,571 759.8,570.8 760.4,568.3 761,566.7 761.6,567.1 762.2,565.3 762.8,565.1 763.5,563.1 764.1,559.9 764.7,558.6 765.3,561.6 765.9,562.6 766.5,561.4 767.1,562.5 767.7,564.6 768.3,565.4 769,565.3 769.6,565.1 770.2,565.5 770.8,564.4 771.4,566.1 772,566.9 772.6,566 773.2,566.9 773.8,567.9 774.5,568.5 775.1,566.6 775.7,569.2 776.3,569.1 776.9,564.6 777.5,568.5 778.1,564.5 778.7,563.9 779.3,566.5 779.9,563.8 780.5,566.2 781.1,566.7 781.7,565.6 782.3,565 782.8,567.3 783.4,564.8 784,565.9 784.6,566.5 785.2,563.4 785.8,565.9 786.4,566 787,565.1 787.6,567.1 788.2,567.9 788.8,565.4 789.4,567.8 790,566.8 790.6,566.5 791.2,566.1 791.8,564.4 792.4,567.3 793,565.5 793.6,568 794.1,566.3 794.7,564.9 795.3,564.8 795.9,566.4 796.5,565.7 797.1,566.3 797.7,564.2 798.3,565.9 798.9,565.1 799.5,567.2 800.1,565.6 800.7,564.4 801.3,566.6 801.8,565.4 802.4,566 803,566.2 803.6,564.3 804.2,564.8 804.8,566.7 805.4,565.9 805.9,567.4 806.5,565 807.1,568 807.7,565.4 808.3,565.9 808.9,566.3 809.5,565.8 810.1,565.8 810.6,564.5 811.2,567.9 811.8,565.7 812.4,482 812.5,493 812.6,507.7 812.7,523.1 813.3,567.8 813.9,567.2 814.4,570 814.9,569.3 815.5,567.2 816,568.3 816.6,571.2 817.2,569.3 817.9,570 818.5,573.6 819.1,574 819.7,573.4 820.3,570.9 820.9,573.8 821.5,574.3 822.1,573.1 822.7,574.1 823.4,572.9 824,574.9 824.6,576.8 825.2,574.4 825.8,578.1 826.4,574 827,575.2 827.6,577 828.2,577.2 828.9,574.8 829.5,576.8 830.1,577.3 830.7,577.5 831.3,576.7 831.9,575.8 832.5,576.9 833.1,578 833.7,576.6 834.4,578.2 835,577.9 835.6,576.6 836.2,576.8 836.8,577.3 837.4,577.8 838,577.3 838.6,580.7 839.2,578.1 839.9,577.1 840.5,575.2 841.1,577.1 841.7,577.9 842.3,577.9 842.9,578.7 843.5,577.2 844.1,578.1 844.7,579.5 845.4,578.9 846,579 846.6,574.9 847.2,573.7 847.8,574.1 848.4,571.6 849,570.8 849.6,567.3 850.2,566.9 850.9,568.2 851.5,566.8 852.1,569.1 852.7,565.5 853.3,569.3 853.9,569.7 854.5,571.2 855.1,572.4 855.7,572.6 856.4,573.1 857,575.6 857.6,576.7 858.2,577.4 858.8,577.7 859.4,580.2 860,581.5 860.6,581.7 861.2,583.6 861.9,585.7 862.5,584.7 863.1,584.7 863.7,587.4 864.3,586.5 864.9,586.2 865.5,587.7 866.1,588.8 866.7,588.9 867.4,588.1 868,588.1 868.6,588.9 869.2,588.9 869.8,589 870.4,588.7 871,587.2 871.6,586.5 872.2,585.6 872.9,587.1 873.5,582.8 874.1,584.4 874.7,581.6 875.3,580 875.9,580.6 876.5,579.2 877.1,577.9 877.7,573.7 878.4,574.7 879,576.1 879.6,572.8 880.2,570.5 880.8,570.6 881.4,566.4 882,566.8 882.6,565.1 883.2,566.4 884,367 884.1,437.5 884.2,456.3 884.3,499.1 886.9,516.2 887,540.7 887.2,554.1 889.8,584.7 890.5,584.3 891.1,584.8 891.7,586 892.3,586.7 893,585.5 893.6,586 894.2,587.8 894.8,587.7 895.4,587.2 896.1,589.3 896.7,589.2 897.3,590.6 897.9,592.7 898.5,591.8 899.1,592.2 899.7,593.2 900.4,591 901,589.3 901.6,588.5 902.2,587.4 902.8,584.5 903.4,583.9 904,583.8 904.6,584.4 905.2,583 905.9,583 906.5,582.1 907.1,581 907.7,581.7 908.3,581 908.9,579 909.5,584.8 910.1,586.3 910.7,592.4 911.4,592.4 912,593.1 912.6,592.4 913.2,593.2 913.8,594.3 914.4,595.5 915,596.3 915.6,595.1 916.2,596.4 915.6,588.5 915,583.2 915.6,578.6 916.2,576.5 916.9,575.4 917.5,570.3 918.1,567.6 918.7,567 919.3,566 919.9,564.1 920.5,563.6 921.1,563.2 921.8,563.5 922.4,564.3 923,564.4 923.6,561.2 924.2,564.1 924.8,562.4 925.4,564.7 926,562.3 926.6,563.2 927.3,563.1 927.9,568.3 928.5,564.5 929.1,566.7 929.7,564.6 930.3,566.8 930.9,565 931.5,564.3 932.1,564.2 932.8,564.9 933.4,565.2 934,563.8 934.6,562.1 935.2,560.6 935.8,561.4 936.4,563.2 937,562.1 937.6,561.6 938.3,562.1 938.9,562.7 939.5,564.4 940.1,563.9 940.7,565.8 941.3,566.1 941.9,566 942.5,566.1 943.1,566.7 943.8,568.2 944.4,566.7 945,566.4 945.6,567.8 946.2,566.2 946.8,567.5 947.4,569.8 948,568.4 948.6,568.6 949.2,568.4 949.8,567.3 950.4,568.3 951,568.2 951.6,569.2 952.2,566.1 952.8,570.3 953.4,569.4 954,569 954.6,566.9 955.4,534.1 952.9,548 953,615.3 953.6,568.9 954.2,566.8 954.8,567.9 955.4,568 956,568.4 956.6,569.2 957.2,569.2 957.8,568 958.4,570 959,570.5 959.6,571.7 960.3,573.9 960.9,575 961.5,576.6 962.1,577.7 962.7,576.3 963.3,577.1 963.9,576.6 964.5,579.3 965.1,576.2 965.8,577.4 966.4,574.1 967,576.5 967.6,573.8 968.2,572.5 968.8,571.1 969.4,571.4 970,570.8 970.6,571.4 971.3,570.3 971.9,570.2 972.5,568.5 973.1,568.8 973.7,569.2 974.3,570.4 974.9,569 975.5,567.8 976.1,568.6 976.8,566.6 977.4,567.7 978,567.7 978.5,566.8 979.1,568 979.7,569.5 980.3,568.2 980.9,568.3 981.5,567.2 982.1,566.7 982.7,568.3 983.3,566.4 983.9,565.8 984.4,566.6 985,567.1 985.6,568.8 986.2,567.6 986.8,569 987.4,566.4 988,568.2 988.6,569 989.2,568 989.8,570.2 990.3,567.8 990.9,566.7 991.5,567.5 992.1,568.7 992.7,568.8 993.3,569.7 993.9,567.8 994.5,566.4 995.1,567.7 995.7,565.5 996.3,569.1 996.9,568.3 997.5,566.6 998.1,570.1 998.6,569.5 999.2,569.8 999.8,570.5 1000.4,567.9 1001,571.1 1001.6,569.1 1002.2,568.1 1002.8,569.4 1003.4,569.2 1004,568.3 1004.6,568.2 1005.2,566.1 1005.8,565.1 1006.4,566.2 1007,567.5 1007.6,565.5 1008.2,565.4 1008.8,566.7 1009.4,564.8 1010,565.1 1010.6,568.3 1011.1,566 1011.7,565.5 1012.3,567.8 1012.9,567.6 1013.5,566.5 1014.1,567.1 1014.7,568 1015.3,567.7 1015.9,567.4 1016.5,569 1017.1,567.5 1017.7,564.8 1018.3,567 1018.9,568.7 1019.5,566 1020.1,567.2 1020.7,567 1021.3,567.6 1021.9,566.4 1022.5,565.4 1023.3,648.7 1023.9,567.8 1024.5,566.8 1025,566 1025.6,567.4 1026.3,569.5 1026.9,569.1 1027.5,569.2 1028,568.8 1028.6,567.2 1029.2,567.7 1029.8,567 1030.4,568.9 1031,569.9 1031.6,567.9 1032.2,570.8 1032.8,567.8 1033.4,567.9 1034,568.3 1034.6,569.3 1035.2,571.1 1035.8,569.5 1036.4,569.4 1037,569.9 1037.6,569.4 1038.2,570.1 1038.8,569.6 1039.4,568.5 1040,568.8 1040,568.8 1040.6,570.6 1041.2,570.5 1041.8,570.5 1042.4,569.9 1043,569.2 1043.6,569 1044.2,569.9 1044.8,569.2 1045.4,571.1 1046,571.3 1046.6,569.3 1047.2,569.9 1047.8,571.9 1048.3,570.7 1048.9,568.6 1049.5,569.1 1050.1,570.4 1050.7,567.4 1051.3,570.5 1051.9,570.3 1052.5,570.2 1053.1,569.2 1053.7,570.3 1054.3,569.5 1054.9,568 1055.5,569.9 1056.1,568.5 1056.7,569 1057.3,567.3 1057.9,568.8 1058.5,567.6 1059.1,568 1059.7,568.9 1060.3,568.4 1060.9,568.6 1061.5,568.4 1062.1,568.4 1062.7,570.2 1063.3,568.1 1063.9,567.9 1064.4,568.7 1065.1,568.6 1065.7,567.6 1066.3,567.6 1066.9,567.3 1067.5,566.8 1068.1,568.3 1068.7,568.9 1069.3,570.5 1069.9,566.9 1070.6,569.2 1071.2,568.5 1071.8,569.4 1072.4,566.9 1073,568 1073.6,564.7 1074.2,567.1 1074.8,566.8 1075.4,566.9 1076.1,568.1 1076.7,569.1 1077.3,566.3 1077.9,568.8 1078.5,566.9 1079.1,566.5 1079.7,565.3 1080.3,564.8 1080.9,564.9 1081.5,566.2 1082.1,566.5 1082.7,564.2 1083.3,564 1083.9,565.1 1084.6,567.4 1085.2,565.5 1085.8,566.4 1086.4,564.8 1087,564.7 1087.6,565.7 1088.2,564 1088.8,564.5 1089.4,564.1 1090,565.1 1090.6,565.3 1091.2,562.8 1091.8,565.3 1092.4,561.5 1093,565.1 1093.6,564.6 1094.3,561.5 1094.4,582.2 1095,581.8 1095.6,582.4 1096.2,584 1096.8,583.8 1097.4,583.6 1098.1,586.1 1098.7,584.8 1099.3,579.7 1099.9,579.3 1100.5,575.4 1101.1,573.9 1101.7,573.6 1102.3,576.5 1102.9,578.5 1103.5,579.4 1104.1,580.1 1104.7,579.8 1105.3,582.3 1106,584.8 1106.6,584.6 1107.2,588.1 1107.8,586.9 1108.5,587.3 1109.1,585.8 1109.7,585 1110.3,586.3 1110.9,589.2 1111.5,588.7 1112.1,588.6 1112.7,590.3 1113.3,586.5 1114,588.4 1114.6,586.2 1115.2,586.3 1115.9,584.9 1116.5,585 1117.1,586.4 1117.7,587.1 1118.3,579.4 1118.9,574.5 1119.5,570.5 1120.1,568.7 1120.7,568.2 1121.3,568 1121.9,567.1 1122.5,568.5 1123.1,566.5 1123.7,568.4 1124.3,565.4 1125,566.9 1125.6,567.5 1126.2,566.7 1126.8,564.7 1127.4,565.6 1128,566.4 1128.6,567.1 1129.2,566 1129.8,565.3 1130.5,564.4 1131.1,563.5 1131.7,564.4 1132.3,564.6 1132.9,564.7 1133.5,565.7 1134.1,563 1134.7,564.2 1135.3,564.4 1136,564.6 1136.6,565.1 1137.2,564 1137.8,566.4 1138.4,566.6 1139,563.5 1139.6,564.2 1140.2,564.4 1140.8,565.4 1141.5,564 1142.1,564.4 1142.7,565.5 1143.3,567.6 1143.9,565.3 1144.5,566.9 1145.1,564.4 1145.7,566.4 1146.3,564.2 1147,563.3 1147.6,564.6 1148.2,562.9 1148.8,564.9 1149.4,565.5 1150,565.4 1150.6,565.5 1151.2,566.9 1151.8,567.1 1152.5,567.1 1153.1,564.5 1153.7,567.8 1154.3,566.9 1154.9,564.9 1155.5,565.6 1156.1,567.4 1156.7,567.5 1157.3,565.9 1158,566.4 1158.6,566.6 1159.2,567.3 1159.8,567.7 1160.4,566.3 1161,567 1161.6,567.8 1162.2,567 1162.8,566.3 1163.5,568.6 1164.1,566 1164.7,566.5 1165.2,592.5 1165.8,568.3 1166.4,563.9 1167.1,565.1 1167.7,565.1 1168.3,565.3 1169,565.4 1169.6,564.9 1170.2,565.9 1170.7,564.2 1171.3,565.8 1171.9,566.2 1172.5,568.5 1173.1,565.7 1173.7,565.8 1174.3,566.1 1174.9,566.3 1175.5,564.3 1176.1,567 1176.6,565.8 1177.2,565.9 1177.8,565.5 1178.4,566.2 1179,563.9 1179.6,563.2 1180.2,563.5 1180.8,567.2 1181.4,566.5 1182,566.9 1182.6,566.9 1183.1,566.4 1183.7,567.1 1184.3,566.7 1184.9,567.6 1185.5,565.1 1186.1,565.6 1186.7,567.7 1187.3,564.3 1187.9,567.1 1188.5,565.6 1189.1,565.7 1189.7,566.6 1190.3,565.1 1190.9,565.9 1191.5,564.2 1192,566.1 1192.6,564.2 1193.2,566.9 1193.8,566.5 1194.4,564.8 1195,565.5 1195.6,567.5 1196.2,567.6 1196.8,567.4 1197.4,565.8 1198,566.3 1198.6,568.6 1199.2,564.2 1199.8,568.4 1200.4,565.3 1201,566.8 1201.6,565.6 1202.2,566 1202.8,565.1 1203.4,566.5 1204,565.8 1204.6,564.8 1205.2,565.3 1205.8,563.3 1206.4,563.9 1207,566 1207.6,565.3 1208.1,565.4 1208.7,567.1 1209.3,563.3 1209.9,565.2 1210.5,567.5 1211.1,564.9 1211.7,564.9 1212.3,565.5 1212.9,565.5 1213.5,566.7 1214.1,565.4 1214.7,563.9 1215.3,564.1 1215.9,565.4 1216.5,564.2 1217.1,564.4 1217.7,564 1218.3,563.7 1218.9,564.3 1219.5,563.4 1220,563.9 1220.6,566.3 1221.2,565.8 1221.8,566.3 1222.4,565.4 1223,565.1 1223.6,565.9 1224.2,566.5 1224.8,566.1 1225.4,565.2 1226,566.1 1226.6,565.2 1227.2,565.9 1227.8,564.4 1228.4,565.6 1229,564.5 1229.6,564.2 1230.2,562.9 1230.8,564.4 1231.3,563.9 1231.9,566.3 1232.5,564.8 1233.1,564.1 1233.7,563.5 1234.3,565.4 1235.1,590.8 1235.2,554.1 1235.8,542.6 1236.4,544.9 1237,543.8 1237.5,544.3 1238.1,544.4 1238.7,543.9 1239.2,542.9 1239.9,545.5 1240.5,545.4 1241.1,544.6 1241.7,543.2 1242.3,543.4 1242.9,545.5 1243.5,541.8 1244.1,542.9 1244.7,544.1 1245.4,545.3 1246,544.3 1246.6,541.8 1247.2,544.1 1247.8,543.3 1248.4,545.1 1249,547.1 1248.4,548.6 1247.8,550.3 1247.2,552.2 1246.6,550.9 1246,554.5 1245.4,556.5 1246,560.8 1246.6,563.6 1247.2,566.4 1247.8,566.1 1248.4,565.9 1249,565.9 1249.6,566.3 1250.2,568 1250.9,567 1251.5,566.7 1252.1,565.4 1252.7,566.7 1253.3,568.2 1253.9,565.6 1254.5,565.7 1255.1,563.8 1255.7,565.4 1256.2,565.8 1256.8,564.8 1257.4,566.4 1258,565.7 1258.6,564.6 1259.2,563.6 1259.8,564.9 1260.4,565.7 1261,565.5 1261.6,565.8 1262.2,566.5 1262.8,564.3 1263.4,566.7 1263.9,565.1 1264.5,564.2 1265.1,566.2 1265.7,563.7 1266.3,565 1266.9,564.5 1267.5,565 1268.1,566.4 1268.7,565 1269.3,564.7 1269.9,565.1 1270.5,565.6 1271.1,565.8 1271.7,565 1272.2,564.1 1272.8,564.7 1273.4,564.4 1274,564.6 1274.6,564.3 1275.2,565.7 1275.8,565.8 1276.4,566.5 1277,564.7 1277.6,564.8 1278.2,565.6 1278.8,564.3 1279.4,564.4 1280,565.4 1280.6,564.7 1281.2,563.4 1281.8,562.3 1282.4,564 1283,566 1283.6,564.4 1284.2,567 1284.8,564.1 1285.4,566.1 1286,566.8 1286.6,566.1 1287.2,564.5 1287.7,564.8 1288.3,565.1 1288.9,564.6 1289.5,566.3 1290.1,566.1 1290.7,567.1 1291.3,568.7 1291.9,568.8 1292.5,566.9 1293.1,564.7 1293.7,565.4 1294.3,565.9 1294.9,566.7 1295.5,566.8 1296.1,564.2 1296.7,564.4 1297.3,564.7 1297.9,565.8 1298.6,566.7 1299.2,565.6 1299.8,565.1 1300.4,565.8 1301,565.6 1301.7,565.3 1302.3,562.6 1302.9,564.3 1303.5,565.5 1304.1,566.2 1304.8,566 1305.4,564.6 1306,640.4 1306.1,556.6 1306.7,571.4 1307.3,570.8 1307.9,569.6 1308.4,569.2 1309,569.3 1309.6,570.3 1310.2,571.4 1310.8,571.4 1311.4,572.6 1312,571.7 1312.6,570.3 1313.2,568.1 1313.8,570.3 1314.4,569.3 1315,567.7 1315.6,568 1316.2,565.8 1316.9,565.7 1317.5,564.9 1318.1,568.1 1318.7,569.5 1319.3,566.5 1319.9,568.1 1320.5,566.6 1321.1,564.9 1321.8,566.8 1322.4,568.2 1323,567.1 1323.6,569.1 1324.2,571.1 1324.8,571.6 1325.4,572 1326,572.9 1326.6,575.1 1327.3,576.3 1327.9,576.4 1328.5,578.2 1329.1,577.3 1329.7,577.3 1330.3,578.3 1330.9,578.5 1331.5,578.4 1332.1,581.7 1332.8,581.4 1333.4,582.7 1334,582.2 1334.6,581.5 1335.2,582.2 1335.8,580.9 1336.4,581.9 1337,581 1337.6,580.1 1338.3,580.6 1338.9,579.7 1339.5,582.2 1340.1,581.5 1340.7,582.2 1341.3,582 1341.9,579.9 1342.5,580.7 1343.1,579.8 1343.8,578.2 1344.4,578.9 1345,581.3 1345.6,577.4 1346.2,578.7 1346.8,577.8 1347.4,577.1 1348,575.6 1348.6,576.2 1349.3,577.3 1349.9,576.8 1350.5,572.4 1351.1,572.8 1351.7,571.7 1352.3,572 1352.9,568.3 1353.5,569.4 1354.1,570.4 1354.8,570.6 1355.4,568.9 1356,568.9 1356.6,568.3 1357.2,567.7 1357.8,568.2 1358.4,568.4 1359,569.4 1359.6,569.9 1360.3,569.8 1360.9,569.1 1361.5,569.3 1362.1,569.3 1362.7,567.2 1363.3,567.5 1363.9,566.4 1364.5,568.6 1365.1,564.7 1365.8,568 1366.4,568.2 1367,566 1367.6,567.4 1368.2,568.4 1368.8,567.9 1369.4,568.6 1370,570.4 1370,583.5 1370.6,568 1371.2,567 1371.8,569.3 1372.4,568.3 1373,567.1 1373.6,566.6 1374.2,566.8 1374.8,567 1375.4,566.5 1376.1,582.2 1376.3,614 1376.4,552.9 1377,566.5 1377.6,565.9 1378.1,566.8 1378.7,567.5 1379.2,566.2 1379.8,566.6 1380.4,567.2 1381,567.6 1381.6,567.2 1382.3,570 1382.9,565.6 1383.5,566.5 1384.1,566.7 1384.7,565.8 1385.3,567.3 1385.9,567.1 1386.5,566 1387.1,565.5 1387.8,567.8 1388.4,566.5 1389,564.7 1389.6,565.9 1390.2,563.2 1390.8,565.3 1391.4,563.1 1392,562.8 1392.6,563.3 1393.3,564.8 1393.9,564 1394.5,565.8 1395.1,563.2 1395.7,563.4 1396.3,564.2 1396.9,564.8 1397.5,565.3 1398.1,565.9 1398.8,566 1399.4,568 1400,564.8 1400.6,567.3 1401.2,566.5 1401.8,567.2 1402.4,564.9 1403,565.8 1403.6,562.9 1404.3,564.7 1404.9,566.7 1405.5,565.3 1406.1,563.7 1406.7,563.9 1407.3,562.7 1407.9,565 1408.5,567.1 1409.1,565.7 1409.7,564.8 1410.3,566.1 1410.9,565.6 1411.5,567.3 1412.1,566.4 1412.7,565.8 1413.3,564.7 1413.9,564.8 1414.5,566.4 1415.1,566.6 1415.6,564.5 1416.2,568.2 1416.8,567 1417.4,567.4 1418,567.3 1418.6,567.6 1419.2,567.2 1419.8,568.1 1420.4,568.4 1421,566.9 1421.6,567.8 1422.2,569.1 1422.8,568.2 1423.4,567.4 1424,568 1424.6,569.1 1425.2,567 1425.8,567 1426.4,567 1427,566.4 1427.6,567.8 1428.2,567 1428.8,568.1 1429.4,567.7 1430,566.2 1430.6,568 1431.2,565.8 1431.8,565 1432.4,567.7 1433,567.5 1433.6,566.3 1434.2,565.9 1434.8,567.4 1435.4,568.4 1436,568.1 1436.7,568 1437.3,567.2 1437.9,565.2 1438.5,566.6 1439.1,566.9 1439.7,565.2 1440.3,567.3 1440.9,567.6 1441.5,565.6 1442.2,567.4 1442.8,567.1 1443.4,567.1 1444,566.8 1444.6,565.9 1445.2,569.7 1445.8,566.2 1446.4,566.8 1447,568.4 1447.8,522.4 1447.9,530.9 1448,576.1 1448.6,568.8 1449.2,568.5 1449.7,568.1 1450.3,568.9 1450.9,568.5 1451.5,568.7 1452,567.6 1452.6,567.2 1453.2,567.3 1453.8,566.9 1454.4,565.5 1455,565.4 1455.6,567.4 1456.3,565.8 1456.9,567.5 1457.5,566.5 1458.1,568.9 1458.8,569.6 1459.4,568 1460,566.6 1460,565.4 1460.6,565 1461.2,567.1 1461.8,565.3 1462.4,566 1463.1,567.2 1463.7,567.1 1464.3,565.8 1464.9,566.4 1465.5,564.5 1466.1,564.3 1466.7,566.2 1467.3,565 1467.9,563.2 1468.5,565.1 1469.1,564.1 1469.7,564.1 1470.3,564.9 1470.9,567.3 1471.5,565.7 1472.1,565.8 1472.6,567 1473.2,566 1473.8,567.3 1474.4,566.9 1475,568.6 1475.6,567.4 1476.2,567.6 1476.8,567.5 1477.4,569.1 1478,568.5 1478.5,568 1479.1,568.7 1479.7,567.9 1480.3,568 1480.9,567.7 1481.5,567.1 1482.1,569.4 1482.7,569.7 1483.3,568.3 1483.9,567.7 1484.4,569.2 1485,571.1 1485.6,568.8 1486.2,567.9 1486.8,569.2 1487.4,570.9 1488,569.8 1488.6,569.6 1489.2,570 1489.8,569.6 1490.4,567.9 1491,568.4 1491.6,568.3 1492.2,568.1 1492.8,569.4 1493.4,570.5 1494,570 1494.6,569.7 1495.2,569.8 1495.8,568.1 1496.4,570.1 1497,568.3 1497.6,569.6 1498.2,568 1498.8,570.9 1499.4,570.3 1499.9,570.3 1500.5,568.8 1501.1,569.9 1501.7,569.6 1502.3,569.2 1502.9,568.7 1503.5,568.3 1504.1,567.1 1504.7,568.5 1505.3,567.5 1505.9,569.8 1506.5,569.3 1507.1,571.7 1507.7,570.5 1508.3,568.4 1508.9,568 1509.5,570.5 1510.1,569.4 1510.7,569.7 1511.3,569 1511.9,571.2 1512.5,568.6 1513.1,569.1 1513.7,569.7 1514.3,566.9 1514.9,566.6 1515.5,569.5 1516.1,568.7 1516.7,568.3 1517.3,569.2 1517.9,482 1518.1,534.6 1518.2,544.4 1521.1,559.8 1521.7,571.3 1522.3,570.1 1522.9,570.3 1523.6,570.1 1524.2,569.5 1524.8,569.3 1525.4,570.1 1526,567.9 1526.6,569.9 1527.2,567.7 1527.8,570.1 1528.4,569.1 1529,568 1529.6,570.6 1530.2,569.5 1530.8,570.1 1531.4,572.4 1532,570.2 1532.6,569.7 1533.2,568.9 1533.8,570.1 1534.4,570.2 1535,569.7 1535.6,571.1 1536.2,571.8 1536.8,569.4 1537.4,569 1538,568.4 1538.6,570.4 1539.2,570.4 1539.8,568.1 1540.4,569.4 1541,569.7 1541.6,570.5 1542.2,567 1542.8,570.3 1543.4,570.3 1544,568.5 1544.6,568.9 1545.2,568.6 1545.8,568.2 1546.4,568.3 1547,571.2 1547.6,569 1548.2,571 1548.8,571.1 1549.4,569.2 1550,569.7 1550.6,570.3 1551.2,572.8 1551.8,571.1 1552.4,572.6 1553,570.3 1553.6,571.2 1554.2,569.5 1554.8,569.3 1555.4,569.7 1556,569.8 1556.6,571.9 1557.2,568.6 1557.8,573.2 1558.4,570.5 1559,570.1 1559.6,570.8 1560.2,570.3 1560.8,572.1 1561.4,571.5 1562,568.9 1562.6,572.9 1563.2,571.7 1563.8,572.2 1564.3,571.6 1564.9,570.2 1565.5,569.1 1566.1,569.4 1566.7,569.2 1567.3,569.4 1567.9,569.7 1568.5,569.6 1569.1,570.6 1569.7,569.4 1570.3,570.1 1570.9,569.7 1571.5,570.6 1572.1,569.6 1572.7,571.1 1573.3,569.7 1573.9,569.9 1574.5,571.8 1575.1,571.5 1575.7,572.5 1576.3,570.6 1576.9,572.6 1577.5,572.2 1578.1,572.9 1578.7,572.3 1579.3,570.4 1579.8,571.4 1580.4,570.5 1581,571.7 1581.6,571.1 1582.2,570.8 1582.9,569.7 1583.5,568.5 1584.1,568.8 1584.7,570.2 1585.4,569.2 1586,570.5 1586.6,567.6 1587.2,571.2 1587.8,569.6 1588.3,462.5 1590.8,484.5 1590.9,494.2 1591,506.5 1591.6,568.2 1592.2,567.3 1592.8,566.6 1593.4,565.7 1594,567.4 1594.6,568.2 1595.1,568.9 1595.7,568.5 1596.3,569.4 1596.9,567 1597.5,567.2 1598.1,570.4 1598.7,570.3 1599.2,567.6 1599.8,569.7 1600.4,570.5 1601,568.3 1601.6,568 1602.2,568.4 1603,519.9 1603.1,528.5 1606.7,535.8 1606.8,539.5 1606.9,548 1607.5,571.6 1608.1,569.6 1608.6,569.6 1609.1,570.2 1609.7,568.6 1610.3,569.6 1610.9,569.3 1611.5,570.6 1612.1,571.5 1612.7,570.2 1613.3,570.5 1613.9,569.8 1614.5,571.8 1615.1,570.9 1615.7,568.1 1616.3,570.7 1616.9,570.4 1617.5,571.6 1618,570.8 1618.6,574.1 1619.2,571.5 1619.8,572.3 1620.4,571.3 1621,569.4 1621.6,570.1 1622.2,569.3 1622.8,569.8 1623.4,571.7 1624,572.5 1624.6,569.7 1625.2,570.2 1625.8,568.5 1626.4,570.3 1627,571.3 1627.6,570 1628.2,569.9 1628.7,571.4 1629.3,572.4 1629.9,570.3 1630.5,569.9 1631.1,570.4 1631.7,570.9 1632.4,570.8 1633,569.6 1633.6,570.8 1634.2,571.2 1634.8,568.9 1635.4,569.4 1636,568.1 1636.6,568.8 1637.2,568.1 1637.9,569.6 1638.5,569.5 1639.1,570.5 1639.7,567.9 1640.3,567.6 1640.9,570.1 1641.5,570 1642.1,569.7 1642.7,570.1 1643.4,571 1644,571.9 1644.6,570.4 1645.2,571.4 1645.8,571.2 1646.4,570.9 1647,568.5 1647.6,570.6 1648.2,568.8 1648.9,569.2 1649.5,570.3 1650.1,568.3 1650.7,569.9 1651.3,567.2 1651.9,568.8 1652.5,569.8 1653.1,569.3 1653.7,567.7 1654.4,566.9 1655,568.7 1655.6,566.2 1656.2,568.2 1656.8,570.2 1657.4,567.8 1658,569.2 1658.6,569.5 1659.2,569.2 1659.8,568.6 1660.4,566.6 1661,548.8 1661.1,579.3 1661.2,628.7 1661.8,568.2 1662.4,570.8 1662.9,568.5 1663.5,568.2 1664.1,567.9 1664.7,566.6 1665.3,567.7 1665.9,567.5 1666.4,570.2 1667,567.2 1667.6,569 1668.2,567.7 1668.8,565.8 1669.4,568.6 1670,567.9 1670.6,566.3 1671.2,566.4 1671.8,567.5 1672.4,564.4 1672.9,568 1673.5,565.9 1674.1,565.9 1674.7,566.1 1675.3,564.2 1675.9,567.4 1676.5,566.5 1677.1,566.8 1677.7,566.9 1678.3,566 1678.8,566.7 1679.4,565.9 1680,566 1680.6,566 1681.2,565.5 1681.9,566 1682.5,563.5 1683.1,564.7 1683.7,565.5 1684.3,565.4 1684.9,564.5 1685.5,564.7 1686.1,565.2 1686.7,564.7 1687.4,563 1688,564.9 1688.6,564.8 1689.2,564.3 1689.8,566.4 1690.4,564.6 1691,563.4 1691.6,564.4 1692.2,564.8 1692.9,564.4 1693.5,562.9 1694.1,562.3 1694.7,564.5 1695.3,562.2 1695.9,563.9 1696.5,565.6 1697.1,566.3 1697.7,564.8 1698.4,565.9 1699,568.3 1699.6,565.5 1700.2,565.3 1700.8,565.4 1701.4,567.7 1702,567.9 1702.6,566.3 1703.2,566.4 1703.9,567.7 1704.5,567.1 1705.1,566.3 1705.7,565.8 1706.3,567.2 1706.9,565.3 1707.5,565 1708.1,566.9 1708.7,564.8 1709.4,566 1710,566.4 1710.6,564.9 1711.2,564.4 1711.8,565.6 1712.4,566.8 1713,567.2 1713.6,564.2 1714.2,567 1714.9,566.5 1715.5,564.2 1716.1,566.3 1716.7,566.2 1717.3,566.1 1717.9,565.6 1718.5,562.4 1719.1,564.4 1719.7,565.8 1720.4,565.4 1721,564.5 1721.6,563.7 1722.2,563.4 1722.8,565.2 1723.4,564.6 1724,564.2 1724.6,564 1725.2,562.5 1725.9,561.1 1726.5,562.7 1727.1,560.8 1727.7,560.8 1728.3,560.2 1728.9,367 1729,472.7 1729.2,478.4 1729.8,563.9 1730.5,566.6 1731.2,566.9 1731.8,566.1 1732.5,565.6 1733.1,566.1 1733.7,565.9 1734.3,566.3 1734.9,567.3 1735.6,568 1736.2,567 1736.8,567.9 1737.4,566.3 1738,568 1738.7,569.1 1739.3,566.3 1739.9,566.9 1740.5,568.2 1741.1,569.4 1741.8,570 1742.4,569.2 1743,567 1743.6,567.8 1744.2,566.5 1744.8,567.7 1745.4,566.5 1746,567.1 1746.6,570.2 1747.3,567.4 1747.9,568.5 1748.5,567.4 1749.1,568.1 1749.7,566.3 1750.2,567.2 1750.8,564.6 1751.4,566.1 1752,565.2 1752.6,564.8 1753.2,564.8 1753.8,567.5 1754.4,564.7 1755,566.4 1755.6,566 1756.1,567.4 1756.7,566.2 1757.3,563.6 1757.9,566.2 1758.5,565.8 1759.1,566.1 1759.7,566.5 1760.3,565.8 1760.9,567.7 1761.5,567.9 1762,565.9 1762.6,566.6 1763.2,568.3 1763.8,567.5 1764.4,567.6 1765,568 1765.6,569.2 1766.2,567.9 1766.8,568.3 1767.4,566.3 1768,567.9 1768.6,569.1 1769.3,567.5 1769.9,568.9 1770.5,568 1771.1,567.2 1771.7,567.5 1772.3,570.4 1772.9,567.8 1773.5,566.9 1774.1,569 1774.8,569.1 1775.4,566.5 1776,567 1776.6,568.6 1777.2,566.8 1777.8,566 1778.4,565.4 1779,565.5 1779.6,563.7 1780.2,568.4 1780.8,567.2 1781.4,567.9 1782,566 1782.6,566.9 1783.1,567 1783.7,565.6 1784.3,565.3 1784.9,566.6 1785.5,567.5 1786.1,567.4 1786.7,564.8 1787.3,566.3 1787.9,564.6 1788.5,564.3 1789.1,564.7 1789.7,564.9 1790.3,564.5 1790.8,563 1791.4,563.3 1792,562.8 1792.6,563.7 1793.2,564.8 1793.8,563.2 1794.4,564.3 1795,562.2 1795.6,561.8 1796.2,562.1 1796.8,562.4 1797.4,562.8 1798,563.2 1798.6,561.2 1799.3,611.6 1799.4,582.2 1800,557.9 1800.6,558 1801.1,558.9 1801.7,559.1 1802.3,556.8 1802.9,558.2 1803.5,557 1804.1,556 1804.7,557.8 1805.3,558.8 1805.9,556.8 1806.5,556.5 1807.1,555.3 1807.8,556.3 1808.4,558.3 1809,557.7 1809.6,558.4 1810.2,558.5 1810.8,562.8 1811.4,562.4 1812,563 1812.6,563.9 1813.3,563.6 1813.9,564.4 1814.5,566.6 1815.1,566.9 1815.7,564.4 1816.3,565 1816.9,564.4 1817.5,564.4 1818.1,566.2 1818.8,566.2 1819.4,566.2 1820,565.3 1820.6,567.2 1821.2,565.9 1821.8,565.9 1822.4,566.4 1823,563.5 1823.6,565.2 1824.3,565.8 1824.9,566 1825.5,563.9 1826.1,563.5 1826.7,564.8 1827.3,566.1 1827.9,565.1 1828.5,563.8 1829.1,566.2 1829.8,564.2 1830.4,565.9 1831,568.1 1831.6,563.9 1832.2,565.5 1832.8,564.1 1833.4,564.6 1834,562 1834.6,563.3 1835.3,564.2 1835.9,565.5 1836.5,565.5 1837.1,563.6 1837.7,562 1838.3,564.3 1838.9,565.6 1839.5,562.8 1840.1,564.9 1840.8,564.1 1841.4,565.1 1842,565.1 1842.6,565.6 1843.2,563.9 1843.8,565.6 1844.4,563.9 1845,563.2 1845.6,563.5 1846.3,562.4 1846.9,563.3 1847.5,564 1848.1,565.7 1848.7,563.2 1849.3,556 1849.9,548.7 1850.5,544.2 1851.2,544.9 1851.8,544.7 1852.4,541.4 1853,543.4 1853.6,542.2 1854.2,541.8 1854.8,542.7 1855.4,543.5 1856,541.4 1856.7,540.7 1857.3,542.4 1857.9,543 1858.5,542.8 1859.1,540.8 1859.7,542.3 1860.3,545.2 1860.9,543.2 1860.9,572.5 1861.6,572.3 1862.3,569.9 1862.9,570.6 1863.6,568"/>
</g>
<g stroke="#000" stroke-width="3.7" fill="none">
<line x1="234.1" x2="250.5" y1="427.0" y2="427.0"/>
<line x1="234.1" x2="250.5" y1="495.9" y2="495.9"/>
<line x1="234.1" x2="250.5" y1="564.9" y2="564.9"/>
<line x1="234.1" x2="250.5" y1="633.8" y2="633.8"/>
<line x1="234.1" x2="250.5" y1="702.7" y2="702.7"/>
<rect x="250.5" y="427.0" width="1613.2" height="275.7" stroke-linejoin="miter"/>
</g>
<g font-size="47.7" text-anchor="end" fill="#000">
<text x="215.3" y="445.1">0.30</text>
<text x="215.3" y="514.1">0.15</text>
<text x="215.3" y="583.0">0.00</text>
<text x="215.3" y="651.9">−0.15</text>
<text x="215.3" y="720.8">−0.30</text>
</g>
<text font-size="38.6" text-anchor="middle" transform="translate(44.3,570.6) rotate(-90)">East[m]</text>
<g stroke="#b0b0b0" stroke-width="3.7" fill="none">
<line x1="250.5" x2="1863.7" y1="827.0" y2="827.0"/>
<line x1="250.5" x2="1863.7" y1="895.8" y2="895.8"/>
<line x1="250.5" x2="1863.7" y1="964.5" y2="964.5"/>
<line x1="318.6" x2="318.6" y1="758.3" y2="1033.3"/>
<line x1="459.6" x2="459.6" y1="758.3" y2="1033.3"/>
<line x1="600.6" x2="600.6" y1="758.3" y2="1033.3"/>
<line x1="741.5" x2="741.5" y1="758.3" y2="1033.3"/>
<line x1="882.5" x2="882.5" y1="758.3" y2="1033.3"/>
<line x1="1023.5" x2="1023.5" y1="758.3" y2="1033.3"/>
<line x1="1164.5" x2="1164.5" y1="758.3" y2="1033.3"/>
<line x1="1305.5" x2="1305.5" y1="758.3" y2="1033.3"/>
<line x1="1446.4" x2="1446.4" y1="758.3" y2="1033.3"/>
<line x1="1587.4" x2="1587.4" y1="758.3" y2="1033.3"/>
<line x1="1728.4" x2="1728.4" y1="758.3" y2="1033.3"/>
</g>
<g clip-path="url(#c2)" fill="none" stroke-width="4.6" stroke-linejoin="round">
<polyline stroke="#ff0000" marker-start="url(#mr)" marker-mid="url(#mr)" marker-end="url(#mr)" points="254.7,985.6 254.8,967.3 254.9,917.1 255,892.7 255.2,933.2 255.2,881.4 255.8,875.1 256.4,872.8 257.1,868.3 257.7,865.8 258.3,855.8 258.9,861.3 259.6,850.3 260.2,850.2 260.8,841.3 261.4,843 262,837 262.6,836.2 263.2,834.2 263.8,829.3 264.4,831.1 265.1,827 265.7,827.7 266.3,829.7 266.9,830.2 267.5,831.5 268.1,831.4 268.7,828.6 269.3,832.7 269.9,834.6 270.6,837.2 271.2,839.4 271.8,847.3 272.4,845.8 273,843.2 273.6,840.1 274.2,845.2 274.8,845.4 275.4,846.5 276.1,847 276.7,845.2 277.3,846.9 277.9,847.6 278.5,846.1 279.1,844.6 279.7,849.3 280.3,847.8 280.9,850.6 281.6,848.4 282.2,850.9 282.8,852.4 283.4,851.1 284,850.7 284.6,854 285.2,856 285.8,854.4 286.4,853.4 287.1,854.6 287.7,858.9 288.3,860.6 288.9,863.2 289.5,863.3 290.1,868.4 290.7,864.9 291.3,863.8 291.9,862.1 292.6,870.8 293.2,872.6 293.8,871.2 294.4,870.8 295,872.1 295.6,870.1 296.2,872.6 296.8,875.1 297.5,878.2 298.1,875.2 298.7,875.7 299.3,875.6 299.9,881.6 300.5,881.2 301.1,879.7 301.7,881.4 302.3,884.8 303,885.1 303.6,882.7 304.2,884 304.8,889 305.4,888.3 306,888.1 306.6,892 307.2,893.9 307.8,892.9 308.5,892.2 309.1,893.6 309.7,895.5 310.3,897.3 310.9,898.1 311.5,897.5 312.1,898.4 312.7,901.1 313.3,899.8 313.9,898.4 314.5,900.8 315,895.2 315.6,895.8 316.1,900 316.7,899.1 317.3,895.7 317.9,897.9 318.7,799.3 318.8,955 319,956.3 319.1,953.8 325.6,897.6 331.7,913.5 334.1,907.4 334.1,899 334.7,893 335.3,895.2 336,894 336.6,883.5 337.2,880.2 337.8,879 338.4,881.3 339,881.2 339.6,877.9 340.2,888.4 340.8,884.7 341.5,889.9 342.1,885.4 342.7,889 343.3,888.5 343.9,891.4 344.5,893.7 345.1,897.2 345.7,898.1 346.3,900.7 347,897.2 347.6,901.1 348.2,893.4 348.8,892.9 349.4,891.2 350,888.7 350.6,887.8 351.2,884.9 351.8,883 352.5,882.1 353.1,889.6 353.7,884 354.3,885.9 354.9,885.2 355.5,892.5 356.1,890.2 356.7,891.5 357.3,893.5 358,893.8 358.6,894.4 359.2,893.3 359.8,890.7 360.4,891.3 361,891.9 361.6,891.4 362.2,891.3 362.8,892.4 363.5,895.8 364.1,888.8 364.7,890.7 365.3,892.2 365.9,891.1 366.5,890.8 367.1,891.2 367.7,890.7 368.3,892.2 369,891.7 369.6,887.1 370.2,893.1 370.8,889.4 371.4,889.6 372,888.7 372.6,892 373.2,890.4 373.8,889 374.4,890.2 375,893.2 375.6,889.1 376.2,894.7 376.8,890.8 377.4,892.5 378,891.5 378.6,891.3 379.2,891 379.8,891.4 380.4,889.8 381,893.1 381.6,892.5 382.2,891.7 382.8,890.7 383.4,890.4 384,887.4 384.7,888.3 385.3,887.8 385.9,889.7 386.5,889.1 387.1,890.2 387.7,892.3 388.3,890.1 388.9,894 389.6,776.6 386.7,981.9 386.8,1000.3 390.3,1093.3 396.5,1007.6 400.1,970.9 406.2,940.4 402.6,880.5 406.2,904.9 406.9,905.7 407.5,908 408.1,907.9 408.7,905.6 409.3,908.2 409.9,910.3 410.5,907.2 411.1,911.8 411.7,910.7 412.4,911.3 413,909.4 413.6,907.4 414.2,913.7 414.8,911.8 415.4,909 416,909.3 416.6,911.6 417.2,910.6 417.9,911.5 418.5,911 419.1,911.9 419.7,911.6 420.3,915.5 420.9,913.4 421.5,911.3 422.1,908.5 422.7,905.5 423.4,898.9 424,898.6 424.6,896.3 425.2,893.7 425.8,890.4 426.5,892.3 427.1,884.2 427.8,882.6 428.4,883.1 429,883 429.6,883.7 430.2,879.7 430.8,879.3 431.4,881.4 432,880.2 432.6,879.7 433.2,884.9 433.8,880.8 434.4,880.6 435,882.4 435.6,879.4 436.2,880.1 436.8,881.2 437.4,878.4 438,882.2 438.6,880 439.2,875.5 439.9,881 440.5,877.8 441.1,883.5 441.7,881.8 442.3,879.3 442.9,881.8 443.5,874.4 444.1,876 444.7,878.9 445.4,881.1 446,882.9 446.6,880.4 447.2,880.6 447.8,882.5 448.4,879.3 449,883.5 449.6,882.1 450.2,877.9 450.9,880.8 451.5,878.7 452.1,882.1 452.7,881 453.3,876.9 454,881.5 454.6,881 455.2,878.1 455.8,881.7 456.4,879.7 457.1,875.6 457.7,881.5 458.3,875.8 458.9,877.8 459.5,999 459.7,909.8 460.3,880.5 460.8,876.7 461.4,876.2 461.9,879.3 462.5,880.1 463.1,879.4 463.7,878 464.3,880.1 464.9,874.8 465.5,874.7 466.1,872.9 466.7,869.5 467.4,874.5 468,873.9 468.6,873 469.2,874.2 469.8,877.4 470.4,879.8 471,876.5 471.6,879.9 472.2,881.2 472.9,880.5 473.5,881.6 474.1,878.5 474.7,880.2 475.3,881.6 475.9,881.3 476.5,884.9 477.1,883.1 477.7,883.3 478.4,884 479,884.3 479.6,880.7 480.2,887.6 480.8,886.6 481.4,889 482,890.9 482.6,890.2 483.2,892.3 483.9,896 484.5,893.5 485.1,895.7 485.7,895.3 486.3,898.3 486.9,899 487.5,899.8 488.1,897.6 488.7,902.6 489.4,898.1 490,897.5 490.6,903.6 491.2,901.4 491.8,901.8 492.4,902.1 493,905.5 493.6,911.5 494.2,908.8 494.9,904.7 495.5,904.6 496.1,904.2 496.7,904.8 497.3,899.4 497.9,905.5 498.5,903.7 499.1,902.7 499.7,900.6 500.4,902.3 501,900.4 501.6,901.3 502.2,897.5 502.8,897.8 503.4,894.1 504,899.3 504.6,900.6 505.2,896.3 505.9,893.2 506.5,899.2 507.1,891.4 507.7,897.6 508.3,900.8 508.9,895.2 509.5,897.2 510.1,896.5 510.7,896.9 511.4,896.7 512,894.7 512.6,899.2 513.2,898.6 513.8,903.2 514.4,897.8 515,902.7 515.6,899.4 516.2,898.9 516.9,901.3 517.5,902.1 518.1,902.6 518.7,898.9 519.3,899.5 519.9,901.9 520.5,898.4 521.1,901.4 521.7,898.5 522.3,898.5 522.9,898.5 523.5,899.9 524.1,902.4 524.7,894.3 525.3,898.6 525.9,897.5 526.5,892.7 527.2,895 527.8,895.4 528.4,896.8 529,897.5 527.3,941.6 530.4,961.1 530.9,959.9 531.4,961 532.1,954.2 532.7,956.7 533.4,948.6 534,938.4 534.6,934 535.2,921.2 535.8,910.8 536.4,910.5 537,913.5 537.6,908.2 538.3,910.7 538.9,910.3 539.5,907 540.1,913.4 540.7,910.7 541.3,913.6 541.9,913.7 542.5,910.5 543.1,910 543.8,908.2 544.4,911.2 545,906 545.6,903.9 546.2,895 546.8,889.8 547.4,891.6 548,888.4 548.6,889.8 549.3,894.1 549.9,893.8 550.5,887.5 551.1,884.3 551.7,888.3 552.3,890.2 552.9,888.6 553.5,889 554.1,889.4 554.8,892.9 555.4,887.1 556,886.1 556.6,892.3 557.2,888.6 557.8,893.3 558.4,890 559,890.9 559.6,892.2 560.3,889.8 560.9,890.7 561.5,891.6 562.1,892.8 562.7,888.9 563.3,888.8 563.9,891.7 564.5,887.8 565.1,888.5 565.8,892.1 566.4,884.3 567,891.1 567.6,888 568.2,886.1 568.8,886.4 569.4,894.9 570,891.1 570.6,890.2 571.3,893.7 571.9,893.6 572.5,891.2 573.1,891.6 573.7,895.9 574.3,894.8 574.9,893.1 575.5,896.9 576.1,897 576.8,902.4 577.4,897.1 578,896.6 578.6,893.4 579.2,895 579.8,893.6 580.4,892.8 581,895.3 581.6,893.1 582.3,889.3 582.9,894.1 583.5,894.2 584.1,895.9 584.7,895.3 585.3,895.7 585.9,893.3 586.5,894.5 587.1,893.8 587.8,891.8 588.4,893.7 589,891.4 589.6,891.2 590.2,891.6 590.8,894.3 591.4,892.9 592,896.4 592.6,892.6 593.3,891.9 593.9,892.4 594.5,891.2 595.1,894.5 595.7,894.4 596.3,894.2 596.9,890.6 597.5,896.3 598.1,895.1 598.8,892.7 599.4,896.8 600,896.2 600.6,825.5 600.7,925.7 598.1,919.6 598.7,894.3 599.4,896.4 600,897.7 600.6,895.8 601.2,894 601.8,894.7 602.4,891.5 603,899 603.6,894.9 604.3,894.2 604.9,901.3 605.5,895.3 606.1,894.2 606.7,896.7 607.3,896.9 607.9,899.8 608.5,899.5 609.1,897.2 609.8,895 610.4,902.8 611,901.2 611.6,900.7 612.2,901.3 612.8,900.6 613.4,900.6 614,906.6 614.6,902.7 615.3,902.2 615.9,905.1 616.5,906.9 617.1,902.2 617.7,905.7 618.3,906.4 618.9,910.3 619.5,910.1 620.1,907.9 620.8,908 621.4,908.2 622,908.4 622.6,903.8 623.2,904.9 623.8,905.5 624.4,899.9 625,902.6 625.6,901.8 626.3,901.5 626.9,903.3 627.5,900.4 628.1,894.9 628.7,896.7 629.3,899.1 629.9,899.2 630.5,899.2 631.2,901.6 631.8,901.1 632.4,899.7 633,899.3 633.6,899.1 634.2,901.3 634.8,897.9 635.4,901.1 636,900 636.7,900.6 637.3,903.1 637.9,899.6 638.5,899.2 639.1,901.7 639.7,898.8 640.3,896.9 640.9,899.1 641.5,899 642.2,901.1 642.8,897.8 643.4,897.9 644,900 644.6,899.6 645.2,899.6 645.8,902.4 646.4,895.7 647,898.3 647.7,901.5 648.3,902.4 648.9,904.3 649.5,901.3 650.1,902.9 650.7,901.7 651.3,901.8 651.9,902.9 652.6,899.2 653.2,901.4 653.8,902.7 654.4,904.3 655,901.6 655.7,902.8 656.3,901.4 656.9,905.4 657.5,904.6 658.1,909.1 658.8,904 659.4,904.3 660,905.3 659.4,904.8 658.8,906.1 658.2,908.1 657.6,905.3 657,906.8 656.4,902.7 655.8,904.5 655.1,905.3 654.5,905.5 653.9,904.2 653.3,904.6 652.7,903.3 652.1,904.7 651.5,904.7 650.9,903.9 650.3,905.3 649.7,905.7 649.1,906.9 648.5,905.1 647.9,904.3 647.3,901.5 646.7,898.8 646.1,906.3 645.5,904.4 644.8,902.6 644.2,902.2 643.6,903.3 643,900 642.4,904.7 641.8,903.6 641.2,902.4 640.6,900.9 640,902.4 640.6,900.8 641.2,901.4 641.8,901.7 642.4,902.8 643.1,900 643.7,901.9 644.3,902.7 644.9,901.9 645.5,904 646.1,906.4 646.7,898.4 647.3,900.9 647.9,903.8 648.6,905.6 649.2,907.1 649.8,903.2 650.4,904.7 651,904.4 651.6,902.9 652.2,901.8 652.8,902.7 653.4,904.4 654.1,906.1 654.7,904.7 655.3,903.1 655.9,901.3 656.5,904.3 657.1,904.1 657.7,906.3 658.3,902.4 658.9,902.7 659.6,903.1 660.2,901.2 660.8,901.7 661.4,901 662,904.3 662.6,900.9 663.2,902.7 663.8,902.7 664.4,905.1 665.1,901 665.7,903.2 666.3,903.7 666.9,901.2 667.5,904.8 668.1,902.5 668.7,900.9 669.3,896.3 669.9,902.8 670.5,901.8 671.1,902.5 671.8,936.7 672.4,901 673,897.7 673.6,901.5 674.2,898.7 674.8,896.8 675.4,898.5 676.1,899.9 676.7,899.7 677.3,901.3 677.9,901.7 678.5,903.7 679.1,899.7 679.7,901.4 680.3,901.8 680.9,905 681.6,905.7 682.2,903.6 682.8,903.8 683.4,907.7 684,904.6 684.6,911.2 685.2,903.3 685.8,903.9 686.4,905.5 687.1,906.7 687.7,912.2 688.3,907.5 688.9,910.2 689.5,912.3 690.1,906.8 690.7,909.3 691.3,913.4 691.9,908.4 692.6,911.5 693.2,913.1 693.8,913.5 694.4,915.3 695,916.5 695.6,914.7 696.2,913.7 696.8,916.9 697.5,917.9 698.1,918.5 698.7,915.7 699.3,916.6 699.9,919.9 700.5,912.9 701.1,913.7 701.7,914.3 702.3,908.6 703,909.5 703.6,911.5 704.2,910.5 704.8,913.5 705.4,907 706,908.3 706.6,908.8 707.2,910.3 707.8,905 708.5,908.1 709.1,906.8 709.7,902.4 710.3,904.8 710.9,902.7 711.5,900 712.1,900.2 712.7,896.7 713.3,900.7 714,899.5 714.6,901.4 715.2,901.1 715.8,897.9 716.4,902.4 717,902.7 717.6,902.6 718.2,903.1 718.8,901.9 719.5,903.5 720.1,902.2 720.7,904.9 721.3,901.7 721.9,906 722.5,904.2 723.1,906 723.7,908.1 724.3,904.8 725,902.7 725.6,908.4 726.2,907.6 726.8,907.9 727.4,906.4 728,900.2 728.6,904.5 729.2,905.5 729.8,903.2 730.5,906.2 731.1,899.1 731.7,907 732.3,901.2 732.9,906.9 733.5,905.4 734.1,901.3 734.7,906.2 735.3,904.2 736,909.6 736.6,904.8 737.2,903.4 737.8,903.9 738.4,904.9 739,907.5 739.6,904.5 740.2,903.8 739,937.9 746.3,1093.3 751.2,1093.3 746.3,1026.3 747,998.5 747.6,1022.4 748.2,1009.7 748.8,1010.9 749.4,1014.7 750,1000.3 750.6,1031 751.2,1004.3 751.8,1015.4 752.5,1014.1 753.1,1008.2 753.7,1027.9 754.3,1022.8 754.9,997.5 755,956.3 755.1,946.5 747.6,895.4 748.2,877 748.8,887.4 749.4,883.1 750,885.3 750.6,869.3 751.2,891.8 751.8,895.6 752.5,884.7 753.1,866.8 753.7,873.3 754.3,893.1 754.9,878.2 755.5,895.5 756.1,893.8 756.7,882 757.3,869.9 758,874.8 758.6,887.4 759.2,877.2 759.8,881.7 759.9,812 760.5,810.5 761.1,811.6 761.7,813 762.2,814.9 762.8,813.3 763.5,818 764.1,815.6 764.7,817.2 765.3,819 765.9,818.7 766.5,820.1 767.1,823 767.7,824.2 768.3,823.3 769,831.7 769.6,833.9 770.2,843.5 770.8,853.2 771.4,860.4 772,868.7 772.6,871.9 773.2,871.9 773.8,868.2 774.5,869.4 775.1,872.5 775.7,869.7 776.3,876.1 776.9,878 777.5,872.2 778.1,874.7 778.7,878.9 779.3,874.9 780,874.3 780.6,874.5 781.2,875.1 781.8,877.8 782.4,874.5 783,875 783.6,875 784.2,876.3 784.8,875.3 785.5,878.4 786.1,878 786.7,880.1 787.3,876.8 787.9,877.5 788.5,878.9 789.1,878 789.7,879.9 790.3,877.2 791,881.5 791.6,881.6 792.2,881.3 792.8,883.7 793.4,876 794,884.9 794.6,884 795.2,883.4 795.8,887.3 796.5,885.7 797.1,886 797.7,886.3 798.3,891.3 798.9,890.1 798.3,894.6 797.7,893.7 797.1,897.6 796.5,902.7 797.1,901.6 797.7,898.2 798.3,900.5 798.9,897.6 799.5,896.8 800.1,898.7 800.7,901.7 801.3,898.6 802,897.6 802.6,898.6 803.2,896 803.8,897.7 804.4,897.3 805,894.6 805.6,895.8 806.2,896.2 806.9,896.6 807.5,892.7 808.1,893.5 808.7,897.2 809.3,894.4 809.9,900.9 810.5,900.6 811.1,896.7 811.7,897.7 812.4,698.3 812.5,798.6 812.6,856 816,1093.3 816.5,981.1 817.1,967.5 817.7,1014.6 818.4,1005.7 819,1006.3 819.6,980.8 820.2,1022.6 820.9,973.5 821.5,1015.1 822.1,967.9 822.7,1006.3 823.3,1013.1 824,982 824.6,975.7 825.2,889.1 825.8,890.6 826.4,888.4 827,886.3 827.6,892.4 828.2,888.4 828.9,888.4 829.5,889.4 830.1,889 830.7,888.2 831.3,891.4 831.9,889.6 832.5,886.7 833.1,888.1 833.7,890.7 834.4,890 835,891.5 835.6,888.7 836.2,893.1 836.8,890.8 837.4,891.3 838,889.7 838.6,891 839.2,890.5 839.9,891.8 840.5,892.4 841.1,892.5 841.7,892.2 842.3,896.2 842.9,893 843.5,900.8 844.1,896.1 844.7,902.8 845.4,898.2 846,899.2 846.6,1093.3 846.7,1093.3 846.8,1007.6 846.9,946.5 847.5,922.9 848.1,920.3 848.6,919.8 849.2,922 849.7,924.4 850.2,921.8 850.9,922.6 851.5,921.6 852.1,922.2 852.7,922.3 853.3,925.4 853.9,927.6 854.5,927.5 855.1,927.6 855.7,927.5 856.4,930.2 857,931.2 857.6,930.3 858.2,931.4 858.8,935.4 859.4,933 860,930 860.6,933.5 861.2,933.3 861.9,930.8 862.5,930.7 863.1,933.6 863.7,931.8 864.3,932 864.9,926.3 865.5,935.3 866.1,927.8 866.7,930.8 867.4,924.3 868,925.7 868.6,919.9 869.2,920.5 869.8,919.9 870.4,912.9 871,918.7 871.6,915.9 872.2,911.2 872.9,909.5 873.5,905.4 874.1,905.7 874.7,907.2 875.3,901.7 875.9,900.3 876.5,899.7 877.1,895.1 877.7,893.9 878.4,888.1 879,885.4 879.6,882 880.2,880.9 880.8,878.7 884.5,873.1 894.2,980.7 894.4,956.3 894.5,1014.9 894.2,901.4 894.9,903.1 895.5,893.6 896.1,896.6 896.7,902 897.3,896.8 897.9,898 898.5,900.7 899.1,898.3 899.7,898.4 900.4,897 901,895.7 901.6,898.2 902.2,896 902.8,896 903.4,896.4 904,892.7 904.6,891.2 905.2,892.9 905.9,889 906.5,891.9 907.1,889.9 907.7,892.9 908.3,888.3 908.9,887.7 909.5,886.6 910.1,885.6 910.7,882.5 911.4,887.1 912,887.4 912.6,886.8 913.2,884.2 913.8,883.8 914.4,887 915,891.6 915.6,892.2 916.2,889.6 916.9,892.7 917.5,891.8 918.1,893.5 918.7,893.7 919.3,896.5 919.9,893.3 920.5,901.4 921.1,895.6 921.8,899.3 922.4,897 923,899 923.6,894.3 924.2,896 924.8,897 925.4,896.3 926,895.4 926.6,900.2 927.3,898.3 927.9,895 928.5,899.1 929.1,899.1 929.7,899 930.3,894.9 930.9,902 931.5,900.6 932.1,901.8 932.8,901 933.4,900.1 934,896.9 934.6,897 935.2,897.8 935.8,895 936.4,899.1 937,896.6 937.6,896.6 938.3,892.8 938.9,895.3 939.5,898.4 940.1,896.9 940.7,898.6 941.3,897.9 941.9,900.8 942.5,895.4 943.1,891.7 943.8,893.5 944.4,897.7 945,893.1 945.6,898.1 946.2,895.6 946.8,896.4 947.4,894 948,894.1 948.6,892.6 949.3,896.9 949.9,897.3 950.5,896 951.1,894.4 951.7,898.3 952.3,898 952.9,895.3 953.7,990.5 953.8,1029.6 953.9,1093.3 957.8,856 957.9,863.4 958,865.8 958.6,894.4 959.2,896.6 959.8,892.3 960.4,894 961,894.2 961.6,896.1 962.2,895.2 962.8,891.9 963.4,899.3 964,896.5 964.6,893 965.2,894.4 965.8,892.3 966.4,895.3 967,895.5 967.6,897.5 968.2,893.3 968.8,892.4 969.4,893.2 970,894 970.6,896.3 971.3,899 971.9,901.5 972.5,905.8 973.1,900.8 973.7,898.9 974.3,902.4 974.9,902.6 975.5,898 976.1,897.7 976.8,904 977.4,901.7 978,899.8 978.6,896.4 979.2,894.7 979.8,897.1 980.4,896.2 981,898.4 981.6,898.9 982.3,894.2 982.9,896.7 983.5,889.9 984.1,892.8 984.7,890.8 985.3,897.1 985.9,888.4 986.5,891.2 987.1,890.9 987.8,888.8 988.4,890.5 989,887.5 989.6,888 990.2,887.1 990.8,887.8 991.4,891.4 992,888 992.6,890.1 993.3,886.7 993.9,885.9 994.5,884.6 995.1,889.8 995.7,888 996.3,884.9 996.9,889.9 997.5,888.8 998.1,890.4 998.8,891.8 999.4,888.4 1000,887.5 1000.6,889.5 1001.2,889.8 1001.8,885.6 1002.4,885.5 1003,884 1003.6,884.9 1004.3,886.4 1004.9,885.1 1005.5,886.3 1006.1,882.4 1006.7,886.2 1007.3,889.9 1007.9,887 1008.5,889.1 1009.1,887.1 1009.8,888.7 1010.4,891.9 1011,892.7 1011.6,894.4 1012.2,890.6 1012.8,889.4 1013.4,895 1014,895.3 1014.6,890.1 1015.3,895.3 1015.9,896 1016.5,893.1 1017.1,897.6 1017.7,894.8 1018.3,893.1 1018.9,896.9 1019.5,899.2 1020.1,893.5 1020.8,897.1 1021.4,899.6 1022,898.6 1022.6,901.4 1022.6,937.9 1022.7,1003.9 1023.3,939.9 1023.9,936.2 1024.5,941.9 1025.1,934.6 1025.7,941 1026.3,940.3 1026.9,930.3 1027.5,929.1 1028.1,925.9 1028.7,915.8 1029.3,918.5 1029.9,916.1 1030.5,920.2 1031.2,919.5 1031.8,919.4 1032.4,916.3 1033,917.9 1033.6,921.3 1034.2,920.1 1034.8,923.6 1035.4,922.9 1036,923.2 1036.6,922.1 1037.2,921.3 1037.7,923.1 1038.3,921.1 1038.8,921.9 1039.4,923.7 1040,920.1 1040,920.3 1040.6,919.9 1041.2,920.5 1041.8,916 1042.4,913.5 1043.1,914.1 1043.7,916 1044.3,910.5 1044.9,907 1045.5,906.7 1046.1,909.9 1046.7,905.8 1047.3,902.1 1047.9,902.4 1048.6,899.6 1049.2,901 1049.8,901.1 1050.4,901.5 1051,902.1 1051.6,901 1052.2,902.7 1052.8,898.4 1053.4,899.2 1054.1,900.4 1054.7,899.3 1055.3,898.9 1055.9,902.4 1056.5,902.7 1057.1,898.9 1057.7,898.6 1058.3,900.4 1058.9,900.3 1059.6,902.1 1060.2,901 1060.8,899 1061.4,898.9 1062,900.6 1062.6,898.4 1063.2,898.3 1063.8,897 1064.4,898 1065.1,896.1 1065.7,898.1 1066.3,892.2 1066.9,893 1067.5,894.9 1068.1,898 1068.7,895.7 1069.3,894.6 1069.9,895.2 1070.6,891 1071.2,888.6 1071.8,895.2 1072.4,892.9 1073,895.7 1073.6,890.7 1074.2,890.9 1074.8,891.6 1075.4,893.8 1076.1,889.9 1076.7,887.8 1077.3,892.2 1077.9,890.4 1078.5,892 1079.1,893 1079.7,888.3 1080.3,891.6 1080.9,892.6 1081.6,891.6 1082.2,891.4 1082.8,890.2 1083.4,889.4 1084,890 1084.6,890.3 1085.2,889.5 1085.8,888.9 1086.4,887.9 1087.1,888 1087.7,886.1 1088.3,886.1 1088.9,884 1089.5,890.2 1090.1,890.2 1090.7,885.8 1091.3,886.5 1091.9,881.9 1092.6,879 1093.2,884.3 1093.8,886.2 1094.3,1093.3 1094.4,944.5 1095,873.4 1095.6,876.7 1096.2,877.4 1096.8,874.3 1097.4,873.2 1098.1,871.8 1098.7,873 1099.3,874.3 1099.9,871.7 1100.5,873.5 1101.1,872.8 1101.7,875.4 1102.3,876.8 1103,877.8 1103.6,874.5 1104.2,877 1104.8,875.6 1105.4,878.2 1106,875.7 1106.6,879.3 1107.2,873.2 1107.8,879.1 1108.5,876.8 1109.1,883.4 1109.7,876.5 1110.3,879.1 1110.9,880.1 1111.5,882 1112.1,877.4 1112.7,884.8 1113.3,879 1114,882.9 1114.6,882.9 1115.2,882.8 1115.8,884.8 1116.4,881.6 1117,879.4 1117.6,883.5 1118.2,886.8 1118.8,887.9 1119.5,888.6 1120.1,891.2 1120.7,891.9 1121.3,898.6 1121.9,900.3 1122.5,900.1 1123.1,906.4 1123.7,904.9 1124.3,903.4 1125,905 1125.6,907 1126.2,908.7 1126.8,908.2 1127.4,906.2 1128,908.1 1128.6,906.8 1129.2,907.3 1129.8,907.8 1130.5,910.5 1131.1,911.4 1131.7,909.1 1132.3,909.4 1132.9,909.3 1133.5,912.1 1134.1,908.1 1134.7,907.9 1135.3,909.1 1136,910.6 1136.6,910 1137.2,910.1 1137.8,908.5 1138.4,911.7 1139,907.8 1139.6,908.2 1140.2,912.3 1140.8,911.1 1141.5,909.4 1142.1,906.1 1142.7,910.4 1143.3,908.9 1143.9,908 1144.5,908.4 1145.1,910.6 1145.7,910.6 1146.3,908.2 1147,911.3 1147.6,913.7 1148.2,912.5 1148.8,915 1149.4,911.4 1150,910.7 1150.6,908.5 1151.2,909.3 1151.8,910.9 1152.5,910.1 1153.1,909.2 1153.7,912 1154.3,912.4 1154.9,911.1 1155.5,912.1 1156.1,906.5 1156.7,912.1 1157.3,911.4 1158,912.5 1158.6,913.1 1159.2,911.1 1159.8,909 1160.4,906.7 1161,913 1161.6,911.1 1162.2,909.8 1162.8,911.9 1163.5,908.2 1162.2,931.8 1162.4,885.4 1163,886.7 1163.6,884.1 1164.2,886.7 1164.8,888.9 1165.4,887.1 1166,888.4 1166.6,888 1167.2,891.9 1167.8,892.3 1168.4,891.2 1169,888.5 1169.6,893.7 1170.2,896 1170.8,892.3 1171.4,887.2 1172,892.4 1172.6,893.6 1173.2,889.6 1173.8,891.9 1174.5,892.4 1175.1,894.4 1175.7,891.2 1176.3,892.8 1176.9,894.8 1177.5,892.3 1178.1,897.1 1178.7,897 1179.3,899.2 1180,892.7 1180.6,892.1 1181.2,895.9 1181.8,898.1 1182.4,893.1 1183,895.7 1183.6,889.7 1184.2,892.2 1184.8,891.5 1185.5,897.5 1186.1,895.7 1186.7,895.4 1187.3,898.7 1187.9,898.7 1188.5,900.9 1189.1,901.7 1189.7,902.6 1190.3,899.2 1191,898.4 1191.6,901.8 1192.2,903.5 1192.8,902.8 1193.4,902.2 1194,904.1 1194.6,906.3 1195.2,905.3 1195.8,901.6 1196.5,906.6 1197.1,910.6 1197.7,906.5 1198.3,904.3 1198.9,905.9 1199.5,902.6 1200.1,903.2 1200.7,901.9 1201.3,905.1 1202,903.3 1202.6,900 1203.2,904.3 1203.8,903.2 1204.4,903.9 1205,902.1 1205.6,903.7 1206.2,899.7 1206.9,898.1 1207.5,900.2 1208.1,901.2 1208.7,896 1209.3,897.3 1209.9,897.5 1210.5,898.5 1211.1,896.7 1211.7,899.5 1212.4,896 1213,898 1213.6,896.3 1214.2,903.2 1214.8,897.2 1215.4,899 1216,895.6 1216.6,900.6 1217.2,902.3 1217.9,899.7 1218.5,902.8 1219.1,899.6 1219.7,900.5 1220.3,899.1 1220.9,898.7 1221.5,899.6 1222.1,896.5 1222.7,896.5 1223.4,898.7 1224,899.6 1224.6,896.9 1225.2,897.1 1225.8,893.5 1226.4,893.3 1227,894.3 1227.6,895.2 1228.2,891.7 1228.9,893.1 1229.5,896.6 1230.1,892.5 1230.7,895.2 1231.3,889.6 1231.9,888.4 1232.5,889.4 1233.1,891.8 1233.7,888.7 1234.4,895.3 1241.7,1025.9 1241.8,1013.7 1241.9,951.4 1242,917.1 1242.2,816.9 1242.3,835.2 1242.9,892.6 1243.5,889.6 1244.1,891.6 1244.7,892.6 1245.3,896 1246,894.5 1246.6,895.5 1247.2,890.4 1247.8,889.9 1248.4,893.7 1249,883.7 1249.6,889.1 1250.2,884.1 1250.9,880.8 1251.5,885.3 1252.1,883 1252.7,876.6 1253.3,873 1253.9,877.6 1254.5,877.2 1255.1,876.2 1255.7,875.8 1256.4,878.2 1257,873.5 1257.6,874.2 1258.2,866.8 1258.8,868.9 1259.4,870.1 1260,875.1 1260.6,869.4 1261.2,870.7 1261.9,869.3 1262.5,867.6 1263.1,869.6 1263.7,874.3 1264.3,871.5 1264.9,871.7 1265.5,873 1266.1,875 1266.7,872.5 1267.4,870.7 1268,874.2 1268.6,877.4 1269.2,876.3 1269.8,877.3 1270.4,878.4 1271,877.8 1271.6,876.4 1272.2,880.2 1272.9,876.7 1273.5,877.9 1274.1,877.2 1274.7,877.5 1275.3,878.6 1275.9,873.1 1276.5,873.8 1277.1,878.1 1277.7,874.2 1278.4,876.4 1279,873.4 1279.6,878.1 1280.2,873.4 1280.8,877.2 1281.4,875.1 1282,876.2 1282.6,873.5 1283.2,871.3 1283.9,870.7 1284.5,876.2 1285.1,871.3 1285.7,875.5 1286.3,873.7 1286.9,875.3 1287.5,870.7 1288.1,868.6 1288.7,870.4 1289.4,868.5 1290,872 1290.6,869.5 1291.2,872.8 1291.8,870.8 1292.4,871.6 1293,872 1293.6,870.2 1294.2,870.2 1294.9,875.1 1295.5,875.7 1296.1,874.3 1296.7,875 1297.3,873.9 1297.9,880.5 1298.5,880.4 1299.1,882.4 1299.8,878.5 1300.4,883.7 1301,880.2 1301.6,882.6 1302.3,879.2 1302.9,880.1 1303.5,880.3 1304.1,879.9 1304.8,879.7 1304,946.5 1304.1,992.9 1304.7,927.2 1305.3,924.7 1305.9,926.4 1306.6,925.4 1307.2,922.3 1307.8,925.8 1308.4,932.1 1309,926.5 1309.6,928.5 1310.2,924.3 1310.8,927.1 1311.4,926.7 1312,932.8 1312.6,934.9 1313.2,936 1313.8,944.1 1314.4,949.6 1315,950.1 1315.6,955.9 1316.2,964.5 1316.9,959.6 1317.5,964.9 1318.1,969.5 1318.7,970.9 1319.3,969.9 1319.9,972.1 1320.5,977.2 1321.1,977.8 1321.8,975.5 1322.4,979.6 1323,981.1 1323.6,979.9 1324.2,983.5 1324.8,983.9 1325.4,986.5 1326,984.7 1326.6,984.5 1327.3,983.4 1327.9,989.6 1328.5,984.8 1329.1,983.5 1329.7,978.8 1330.3,984 1330.9,983.1 1331.5,981.2 1332.1,981.6 1332.8,976.4 1333.4,966.3 1334,960.2 1334.6,955.5 1335.2,941.3 1335.8,935.5 1336.4,931 1337,933.3 1337.6,932.6 1338.3,931.3 1338.9,929.7 1339.5,929.6 1340.1,931 1340.7,928.1 1341.3,925 1341.9,924.2 1342.5,925.1 1343.1,925.8 1343.8,928.2 1344.4,929 1345,919.2 1345.6,920 1346.2,921.5 1346.8,923 1347.4,922.3 1348,922 1348.6,920.3 1349.3,920.8 1349.9,918.6 1350.5,915.6 1351.1,915.4 1351.7,911.7 1352.3,909.6 1352.9,908.5 1353.5,908.2 1354.1,907.3 1354.8,904.2 1355.4,905.2 1356,904.2 1356.6,906.9 1357.2,903.7 1357.8,902.2 1358.4,897.9 1359,896.9 1359.6,899.6 1360.3,896.5 1360.9,899.5 1361.5,893.3 1362.1,892.3 1362.7,896.4 1363.3,895 1363.9,890.9 1364.5,890.3 1365.1,889.3 1365.8,887.9 1366.4,889.1 1367,886.1 1367.6,886.7 1368.2,876.2 1368.8,866.6 1369.4,865.2 1370,860.4 1370.6,855.6 1371.3,857.3 1371.8,857.6 1372.4,856.8 1373,857.1 1373.6,861 1374.2,861.5 1374.8,864.5 1375.4,863.1 1376,858.3 1376.7,864.3 1377.3,864 1377.9,865.7 1378.6,866.9 1379.2,864.3 1379.8,868.4 1380.4,867.5 1381,864.7 1381.6,863.9 1382.3,861.1 1382.9,865.5 1383.5,858.8 1384.1,862.5 1384.7,865.5 1385.3,864.2 1385.9,865.4 1386.5,864.4 1387.1,864.8 1387.8,865.3 1388.4,864.4 1389,866.5 1389.6,867.8 1390.2,868.4 1390.8,866.4 1391.4,866.6 1392,872.6 1392.6,870.2 1393.3,867.5 1393.9,870.7 1394.5,875.8 1395.1,873.4 1395.7,873.2 1396.3,872.7 1396.9,878.4 1397.5,874.2 1398.1,874.3 1398.8,876.3 1399.4,877.4 1400,884.1 1400.6,877.8 1401.2,878.9 1401.8,878.3 1402.4,877.6 1403,883.9 1403.6,882.4 1404.3,887.4 1404.9,886.2 1405.5,882.7 1406.1,885 1406.7,887.3 1407.3,884.9 1407.9,881.3 1408.5,886 1409.1,886.9 1409.8,886.5 1410.4,886.6 1411,891.1 1411.6,894.9 1412.2,892.5 1412.8,891 1413.4,889.1 1414,891.3 1414.6,891.4 1415.3,888.3 1415.9,893.7 1416.5,890.2 1417.1,891.3 1417.7,892.5 1418.3,898.3 1418.9,893.2 1419.5,892.5 1420.1,897 1420.8,892 1421.4,897.8 1422,896.3 1422.6,897.6 1423.2,894 1423.8,892.9 1424.4,893.4 1425,896.5 1425.6,893.6 1426.3,890 1426.9,889.9 1427.5,891.4 1428.1,887.6 1428.7,888.7 1429.3,887 1429.9,891.8 1430.5,886.3 1431.2,888.5 1431.8,891.4 1432.4,887.1 1433,891 1433.6,885.9 1434.2,889.8 1434.8,890.7 1435.4,890.4 1436,890 1436.7,889.7 1437.3,888.1 1437.9,885.9 1438.5,886.2 1439.1,885.8 1439.7,883.4 1440.3,886 1440.9,883.6 1441.5,885.5 1442.2,884 1442.8,882.6 1443.4,881.6 1444,881 1444.6,881.9 1445.2,882.7 1445.8,886.9 1446.4,881.6 1447,771.7 1447.2,912.2 1447.3,941.6 1447.9,874.4 1448.5,873.1 1449.1,874.2 1449.6,874.2 1450.2,876.8 1450.8,872.2 1451.4,873.3 1452,874.8 1452.6,873.3 1453.2,869.6 1453.8,876.5 1454.4,877.4 1455,878.1 1455.6,877.1 1456.3,879.2 1456.9,884.5 1457.5,883.9 1458.1,882.1 1458.8,885 1459.4,881.2 1460,881 1460,884.6 1460.6,887.7 1461.2,889.8 1461.8,885.6 1462.4,887.5 1463.1,889.9 1463.7,888.9 1464.3,890.4 1464.9,892 1465.5,890.5 1466.1,895.1 1466.7,892.3 1467.3,893.3 1467.9,895.3 1468.6,890.8 1469.2,894.6 1469.8,894 1470.4,897.7 1471,895 1471.6,896.1 1472.2,898.9 1472.8,893.8 1473.4,892.6 1474,892 1474.6,896.3 1475.2,895.5 1475.8,896.1 1476.4,894.8 1476.9,893.5 1477.5,897.6 1478.1,895.7 1478.7,894.1 1479.3,893.9 1479.9,895.3 1480.5,895.9 1481.1,897 1481.7,895.9 1482.3,896.6 1482.8,894.6 1483.4,896.1 1484,892 1484.6,893.6 1485.2,892.1 1485.8,888.4 1486.4,895.7 1487,895.5 1487.6,891.6 1488.2,895.5 1488.7,894.3 1489.3,894 1489.9,898.2 1490.5,891.9 1491.1,891.8 1491.7,893.8 1492.3,888.8 1492.9,897.6 1493.5,893.1 1494.1,896.3 1494.6,895.6 1495.2,893.8 1495.8,893.4 1496.4,896.2 1497,894 1497.6,893.6 1498.2,893.6 1498.8,896.4 1499.4,894.4 1500,889.5 1500.5,891.4 1501.1,896.6 1501.7,898.2 1502.3,891.5 1502.9,894.7 1503.5,897.6 1504.1,892.1 1504.7,896.1 1505.3,891.3 1505.9,890.5 1506.4,889.1 1507.1,896.9 1507.7,892.9 1508.3,894.9 1508.9,895.7 1509.5,895 1510.1,899.9 1510.7,896.1 1511.3,899.5 1511.9,894.9 1512.5,898.7 1513.1,899.4 1513.7,903.2 1514.3,900.8 1514.9,901 1515.5,903 1516.1,901.1 1516.7,899.9 1517.3,897.3 1517.9,898.5 1518.7,948.9 1518.8,922 1519.4,907.4 1520,907.5 1520.6,916.7 1521.2,910 1521.8,913.2 1522.4,912.4 1523,908.4 1523.6,915.3 1524.2,917 1524.8,915.7 1525.4,918.3 1526,922.2 1526.6,918.2 1527.2,923.2 1527.8,926.1 1528.5,927.8 1529.1,930.2 1529.7,932.2 1530.3,930.3 1530.9,929.9 1531.5,928.8 1532.1,932.2 1532.7,931.1 1533.3,932.3 1534,932.5 1534.6,930 1535.2,927.6 1535.8,927.7 1536.4,926.5 1537,930.3 1537.6,920.3 1538.2,921.1 1538.8,929.4 1539.5,920.3 1540.1,918.7 1540.7,919.5 1541.3,922 1541.9,919.5 1542.5,920.7 1543.1,914 1543.7,916.4 1544.3,916.6 1545,917.2 1545.6,916.3 1546.2,915.3 1546.8,913.2 1547.4,917.9 1548,910.8 1548.6,906.7 1549.2,908 1549.8,905.8 1550.5,907 1551.1,902.7 1551.7,900.8 1552.3,898.5 1552.9,891.9 1553.5,896.1 1554.1,892.9 1554.7,890.7 1555.3,891.6 1556,889.3 1556.6,889 1557.2,888.1 1557.8,884.5 1558.4,887.2 1559,886 1559.6,886.1 1560.2,879.9 1560.8,886.3 1561.5,885.3 1562.1,886.6 1562.7,887.6 1563.3,882.4 1563.9,883.7 1564.5,885.1 1565.1,885.1 1565.7,886.3 1566.3,889.1 1567,890.6 1567.6,886.7 1568.2,883.9 1568.8,886.2 1569.4,884.7 1570,883 1570.6,883.1 1571.2,880.8 1571.8,883.9 1572.5,880.8 1573.1,884 1573.7,880.7 1574.3,879.5 1574.9,882.6 1575.5,880.7 1576.1,876.7 1576.7,879.2 1577.3,880 1577.9,881.8 1578.5,876.9 1579.2,882.9 1579.8,883.2 1580.4,882.9 1581,881.7 1581.6,882.8 1582.2,886.9 1582.8,885.7 1583.4,884.4 1584,882.2 1584.6,886 1585.2,883.8 1595.7,871.9 1594.5,885.5 1595.1,890.7 1595.7,884.9 1596.3,885.3 1597,888.4 1597.6,886.6 1598.2,888.8 1598.9,887.3 1599.5,891.6 1600.1,888.2 1600.7,887.3 1601.2,888.4 1601.8,887.7 1602.4,887.6 1603,885.6 1603.6,887.9 1604.2,887 1604.8,888.4 1605.4,885.5 1606,886.6 1606.6,884.9 1607.2,889.9 1607.8,890.7 1608.4,888.7 1609,890.3 1609.6,889.1 1610.2,885.2 1610.9,885.7 1611.5,887 1612.1,889.4 1612.7,890.5 1613.3,893.4 1614,889.9 1614.6,894.8 1615.2,890 1615.8,893.7 1616.4,892.8 1617,890.3 1617.7,894.2 1618.3,893.5 1618.9,895.1 1619.5,893 1620.1,899.5 1620.7,896.8 1621.3,896.9 1622,899.8 1622.6,898.9 1623.2,898.5 1623.8,896.8 1624.4,896.2 1625,899.5 1625.6,898.8 1626.2,899 1626.9,890.5 1627.5,893.6 1628.1,895.1 1628.7,894.9 1629.3,892.2 1629.9,895.3 1630.5,897.8 1631.1,896.9 1631.7,897 1632.4,896.4 1633,896.7 1633.6,902 1634.2,895.3 1634.8,897.6 1635.4,898.7 1636,899.1 1636.6,899.6 1637.2,899.4 1637.9,900.9 1638.5,898.5 1639.1,899.7 1639.7,900.2 1640.3,903.2 1640.9,906.6 1641.5,901.3 1642.1,899.6 1642.7,899.2 1643.4,897.8 1644,897.9 1644.6,896.6 1645.2,897 1645.8,898.8 1646.4,897.9 1647,892.3 1647.6,892.4 1648.2,890.5 1648.9,891 1649.5,892.6 1650.1,891.6 1650.7,885.4 1651.3,888.2 1651.9,886.1 1652.6,890.7 1653.2,892.1 1653.8,886.9 1654.4,887.1 1655,891.8 1655.7,891.8 1656.3,889.2 1656.9,892.5 1657.5,890.6 1658,989.3 1660.5,922 1661.1,887.3 1661.7,894.6 1662.3,890 1662.9,895.8 1663.5,892 1664.1,892.4 1664.7,895 1665.4,891.6 1666,889.7 1666.6,889.7 1667.2,892.4 1667.8,892.1 1668.4,890.3 1669,889.6 1669.6,885.3 1670.2,889.3 1670.9,892.7 1671.5,885.1 1672.1,891.4 1672.7,887.8 1673.3,888.6 1673.9,887.7 1674.5,889.7 1675.1,892.6 1675.7,889.3 1676.4,889.8 1677,888.2 1677.6,889.1 1678.2,890.5 1678.8,893.2 1679.4,891 1680,890.7 1680.6,890.1 1681.2,890.2 1681.9,893.3 1682.5,888.7 1683.1,891.2 1683.7,888.7 1684.3,892.4 1684.9,890 1685.5,889.1 1686.1,888 1686.7,888.8 1687.4,888.9 1688,885.4 1688.6,884.5 1689.2,883.2 1689.8,882.9 1690.4,881.7 1691,885.8 1691.6,877.9 1692.2,878.6 1692.9,878 1693.5,883.1 1694.1,876.9 1694.7,873.5 1695.3,876.2 1695.9,880.5 1696.5,875.4 1697.1,877.8 1697.7,879.3 1698.4,879.2 1699,877.8 1699.6,879.5 1700.2,882.3 1700.8,880.3 1701.4,882.5 1702,877.3 1702.6,878.6 1703.2,880.8 1703.9,884.8 1704.5,883.6 1705.1,882.8 1705.7,884.9 1706.3,882.9 1706.9,884.4 1707.5,888.5 1708.1,884.3 1708.7,885.8 1709.4,887.4 1710,888.5 1710.6,887.1 1711.2,886.2 1711.8,885.5 1712.4,889 1713,887.9 1713.6,885.1 1714.2,886.8 1714.9,888.2 1715.5,887.6 1716.1,893 1716.7,891 1717.3,890.7 1717.9,895.2 1718.5,892.9 1719.1,896.6 1719.7,895 1720.4,898.7 1721,901.2 1721.6,897.7 1722.2,898.8 1722.8,896.9 1723.4,902.2 1724,904.7 1724.6,896.9 1725.2,898.5 1725.9,905.1 1726.5,904.5 1727.1,901.5 1727.7,903.2 1728.3,905.2 1728.9,903.8 1729.5,902.2 1730.1,905.5 1730.7,903.5 1731.4,900.8 1732,902.1 1732.6,908.8 1733.2,901.9 1733.8,903.9 1734.4,905 1735,906.6 1735.6,906.1 1736.2,904.3 1736.9,906.6 1737.5,910.7 1738.1,913.2 1738.7,918.1 1739.3,919.5 1739.9,923.2 1740.5,923.5 1741.1,927.7 1741.8,925.5 1742.4,927.2 1743,920.1 1743.6,921 1744.2,920.6 1744.8,918.9 1745.4,924.5 1746,919.3 1746.6,919.5 1747.3,917.7 1747.9,924.2 1748.5,920.4 1747.9,916.4 1747.3,907.4 1746.6,903.9 1746,898.9 1746.6,898.9 1747.3,897.2 1747.9,904.2 1748.5,901.7 1749.1,902.6 1749.7,904.7 1750.3,906.5 1750.9,902.3 1751.5,899.4 1752.1,902 1752.8,901.9 1753.4,900.9 1754,903.7 1754.6,899.5 1755.2,902.9 1755.8,900.3 1756.4,899.8 1757,896.9 1757.6,900.3 1758.3,898 1758.9,898.2 1759.5,898.1 1760.1,893.6 1760.7,897 1761.3,890.2 1761.9,894.1 1762.5,893.3 1763.1,896 1763.8,897.6 1764.4,895.9 1765,896.1 1765.6,895.6 1766.2,901.2 1766.8,897.9 1767.4,895.8 1768,896.9 1768.6,894 1769.3,894.8 1769.9,890.1 1770.5,890.4 1771.1,892.1 1771.7,886.3 1772.3,883.6 1772.9,887.7 1773.5,884 1774.1,879.8 1774.8,883.6 1775.4,883.7 1776,884.5 1776.6,880.1 1777.2,881.4 1777.8,880.5 1778.4,879.3 1779,879.4 1779.6,876.8 1780.3,878.7 1780.9,876.2 1781.5,876.8 1782.1,875.8 1782.7,876.8 1783.3,876.2 1783.9,875.4 1784.5,876.4 1785.1,872.7 1785.8,877.7 1786.4,872.5 1787,868.7 1787.6,871.1 1788.2,872.2 1788.8,875.3 1789.4,871 1790,875.4 1790.7,870.5 1791.3,875.9 1791.9,868.9 1792.5,868.4 1793.1,872 1793.8,869.3 1794.4,869.5 1795,871.5 1795.6,866.3 1796.2,869.6 1796.9,870.8 1797.5,867.8 1798.1,869 1798.6,944 1802.3,958.7 1794.9,917.1 1802.3,851.1 1804.7,853.6 1810.8,865.8 1811.4,897.5 1812,897.8 1812.6,897.7 1813.3,893.3 1813.9,893.8 1814.5,897.7 1815.1,898.6 1815.7,891.6 1816.3,899.6 1816.9,895.9 1817.5,895.2 1818.1,891.7 1818.8,893.2 1819.4,892.3 1820,891.4 1820.6,891.2 1821.2,888 1821.8,890.5 1822.4,892.2 1823,887.8 1823.6,888.8 1824.3,891.1 1824.9,891.1 1825.5,889.8 1826.1,892.8 1826.7,885.5 1827.3,891.5 1827.9,888 1828.5,888.4 1829.1,888.6 1829.8,891.3 1830.4,888.4 1831,892.7 1831.6,894.1 1832.2,894.8 1832.8,894.1 1833.4,895.7 1834,898.5 1834.6,894.4 1835.3,895.8 1835.9,899 1836.5,902.2 1837.1,900.8 1837.7,901.9 1838.3,899 1838.9,895.8 1839.5,898.6 1840.1,900.8 1840.8,898.1 1841.4,896.5 1842,898.1 1842.6,896.6 1843.2,894.7 1843.8,894.2 1844.4,895.1 1845,894.8 1845.6,896.6 1846.3,892.8 1846.9,891.1 1847.5,890.5 1848.1,890.4 1848.7,884.8 1849.3,885.5 1849.9,881.2 1850.5,884.9 1851.2,887.4 1851.8,881.9 1852.4,878.7 1853,882.2 1853.6,880.9 1854.2,878.3 1854.8,876.6 1855.4,871.2 1856,871.7 1856.7,875.3 1857.3,880.1 1857.9,883.4 1858.5,883.8 1859.1,888.6 1859.7,889.1 1860.3,891.4 1860.8,889.6 1861.4,888.6 1861.9,889.6 1862.5,889.8 1863.1,888.2 1863.6,891.3"/>
<polyline stroke="#008000" marker-start="url(#mg)" marker-mid="url(#mg)" marker-end="url(#mg)" points="254.7,986.8 254.8,975.8 254.9,952.6 255.5,935.6 256.1,933.4 256.1,879.6 256.7,877.4 257.3,871.9 257.9,869.3 258.5,860.1 259.1,863.8 259.6,853.8 260.2,852.5 260.8,846.2 261.4,846.2 261.9,840.2 262.5,839.3 263.1,834.7 263.8,831.6 264.4,831.6 265,827.7 265.7,828.4 266.3,831.2 266.9,830.3 267.5,831.5 268.1,831.2 268.7,829 269.3,833.2 269.9,834.9 270.6,837.8 271.2,838.8 271.8,847 272.4,845.7 273,843.9 273.6,841.4 274.2,845.6 274.8,845.7 275.4,845 276.1,846.2 276.7,845 277.3,846.8 277.9,847.1 278.5,845.7 279.1,844.8 279.7,849.1 280.3,848.6 280.9,849.1 281.6,848.9 282.2,849 282.8,852.2 283.4,852.2 284,851.1 284.6,853.1 285.2,855.3 285.8,854.7 286.4,855.3 287.1,854.8 287.7,859 288.3,861.2 288.9,864.1 289.5,862.4 290.1,867.4 290.7,864 291.3,863.5 291.9,863.5 292.6,872 293.2,872.4 293.8,870.8 294.4,871.1 295,872.9 295.6,869.7 296.2,872.8 296.8,875.3 297.5,878.7 298.1,874.5 298.7,876 299.3,876.3 299.9,881.2 300.5,879.9 301.1,880.4 301.7,881.8 302.3,885.2 303,886.2 303.6,883.8 304.2,884.4 304.8,888.9 305.4,887.7 306,890.3 306.6,892 307.2,893.6 307.8,893.1 308.5,891.8 309.1,894.1 309.7,896.2 310.3,897.1 310.9,898.5 311.5,898.1 312.1,899.2 312.7,900.5 313.3,899.1 313.9,898.4 314.5,900.7 315,895.7 315.6,895.4 316.1,898.7 316.7,899.1 317.3,895.5 317.9,897.9 318.7,805.9 318.8,841.8 319,941.6 317.7,954 318.3,952.3 318.9,939.1 319.5,940.8 320.1,939.4 320.7,948.2 321.3,945.5 321.9,945.2 322,897.6 322.1,862.1 325.6,873.1 325.7,936.7 326.1,949.6 326.6,939 327.2,930.8 327.8,947.5 328.4,951.5 328.9,938.4 329.5,951 330.1,924.4 330.7,948.1 331.3,939.3 331.8,947.4 332.4,939.8 333,896.8 333.6,897.2 334.1,901.3 334.7,893.3 335.3,895.2 336,893.7 336.6,882.6 337.2,881 337.8,878.8 338.4,882.1 339,880.9 339.6,878.9 340.2,888.5 340.8,884 341.5,890.7 342.1,885.6 342.7,889.5 343.3,889.1 343.9,890.4 344.5,893.6 345.1,898.2 345.7,898.9 346.3,900.5 347,898.5 347.6,901.3 348.2,893.3 348.8,894.6 349.4,891.9 350,888.3 350.6,889.5 351.2,885.7 351.8,883.2 352.5,882.5 353.1,888.3 353.7,885.9 354.3,885.8 354.9,885 355.5,893.7 356.1,890.8 356.7,891.4 357.3,892.2 358,893.6 358.6,894.4 359.2,893.9 359.8,890.3 360.4,891.6 361,891 361.6,891.5 362.2,891.7 362.8,892 363.5,894.9 364.1,889.2 364.7,890.4 365.3,892.4 365.9,890.6 366.5,891.2 367.1,890.9 367.7,888.7 368.3,892.5 369,890.6 369.6,887.7 370.2,893.5 370.8,890 371.4,889.8 372,890.5 372.6,892.2 373.2,891 373.8,889.9 374.4,889.3 375,892.1 375.6,889.5 376.2,893.1 376.8,889.9 377.4,891.2 378,890.3 378.6,891.7 379.2,890.3 379.8,890.9 380.4,891 381,893.5 381.6,892.6 382.2,891.8 382.8,889.6 383.4,891.6 384,887.9 384.7,888.9 385.3,888.9 385.9,889 386.5,889.5 387.1,890.1 387.7,891.6 388.3,890.1 389.1,698.3 389.2,787.6 389.4,1093.3 389.9,978.7 390.5,976.2 391.1,992.3 391.7,1002 392.3,1002.1 392.9,993.5 393.5,976 394.1,1023.4 394.7,1026 395.3,992 395.9,971.7 396.5,982 392.8,970 393.4,944.2 394,982.2 394.6,977.6 395.2,996.8 395.8,947.1 396.5,1008.4 397.1,999.1 397.7,941.1 398.3,985.8 398.9,964 399.5,975.9 400.1,997.4 398.9,923.4 399.5,922.9 400.1,919.2 400.7,916 401.3,917.2 402,911.1 402.6,911.1 403.2,914.9 403.8,913.7 404.4,910.1 405,910.7 405.6,908.5 406.2,906.7 406.9,908.5 407.5,909.2 408.1,910.4 408.7,905.6 409.3,909.5 409.9,910.8 410.5,908 411.1,911.9 411.7,911.7 412.4,912 413,911.6 413.6,908.4 414.2,915.7 414.8,914.2 415.4,912.9 416,913.1 416.6,915.5 417.2,915.6 417.9,916.5 418.5,916.5 419.1,916.8 419.7,915.8 420.3,921.7 420.9,918.6 421.5,917.5 422.1,918 422.7,917 423.4,911.5 424,912.7 424.6,913.4 425.2,911.5 425.8,911.6 426.4,914.1 427,908.7 427.6,910.1 428.2,910.1 428.9,909.8 429.5,910.6 428.9,902.9 428.2,896.2 428.9,895.8 429.5,896.5 430.1,891.3 430.7,890.3 431.3,890.5 431.9,889.8 432.5,889.1 433.1,892.6 433.7,887.4 434.4,884.4 435,885.2 435.6,880.8 436.2,881.4 436.8,882.8 437.4,878.8 438,882.3 438.6,880.4 439.2,877.5 439.9,881.6 440.5,880.1 441.1,883.8 441.7,882.2 442.3,880.8 442.9,880 443.5,876.5 444.1,878.1 444.7,879.8 445.4,880.6 446,884.4 446.6,880.4 447.2,880.8 447.8,883.8 448.4,880.1 449,883.2 449.6,882.3 450.2,877.7 450.9,881.1 451.5,878.8 452.1,882.2 452.7,880 453.3,875.9 454,881 454.6,879.7 455.2,879.2 455.8,882.3 456.4,878.4 457.1,875.8 457.7,881.1 458.3,876.3 458.9,877.8 459.5,1093.3 459.7,1005.1 459.8,909.8 459.9,897.6 460.5,880.5 461.2,876.1 461.8,880.8 462.5,881 463.1,880.6 463.7,877.1 464.3,880 464.9,875.8 465.5,874.6 466.1,872.3 466.7,871 467.4,875.4 468,874.1 468.6,874.3 469.2,874.1 469.8,877.5 470.4,880.2 471,876.1 471.6,879.3 472.2,882.1 472.9,880 473.5,882 474.1,879.2 474.7,879.3 475.3,881.4 475.9,881.3 476.5,884.9 477.1,883.3 477.7,882.7 478.4,883.2 479,884.9 479.6,881.1 480.2,886.7 480.8,887.1 481.4,889.3 482,890 482.6,890.7 483.2,893.7 483.9,897.1 484.5,893.2 485.1,895.6 485.7,895.7 486.3,898.9 486.9,899 487.5,901.7 488.1,897.2 488.7,903.1 489.4,899.2 490,897.2 490.6,902.7 491.2,901.3 491.8,902.1 492.4,902.9 493,903.8 493.6,910.2 494.2,909.4 494.9,905 495.5,904.5 496.1,904.6 496.7,904.6 497.3,899.3 497.9,905.1 498.5,903 499.1,902.2 499.7,901.2 500.4,902.4 501,900.7 501.6,899.3 502.2,897 502.8,897.4 503.4,893.8 504,900.5 504.6,899.8 505.2,897 505.9,893.6 506.5,898.8 507.1,893.1 507.7,897.6 508.3,900.6 508.9,895.7 509.5,898.5 510.1,896.9 510.7,896.4 511.4,898.4 512,895 512.6,898.1 513.2,898 513.8,902.1 514.4,898.4 515,901.7 515.6,899.9 516.2,898.3 516.9,899.9 517.5,902.1 518.1,903.6 518.7,899.2 519.3,899.3 519.9,902.5 520.5,899.2 521.1,900 521.7,897 522.3,898.9 522.9,897.1 523.5,899.9 524.1,902.6 524.7,893.7 525.3,899.6 525.9,897.1 526.5,892.3 527.2,894.6 527.8,896.8 528.4,898.3 529,897.3 529.6,897.3 530.2,1093.3 530.9,960.1 531.5,959.3 532.1,956 532.8,961.7 533.4,956.1 534,953.3 534.6,954.5 535.2,949.4 535.8,946.8 536.4,943.8 537,944.4 537.6,937.2 538.3,936 538.9,931.2 539.5,924.6 540.1,926.1 540.7,920.2 541.3,919.7 541.9,916.3 542.5,906.4 543.1,898.9 543.8,893.8 544.4,894.6 545,893.1 545.6,891 546.2,890.3 546.8,887.6 547.4,892.1 548,888.5 548.6,890 549.3,893.1 549.9,893.4 550.5,887.2 551.1,885.1 551.7,886.8 552.3,889.7 552.9,890.4 553.5,888.3 554.1,889.8 554.8,890.8 555.4,888.1 556,886 556.6,891.7 557.2,889.6 557.8,893 558.4,891.1 559,890.5 559.6,892.3 560.3,891 560.9,890.6 561.5,890.9 562.1,890.8 562.7,890.1 563.3,888.2 563.9,891.5 564.5,887.5 565.1,887.8 565.8,891.8 566.4,884.3 567,890.4 567.6,888.9 568.2,886.3 568.8,886.6 569.4,894 570,890.7 570.6,890.6 571.3,893.5 571.9,892.7 572.5,890.9 573.1,891 573.7,895.5 574.3,895.1 574.9,893.7 575.5,897.5 576.1,897.6 576.8,901.4 577.4,896.7 578,895.9 578.6,893.5 579.2,896.4 579.8,894.5 580.4,893.2 581,895.5 581.6,892 582.3,890.2 582.9,894.5 583.5,893.4 584.1,895.2 584.7,895.2 585.3,895.8 585.9,893.3 586.5,894 587.1,892.9 587.8,891 588.4,893.9 589,892.2 589.6,890.9 590.2,890.4 590.8,893.8 591.4,894 592,897.4 592.6,893.8 593.3,891.4 593.9,892.4 594.5,890.6 595.1,894.9 595.7,894.1 596.3,893.5 596.9,890.2 597.5,896.3 598.1,896.4 598.8,894 599.4,896.7 600,896.2 600.6,812 600.7,867 604.3,871.9 604.4,939.1 604.5,924.5 604.6,909.8 605.2,900.8 606,896.6 606.7,897.4 607.3,896.7 607.9,899.9 608.5,899.8 609.1,896.9 609.8,895.2 610.4,902.1 611,901.2 611.6,900.3 612.2,901.9 612.8,899.9 613.4,900 614,906.3 614.6,901.9 615.3,902.1 615.9,904.2 616.5,907 617.1,903.3 617.7,905.7 618.3,906.8 618.9,910.4 619.5,909.5 620.1,906.8 620.8,908.2 621.4,908.3 622,907.9 622.6,904 623.2,904.2 623.8,905.7 624.4,899 625,903.5 625.6,902.8 626.3,902.9 626.9,904.2 627.5,899.4 628.1,894.6 628.7,897.9 629.3,899 629.9,900.1 630.5,898.7 631.2,901.5 631.8,901.2 632.4,899.2 633,901 633.6,900.6 634.2,900.4 634.8,898.8 635.4,901.1 636,899.5 636.7,900.8 637.3,902.2 637.9,899.5 638.5,898.4 639.1,900.5 639.7,898.1 640.3,897.2 640.9,898.4 641.5,898.6 642.2,900.4 642.8,896.9 643.4,898.7 644,899.9 644.6,899.3 645.2,899.9 645.8,903 646.4,895.2 647,898.4 647.7,901 648.3,902 648.9,903.9 649.5,901.6 650.1,902.5 650.7,901.9 651.3,901.9 651.9,903 652.6,900.3 653.2,902.5 653.8,902.7 654.4,904.5 655,903.7 655.7,902.7 656.3,902.3 656.9,905.4 657.5,905.4 658.1,908.6 658.8,904.9 659.4,904.4 660,905.6 659.4,904.6 658.8,905.2 658.2,909.1 657.6,906.1 657,906.4 656.4,903.3 655.8,903.9 655.1,905.1 654.5,906.1 653.9,904.5 653.3,904.4 652.7,902.4 652.1,905.2 651.5,904.3 650.9,904.5 650.3,905.2 649.7,904.4 649.1,906.8 648.5,905 647.9,904 647.3,901.4 646.7,898.3 646.1,906.2 645.5,903.2 644.8,902.8 644.2,903.6 643.6,902.6 643,900.7 642.4,904.2 641.8,902.4 641.2,902.2 640.6,900.8 640,901.4 640.6,900.7 641.2,902.1 641.8,902.2 642.4,904 643.1,900.5 643.7,902.3 644.3,903.2 644.9,902.4 645.5,902.8 646.1,905.7 646.7,897.7 647.3,900.8 647.9,903.4 648.6,904.4 649.2,906.1 649.8,903.7 650.4,904.4 651,903.5 651.6,904.4 652.2,901.4 652.8,903.3 653.4,903.3 654.1,904.9 654.7,903.8 655.3,902.3 655.9,901.4 656.5,904.1 657.1,903.6 657.7,906.5 658.3,902.4 658.9,901.6 659.6,902.2 660.2,902.1 660.8,902.2 661.4,902.2 662,903.7 662.6,901.1 663.2,901.4 663.8,903 664.4,904.4 665.1,902.4 665.7,903.4 666.3,902.4 666.9,900.9 667.5,904.3 668.1,903.2 668.7,901.3 669.3,896.6 669.9,902.8 670.3,1093.3 672.8,1093.3 673.4,900.4 673.9,898 674.5,897.4 675,898.2 675.6,898.5 676.1,899.3 676.7,899.4 677.3,901.6 677.9,900.8 678.5,903.5 679.1,900.2 679.7,901.1 680.3,901.7 680.9,904.1 681.6,906.2 682.2,903.9 682.8,903.8 683.4,907.4 684,904.3 684.6,911 685.2,904 685.8,904.7 686.4,906.2 687.1,906.9 687.7,910.8 688.3,906.4 688.9,910.7 689.5,911.2 690.1,907.4 690.7,908.3 691.3,914.2 691.9,908.3 692.6,911.9 693.2,913.9 693.8,913.3 694.4,915.6 695,916.6 695.6,914.9 696.2,914.6 696.8,918 697.5,917.5 698.1,919.1 698.7,917 699.3,916.4 699.9,919.9 700.5,913 701.1,913.1 701.7,913.8 702.3,909.8 703,910.7 703.6,910.4 704.2,910.3 704.8,914.1 705.4,908 706,908.1 706.6,909.1 707.2,911.7 707.8,904.2 708.5,906.1 709.1,905.5 709.7,902.1 710.3,905.2 710.9,902.7 711.5,899.6 712.1,900.1 712.7,898 713.3,900.7 714,899.9 714.6,900.1 715.2,900.7 715.8,897.7 716.4,902.7 717,901.9 717.6,901.9 718.2,902.9 718.8,901.2 719.5,903.5 720.1,902.6 720.7,903.2 721.3,902.8 721.9,905.4 722.5,903.4 723.1,904.8 723.7,908.3 724.3,904.3 725,903.5 725.6,907.3 726.2,907.4 726.8,907.7 727.4,906.2 728,900.6 728.6,904.7 729.2,904.9 729.8,902.8 730.5,905.1 731.1,899.7 731.7,906.6 732.3,901.1 732.9,906.6 733.5,905.3 734.1,902.1 734.7,906.3 735.3,904.5 736,908.5 736.6,904.1 737.2,904.4 737.8,904.2 738.4,904.1 739,907.2 739.6,904.1 740.2,903.8 740.7,958.7 740.8,970.9 741,983.1 741.1,1007.6 740.2,1001.4 740.8,995.5 741.5,982.6 742.1,990.4 742.7,1001.2 743.3,993.9 743.9,993.3 744.5,1007.2 745.1,995.4 745.7,1008.7 746.3,1003.5 747,1007.9 747.6,1005 748.2,1011.6 748.8,987.3 749.4,1011 750,1011.1 747.6,886.6 745.1,902.5 745.7,1006.3 746.3,1004.2 746.9,1006.7 747.6,1004.3 748.2,1006.2 748.8,1007.8 749.4,1001.5 750,995.2 750.6,986.8 751.2,980 751.8,976.3 752.4,968.3 752.9,960.8 753.6,953.8 754.2,942.6 754.9,938.4 755.5,934.7 756.1,934.9 756.7,932.9 757.3,928.9 758,925.9 758.6,923.7 759.2,919.6 759.8,920.8 760.4,919.8 761,919.1 761.6,916.9 762.2,917.1 762.8,910.8 763.5,912.9 764.1,910.8 764.7,836.5 764.8,842.6 765.4,902 766,900.1 766.5,899.7 767.1,899.9 767.7,896.3 768.3,894 769,893.8 769.6,889.4 770.2,887.5 770.8,884.9 771.4,883.7 772,885.7 772.6,886 773.2,883.2 773.8,879.5 774.5,878.8 775.1,879.7 775.7,876.3 776.3,879 776.9,879.7 777.5,873.6 778.1,876.7 778.7,880.1 779.3,875.9 780,874.6 780.6,875.3 781.2,875.2 781.8,878.8 782.4,875.1 783,873.7 783.6,875 784.2,875.6 784.8,877.1 785.5,879 786.1,878.4 786.7,880.9 787.3,877.3 787.9,877.9 788.5,879 789.1,878 789.7,879.5 790.3,878.6 791,881.5 791.6,881.5 792.2,882.4 792.8,884.2 793.4,875.8 794,885 794.6,884.7 795.2,883.6 795.8,887.4 796.5,886.7 797.1,886.4 797.7,886.5 798.3,891.3 798.9,890.8 798.3,895.4 797.7,894.8 797.1,898.8 796.5,903.2 797.1,900.6 797.7,898.5 798.3,900.9 798.9,898.1 799.5,898.1 800.1,899.5 800.7,901.2 801.3,899.1 802,898.6 802.6,898 803.2,896.4 803.8,898.3 804.4,897.6 805,893.6 805.6,894.4 806.2,894.7 806.9,895.8 807.5,894.6 808.1,894.3 808.7,897.4 809.3,893.5 809.9,901.1 810.5,901.4 811.1,900.3 811.7,900.2 812.3,894 812.9,898.8 813.6,829.1 813.7,1093.3 813.8,1093.3 809.9,925.7 814.8,961.1 812.4,939.9 813,944.9 813.6,968.6 814.2,986.5 814.8,949.2 815.4,937.7 816,975.6 816.6,982.9 817.2,953.4 817.9,921.3 818.5,943.2 819.1,955.6 819.7,926.4 820.3,931.8 820.9,927.3 821.5,978.2 822.1,980 822.2,884.1 822.8,881.8 823.4,885.7 824,886.2 824.6,892.7 825.2,895.9 825.8,900.5 826.4,900.9 827,899.6 827.6,910.4 828.2,909.6 828.9,912.6 829.5,916.7 830.1,919.1 830.7,921.2 831.3,925.2 831.9,927.7 832.5,924.1 833.1,927.6 833.7,932.6 834.4,934.2 835,932.4 835.6,928.4 836.2,930.8 836.8,926.2 837.4,924.2 838,920.3 838.6,918.8 839.2,912.5 839.9,910.6 840.5,909 841.1,909.5 841.7,910.1 842.3,915.8 842.9,911.7 843.5,921.3 844.1,918.3 844.7,922.6 845.4,916.4 846,916 846.6,917 847.2,913 847.8,915 848.4,911.4 849,912.2 849.6,922.4 850.2,926.3 850.9,927.3 851.5,925.4 852.1,927.8 852.7,927.9 853.3,929.9 853.9,931.2 854.5,930.3 855.1,932.6 855.7,931 856.4,934.8 857,936.8 857.6,934.9 858.2,943.4 858.8,953.1 859.4,959.4 860,962.9 860.6,968.1 861.2,971.6 861.9,969.7 862.5,971.5 863.1,974.4 863.7,972.6 864.3,971 864.9,965.4 865.5,973 866.1,967.5 866.7,970.3 867.4,966.1 868,969.6 868.6,964.8 869.2,956.5 869.8,948.1 870.4,941.6 871,946.5 871.6,943.7 872.2,938.7 872.9,937.4 873.5,934.1 874.1,935.2 874.7,936.7 875.3,930.2 875.9,931.1 876.5,929 877.1,924.2 877.7,923 878.4,916.7 879,911.6 879.6,906.7 880.2,903.7 880.8,897.8 881.4,896.9 882,887.6 882.6,889.7 883.2,888.8 883.8,886.5 884.5,802.2 884.6,815.7 882,858 882.1,1093.3 886.9,1093.3 882,1006.2 882.6,936.6 883.2,949.3 883.9,944.9 884.5,923.8 885.1,897.1 885.7,888.1 886.3,899.6 886.9,938 887.5,941.9 888.1,912.8 888.7,930.7 889.4,944.8 889.4,1016.3 890,1012.2 890.6,1012.5 891.2,1008.6 891.8,1027.5 892.4,1012.3 893,1021.6 893.6,1029 894.2,1030.8 894.9,1032.1 895.5,1018.1 895.5,1006.5 896.1,995.7 896.7,993.3 897.3,982.7 897.9,977.2 898.5,972.8 899.1,964.9 899.7,962.3 900.4,958.4 901,955.4 901.6,954.5 902.2,952.2 902.8,950.3 903.4,949.1 904,943.8 904.6,941.7 905.2,942.9 905.9,938.3 906.5,939.3 907.1,937.6 907.7,939.9 908.3,932.9 908.9,930.8 909.5,929.4 910.1,925.8 910.7,922.7 911.4,924.4 912,925.1 912.6,923.4 913.2,920.9 913.8,920.1 914.4,921.4 915,923.3 907.7,958.8 908.3,928.2 908.9,922.4 909.5,995.2 910.1,991.6 910.7,946.2 911.4,935.1 912,975.7 912.6,974.1 913.2,958.3 913.8,967.9 914.4,982.1 915,963.7 915.6,984.8 916.2,969.8 916.9,971.2 917.5,965.8 916.2,889.2 916.9,889.8 917.5,886.3 918.1,884.2 918.7,882.1 919.3,880.8 919.9,873.9 920.5,880.4 921.1,874.9 921.8,879.6 922.4,876.7 923,877.7 923.6,874.1 924.2,876.5 924.8,877.3 925.4,875.4 926,875.1 926.6,880.7 927.3,878.3 927.9,875.2 928.5,879.4 929.1,879.7 929.7,879.6 930.3,875 930.9,881.5 931.5,880.7 932.1,881.6 932.8,880.4 933.4,881.3 934,877.5 934.6,878.5 935.2,878 935.8,876 936.4,881.1 937,876.6 937.6,877.3 938.3,874.6 938.9,877.9 939.5,878.4 940.1,879.3 940.7,879.1 941.3,878.6 941.9,882.3 942.5,877.5 943.1,875.6 943.8,875 944.4,879.6 945,875.1 945.6,880.9 946.2,877 946.8,878.4 947.4,877.4 948,876.8 948.6,876.6 949.3,880.5 949.9,880.7 950.5,880 951.1,879.7 951.7,886.1 952.3,888.2 952.9,888 952.9,1093.3 955.4,1093.3 956.6,886.9 957.2,945.6 957.8,906.5 958.4,918.9 959,893.9 959.6,908.2 960.3,900.1 960.9,954.3 961.5,967.5 962.1,940.6 962.7,935.5 963.3,939.6 963.9,965 964.5,966.2 965.1,955.7 965.8,918.8 966.4,921.6 967,948.3 967.6,900.3 968.2,966.2 968.8,900.7 965.1,972.3 965.8,973.1 966.4,977.3 967,978 967.6,981.4 968.2,979.6 968.8,982 969.4,970.3 970,960.2 970.6,946.9 971.3,933.9 970.6,931 970,928.4 969.4,925.1 968.8,923.3 968.2,920.1 967.6,921.1 968.2,915.6 968.8,914.1 969.4,911.3 970,910.1 970.6,908.1 971.3,906.4 971.9,905.4 972.5,906.6 973.1,900 973.7,899.5 974.3,901.4 974.9,902.6 975.5,898.2 976.1,897.2 976.8,904.5 977.4,901 978,899.7 978.6,895.9 979.2,895.4 979.8,895.4 980.4,896.2 981,898.5 981.6,898.4 982.3,893.9 982.9,895.4 983.5,889.4 984.1,893.9 984.7,890.3 985.3,895.8 985.9,887.6 986.5,891.5 987.1,890.8 987.8,889.5 988.4,890.6 989,886.9 989.6,886.6 990.2,888.9 990.8,887.4 991.4,891.6 992,888.4 992.6,889 993.3,887.1 993.9,885.4 994.5,884.1 995.1,889.3 995.7,889.2 996.3,884.5 996.9,890.8 997.5,888.9 998.1,891.9 998.8,891.8 999.4,889.3 1000,887.7 1000.6,890.2 1001.2,889.1 1001.8,885.8 1002.4,886 1003,884.9 1003.6,885.2 1004.3,885.4 1004.9,883.9 1005.5,886.1 1006.1,883 1006.7,886.3 1007.3,888.1 1007.9,887.4 1008.5,887.7 1009.1,888.1 1009.8,888.4 1010.4,890.9 1011,892 1011.6,893.2 1012.2,891 1012.8,890.4 1013.4,895.3 1014,894.9 1014.6,890.2 1015.3,895.2 1015.9,895.1 1016.5,892.6 1017.1,897.4 1017.7,895.2 1018.3,893.5 1018.9,895.5 1019.5,898.5 1020.1,894.2 1020.8,897.8 1021.4,899.6 1022,898.5 1022.6,900.9 1023.2,899.6 1023.8,1093.3 1023.9,980.7 1024.5,940.8 1025.1,935.6 1025.7,941.2 1026.3,939.4 1026.9,931.1 1027.5,927.9 1028.1,925.5 1028.7,916 1029.3,917.7 1029.9,915.5 1030.5,919.8 1031.2,917.9 1031.8,920.4 1032.4,917.2 1033,918.5 1033.6,920.6 1034.2,920.1 1034.8,924.3 1035.4,923.4 1036,924.7 1036.6,921.4 1037.2,920.8 1037.7,923.3 1038.3,921.9 1038.8,919.6 1039.4,922.8 1040,919.8 1040,921 1040.6,919.1 1041.2,920.3 1041.8,917.2 1042.4,913.9 1043.1,913 1043.7,915.2 1044.3,911.2 1044.9,905.4 1045.5,906.6 1046.1,908.9 1046.7,906.1 1047.3,903.8 1047.9,903.4 1048.6,899.9 1049.2,901.6 1049.8,901 1050.4,902.6 1051,902.6 1051.6,900.3 1052.2,904.2 1052.8,900.9 1053.4,900.9 1054.1,902.2 1054.7,900.8 1055.3,899.9 1055.9,905 1056.5,905.4 1057.1,903.2 1057.7,902.4 1058.3,903.5 1058.9,903.8 1059.6,905.4 1060.2,907.1 1060.8,906.5 1061.4,907.3 1062,909.8 1062.6,910.1 1063.2,912.8 1063.8,912.1 1064.4,913.3 1065.1,913 1065.7,915.6 1066.3,909.2 1066.9,911.1 1067.5,911.6 1068.1,913.3 1068.7,913.2 1069.3,910.7 1069.9,910.7 1070.6,907.4 1071.2,903.8 1071.8,910.2 1072.4,909.1 1073,912.7 1073.6,910.9 1074.2,909.9 1074.8,914.1 1075.4,914.7 1076.1,914.1 1076.7,913.3 1077.3,915.3 1077.9,913.3 1078.5,913.6 1079.1,913.9 1079.7,909.1 1080.3,911.1 1080.9,911.6 1081.6,909.7 1082.2,909 1082.8,906.4 1083.4,905.9 1084,905.2 1084.6,903.7 1085.2,901.9 1085.8,898.8 1086.4,897.4 1087.1,895.5 1087.7,891.6 1088.3,890 1088.9,886.7 1089.5,892.1 1090.1,890.5 1090.7,887.1 1091.3,885.9 1091.9,882.3 1092.6,880.5 1093.2,884.3 1093.8,886.2 1094.3,1093.3 1094.4,944 1095,873.4 1095.6,876.8 1096.2,877.3 1096.8,875.1 1097.4,873.4 1098.1,873 1098.7,871.8 1099.3,875.2 1099.9,872.3 1100.5,873.2 1101.1,873.5 1101.7,874.9 1102.3,876.8 1103,878.6 1103.6,874.4 1104.2,879.1 1104.8,880.6 1105.4,885.3 1106,886.6 1106.6,889.8 1107.2,884.6 1107.8,889.4 1108.5,885.7 1109.1,892.5 1109.7,887.7 1110.3,885.8 1110.9,887.1 1111.5,889.6 1112.1,884.9 1112.7,892.1 1113.3,887.4 1114,891.5 1114.6,889.9 1115.2,889.5 1115.8,892 1116.4,888.9 1117,887 1117.6,890.6 1118.2,892.7 1118.8,895.1 1119.5,893.6 1120.1,895.6 1120.7,896.7 1121.3,901.7 1121.9,901.4 1122.5,901.9 1123.1,905.3 1123.7,904.1 1124.3,903.1 1125,906 1125.6,907.3 1126.2,908.1 1126.8,908.3 1127.4,905.2 1128,908.2 1128.6,907.7 1129.2,907 1129.8,908.5 1130.5,910.5 1131.1,910.8 1131.7,910.3 1132.3,911 1132.9,910.2 1133.5,911.4 1134.1,907.6 1134.7,907.6 1135.3,909.1 1136,911.4 1136.6,909 1137.2,910.2 1137.8,908.1 1138.4,911.3 1139,908 1139.6,908.8 1140.2,912 1140.8,911.4 1141.5,910.3 1142.1,907.5 1142.7,910.7 1143.3,909.3 1143.9,907.3 1144.5,908.6 1145.1,910.5 1145.7,911.4 1146.3,908 1147,911.5 1147.6,912.5 1148.2,912.1 1148.8,915.1 1149.4,910.3 1150,910.9 1150.6,908.6 1151.2,909.3 1151.8,910.5 1152.5,909.9 1153.1,909.1 1153.7,909.7 1154.3,912.6 1154.9,910.8 1155.5,912.6 1156.1,906.5 1156.7,912.1 1157.3,910.5 1158,911.3 1158.6,912.5 1159.2,909.7 1159.8,909.4 1160.4,907.6 1161,912.1 1161.6,910.5 1162.2,911.1 1162.8,912 1163.5,908.8 1164.1,911.5 1164.7,913.6 1165.2,934.3 1165.3,887.8 1168.3,882.9 1168.9,891.2 1169.6,895.7 1170.2,896.3 1170.8,893.5 1171.4,889.2 1172,891.7 1172.6,894.4 1173.2,890.6 1173.8,892.3 1174.5,893.7 1175.1,893.8 1175.7,891.7 1176.3,894 1176.9,894.9 1177.5,893 1178.1,897.1 1178.7,898 1179.3,897.9 1180,893.4 1180.6,894 1181.2,896.1 1181.8,898.3 1182.4,893.9 1183,895.5 1183.6,888.9 1184.2,893.6 1184.8,892.4 1185.5,897.6 1186.1,895.5 1186.7,896.3 1187.3,899 1187.9,899.9 1188.5,901.6 1189.1,902.1 1189.7,901.9 1190.3,900.2 1191,898.3 1191.6,900.9 1192.2,903.8 1192.8,902.5 1193.4,901.8 1194,903.6 1194.6,906.8 1195.2,905.2 1195.8,902.5 1196.5,906.5 1197.1,909.6 1197.7,906.4 1198.3,902.7 1198.9,906 1199.5,903.4 1200.1,904.6 1200.7,902.2 1201.3,905.1 1202,903.6 1202.6,900.1 1203.2,902.6 1203.8,904.3 1204.4,903 1205,901 1205.6,903.7 1206.2,900.2 1206.9,899.1 1207.5,899 1208.1,901.2 1208.7,896.7 1209.3,896.7 1209.9,897.3 1210.5,898.8 1211.1,896.1 1211.7,900 1212.4,895.6 1213,897.6 1213.6,897.9 1214.2,902.4 1214.8,898.3 1215.4,899.6 1216,895.4 1216.6,901.4 1217.2,901.3 1217.9,901.3 1218.5,901.7 1219.1,900.1 1219.7,900.5 1220.3,900.1 1220.9,898.4 1221.5,899.4 1222.1,895.7 1222.7,896.3 1223.4,898.6 1224,899 1224.6,898 1225.2,896.9 1225.8,894.4 1226.4,893.9 1227,894.4 1227.6,894.6 1228.2,892 1228.9,893.3 1229.5,897.3 1230.1,891.8 1230.7,895.5 1231.3,890.8 1231.9,888.8 1232.5,890 1233.1,891.8 1233.7,887.1 1234.4,894.8 1235.1,1093.3 1237.5,1093.3 1240.5,992.9 1240.6,953.8 1235.6,912.8 1236.2,903.3 1236.8,912.8 1237.4,896.3 1238,907.9 1238.6,918.1 1239.2,921.1 1239.9,916 1240.5,907.4 1241.1,898.8 1241.7,892.1 1241.8,841.4 1241.9,851.1 1242,863.4 1245.4,873.1 1246,893.3 1246.6,895.1 1247.2,891.3 1247.8,891.2 1248.4,893.9 1249,884.4 1249.6,888.5 1250.2,885.4 1250.9,880.9 1251.5,884.5 1252.1,882.1 1252.7,876 1253.3,872.9 1253.9,878.6 1254.5,877.2 1255.1,876.2 1255.7,876.5 1256.4,877 1257,872.8 1257.6,875 1258.2,869.1 1258.8,868.8 1259.4,870.8 1260,873.4 1260.6,869.1 1261.2,871.4 1261.9,869.5 1262.5,868.6 1263.1,868.9 1263.7,873.5 1264.3,872.3 1264.9,871.5 1265.5,872.2 1266.1,874.5 1266.7,872.5 1267.4,870.7 1268,874.9 1268.6,876.1 1269.2,875.6 1269.8,876.6 1270.4,878.3 1271,877.7 1271.6,877.4 1272.2,880.4 1272.9,876.9 1273.5,876.6 1274.1,876.5 1274.7,878 1275.3,878.2 1275.9,873.8 1276.5,873.8 1277.1,878.3 1277.7,875.8 1278.4,876 1279,873.8 1279.6,878.4 1280.2,873.4 1280.8,877.9 1281.4,875.6 1282,875.6 1282.6,873.7 1283.2,872.4 1283.9,870.9 1284.5,875.9 1285.1,872.5 1285.7,875.3 1286.3,875 1286.9,874.5 1287.5,871.6 1288.1,869.2 1288.7,869.7 1289.4,868.6 1290,871.7 1290.6,871.3 1291.2,871.8 1291.8,871 1292.4,870.4 1293,872.6 1293.6,870.7 1294.2,870.9 1294.9,873.6 1295.5,875.9 1296.1,874.5 1296.7,874.5 1297.3,873.9 1297.9,880.5 1298.5,880.6 1299.1,882.3 1299.8,880 1300.4,883.1 1301,880.1 1301.6,882.4 1302.3,880.1 1302.9,879.8 1303.5,880.3 1304.1,881 1304.8,880.7 1305.5,1093.3 1305.6,992.9 1306.5,888.9 1307.1,884.9 1307.7,909.5 1308.3,896.1 1308.9,883.3 1309.5,906.1 1310.1,881.4 1310.7,917.7 1311.4,899.4 1312,905.1 1312.6,890.8 1313.2,911.2 1313.8,895.6 1314.4,921 1315,882.5 1315.6,896.2 1316.2,900.3 1316.9,899.5 1317.5,902 1318.1,909.3 1318.7,911.1 1319.3,913 1319.9,916.2 1320.5,921.7 1321.1,922.8 1321.8,917 1322.4,914.8 1323,911.6 1323.6,904.7 1324.2,905.7 1324.8,902.1 1325.4,901 1326,898 1326.6,894.7 1327.3,891.8 1327.9,898.4 1328.5,892.5 1329.1,891.8 1329.7,970.9 1330.3,969.8 1330.9,971.8 1331.5,969.9 1332.1,972.2 1332.8,974.1 1333.4,971.7 1334,973.7 1334.6,974.7 1335.2,967.3 1335.8,968.5 1336.4,965.2 1337,968 1337.6,967.4 1338.3,965.7 1338.9,965.3 1339.5,966.3 1340.1,968 1340.7,963.8 1341.3,959.9 1341.9,958.4 1342.5,958.9 1343.1,958.6 1343.8,959.4 1344.4,959.1 1345,948.7 1345.6,948.8 1346.2,950.5 1346.8,950.4 1347.4,947.8 1348,945.9 1348.6,939.8 1349.3,935.4 1349.9,929.9 1350.5,920.7 1351.1,920.2 1351.7,917 1352.3,915.8 1352.9,912.5 1353.5,912.5 1354.1,910.3 1354.8,907.2 1355.4,905.8 1356,906.8 1356.6,907.9 1357.2,905.3 1357.8,903.6 1358.4,901.1 1359,898.3 1359.6,902.2 1360.3,898.7 1360.9,902 1361.5,895.7 1362.1,894 1362.7,897.7 1363.3,896.1 1363.9,890.7 1364.5,891.8 1365.1,888.9 1365.8,888.8 1366.4,889 1367,886.2 1367.6,885.8 1368.2,875.6 1368.8,865.3 1369.4,864.7 1370,860.6 1370.6,857 1371.3,857.1 1371.8,856.7 1372.4,857.8 1373,856.4 1373.6,860.4 1374.2,861.6 1374.8,863.1 1375.4,862.6 1376.1,1093.3 1376.3,945.3 1376.4,907.4 1376.5,897.6 1377.1,867.1 1377.6,869.3 1378.2,869.4 1378.7,868.1 1379.3,865.7 1379.8,867.5 1380.4,867.7 1381,865.5 1381.6,865.2 1382.3,861.7 1382.9,865.1 1383.5,859.1 1384.1,862.3 1384.7,865.5 1385.3,864.2 1385.9,865.8 1386.5,864.6 1387.1,863.5 1387.8,865.9 1388.4,863.6 1389,866.9 1389.6,868.2 1390.2,869.1 1390.8,865.8 1391.4,866.7 1392,871.1 1392.6,869.7 1393.3,868.5 1393.9,870.6 1394.5,875.8 1395.1,873.1 1395.7,872.8 1396.3,873.5 1396.9,878.7 1397.5,874.1 1398.1,874.6 1398.8,876.4 1399.4,877 1400,883.4 1400.6,878.3 1401.2,879.1 1401.8,879.2 1402.4,877.4 1403,883.9 1403.6,882.6 1404.3,886.9 1404.9,886.5 1405.5,882.9 1406.1,884.7 1406.7,888.7 1407.3,884.1 1407.9,881.5 1408.5,885.8 1409.1,887.2 1409.8,887.1 1410.4,886.4 1411,891.2 1411.6,894.6 1412.2,892.5 1412.8,890.7 1413.4,888.8 1414,890.5 1414.6,891.1 1415.3,889.1 1415.9,893.9 1416.5,890.6 1417.1,892.5 1417.7,892.2 1418.3,897.9 1418.9,893 1419.5,892.4 1420.1,895 1420.8,893.6 1421.4,897.8 1422,896.5 1422.6,896.4 1423.2,893.1 1423.8,892.1 1424.4,893.6 1425,894.6 1425.6,894.5 1426.3,889.7 1426.9,888.8 1427.5,891.5 1428.1,889.5 1428.7,887.5 1429.3,889.1 1429.9,891.2 1430.5,886.5 1431.2,887.7 1431.8,890.2 1432.4,886.6 1433,891.1 1433.6,885.7 1434.2,890.5 1434.8,891.1 1435.4,890.5 1436,888.8 1436.7,889.4 1437.3,887.9 1437.9,886.6 1438.5,886.6 1439.1,884.4 1439.7,884.1 1440.3,885.4 1440.9,883.6 1441.5,885.1 1442.2,883.2 1442.8,882.5 1443.4,882.1 1444,882.4 1444.6,881.9 1445.2,882.8 1445.8,886.8 1446.6,819.4 1451.9,933 1452.1,945.3 1452.2,978.3 1449.5,995.4 1449.6,1005.1 1450.2,875.7 1450.8,875.8 1451.4,873.2 1452,873.9 1452.6,872.9 1453.2,870.4 1453.8,876.4 1454.4,876.6 1455,877.3 1455.6,877.1 1456.3,879.7 1456.9,883.5 1457.5,883.7 1458.1,881.1 1458.8,884.7 1459.4,880.8 1460,881.2 1460,886.1 1460.6,888.8 1461.2,889.4 1461.8,886.6 1462.4,888.6 1463.1,889.2 1463.7,888.8 1464.3,890.1 1464.9,890.5 1465.5,889.7 1466.1,894 1466.7,892.4 1467.3,893.4 1467.9,895.2 1468.6,890.7 1469.2,894.6 1469.8,894.1 1470.4,897.1 1471,895.6 1471.6,896.2 1472.2,899.5 1472.8,894.5 1473.4,893.3 1474,891.7 1474.6,896.8 1475.2,896.1 1475.8,898.2 1476.4,894.8 1476.9,893.6 1477.5,899.3 1478.1,896.6 1478.7,894.1 1479.3,894.3 1479.9,895.1 1480.5,895.1 1481.1,896.4 1481.7,895.1 1482.3,897.6 1482.8,894.6 1483.4,895.9 1484,892.2 1484.6,892.6 1485.2,892.6 1485.8,888.3 1486.4,896.4 1487,896.1 1487.6,892.6 1488.2,894.4 1488.7,893.5 1489.3,894.1 1489.9,897.8 1490.5,891.8 1491.1,893.4 1491.7,894.6 1492.3,890.2 1492.9,897.2 1493.5,893.4 1494.1,895.8 1494.6,895.3 1495.2,893.5 1495.8,893.3 1496.4,896.4 1497,894.1 1497.6,894.3 1498.2,895.4 1498.8,896.6 1499.4,893.6 1500,889.3 1500.5,892 1501.1,896.5 1501.7,898.3 1502.3,893.4 1502.9,894.1 1503.5,895.5 1504.1,891.9 1504.7,896 1505.3,893 1505.9,891.3 1506.4,890.1 1507.1,897.4 1507.7,893.4 1508.3,893.5 1508.9,895.8 1509.5,894.3 1510.1,900.4 1510.7,896.7 1511.3,899.9 1511.9,894.9 1512.5,899.1 1513.1,899.4 1513.7,903.7 1514.3,901.1 1514.9,901.4 1515.5,902.9 1516.1,902.1 1516.7,901 1517.3,897.3 1517.7,1093.3 1517.8,1093.3 1517.9,1022.3 1518.1,1029.6 1518.7,911.1 1519.3,907.4 1519.9,909 1520.5,916.5 1521.1,910.5 1521.7,912.4 1522.3,912.1 1522.9,908.1 1523.6,915.5 1524.2,916.4 1524.8,915.9 1525.4,917.9 1526,920.8 1526.6,919.8 1527.2,922.9 1527.8,927.9 1528.5,928 1529.1,929.5 1529.7,931 1530.3,930.3 1530.9,929.4 1531.5,930.1 1532.1,933.4 1532.7,931.9 1533.3,931.4 1534,933.2 1534.6,928.9 1535.2,926.8 1535.8,927.9 1536.4,926.3 1537,929.3 1537.6,919.7 1538.2,919.7 1538.8,927.9 1539.5,921.6 1540.1,918.6 1540.7,919.4 1541.3,922.9 1541.9,919.4 1542.5,921.5 1543.1,915 1543.7,917.6 1544.3,916.8 1545,919.2 1545.6,916.6 1546.2,915.2 1546.8,912.8 1547.4,917.5 1548,912.1 1548.6,905.5 1549.2,907.3 1549.8,905.3 1550.5,906 1551.1,902.6 1551.7,901.2 1552.3,898.2 1552.9,890.8 1553.5,895.1 1554.1,892.9 1554.7,891.8 1555.3,890.7 1556,888.1 1556.6,890.3 1557.2,887.4 1557.8,883.4 1558.4,886.8 1559,885.4 1559.6,886.6 1560.2,880.3 1560.8,885.6 1561.5,887 1562.1,887.7 1562.7,886.7 1563.3,883.6 1563.9,884.1 1564.5,884.8 1565.1,884.4 1565.7,887.6 1566.3,887.8 1567,890.1 1567.6,886.1 1568.2,883.5 1568.8,885.4 1569.4,884 1570,884.6 1570.6,884.8 1571.2,880.5 1571.8,884.2 1572.5,880.1 1573.1,883 1573.7,881.4 1574.3,880.9 1574.9,883.9 1575.5,880.1 1576.1,876.4 1576.7,880.1 1577.3,879 1577.9,882.4 1578.5,877 1579.2,883.7 1579.8,881.2 1580.4,882.5 1581,881.8 1581.6,882.8 1582.2,885.9 1582.8,884.8 1583.4,885.5 1584,883.1 1584.6,885.3 1585.2,884.5 1586.6,698.3 1587.2,882 1587.8,698.3 1588.4,882 1589,698.3 1589.6,882 1590.2,698.3 1590.7,882 1591.3,698.3 1591.9,882 1592.5,698.3 1593.1,885.7 1593.8,885.7 1594.5,887.9 1595.1,889.6 1595.7,884.5 1596.3,886.5 1597,888.5 1597.6,888.1 1598.2,889.6 1598.9,887.2 1599.5,891.3 1599.8,896.4 1600.6,698.3 1601.2,883.2 1601.8,698.3 1602.4,883.2 1603,698.3 1603.6,883.2 1604.2,698.3 1604.8,883.2 1605.5,698.3 1606.1,883.2 1606.7,698.3 1606.8,768 1606.9,777.8 1607,786.3 1607.6,890.6 1608.3,887.9 1609,887.9 1609.6,888.7 1610.2,885.7 1610.9,886.1 1611.5,886.5 1612.1,890.2 1612.7,889.6 1613.3,892.4 1614,889.3 1614.6,895.6 1615.2,889.9 1615.8,895.3 1616.4,892 1617,890.8 1617.7,894.2 1618.3,893.7 1618.9,896.1 1619.5,893.3 1620.1,899.4 1620.7,896.8 1621.3,896.1 1622,899.2 1622.6,899.2 1623.2,898.1 1623.8,896.8 1624.4,895.7 1625,898.4 1625.6,898.6 1626.2,898.6 1626.9,892.6 1627.5,893.3 1628.1,895.6 1628.7,895.1 1629.3,892.4 1629.9,895.5 1630.5,896.6 1631.1,897.2 1631.7,896.6 1632.4,897.7 1633,896.4 1633.6,902.2 1634.2,895.2 1634.8,897.6 1635.4,898.4 1636,899.9 1636.6,899.8 1637.2,899.8 1637.9,902.3 1638.5,898.1 1639.1,900.6 1639.7,901.8 1640.3,903.5 1640.9,907.8 1641.5,901.4 1642.1,900.5 1642.7,899 1643.4,898.3 1644,898.4 1644.6,896.7 1645.2,896.8 1645.8,897.5 1646.4,896.3 1647,891.7 1647.6,892.7 1648.2,890.5 1648.9,891 1649.5,891.8 1650.1,891.6 1650.7,887.2 1651.3,889.1 1651.9,885.8 1652.6,890.7 1653.2,892.1 1653.8,888.6 1654.4,886.7 1655,893.4 1655.7,892.5 1656.3,888.5 1656.9,891.5 1657.5,890.9 1658.1,887.8 1658.5,1093.3 1658.6,1014.9 1658.7,989.3 1658.9,968.5 1661.7,937.9 1661.8,922 1662.4,869.8 1662.9,875 1663.5,871.1 1664.1,871.4 1664.7,874.5 1665.4,871.4 1666,869.5 1666.6,870.4 1667.2,871.9 1667.8,873 1668.4,872.2 1669,871.2 1669.6,867.9 1670.2,872.1 1670.9,874.2 1671.5,870.5 1672.1,874.7 1672.7,871.5 1673.3,873.7 1673.9,873.2 1674.5,875.8 1675.1,877.3 1674.5,879.7 1673.9,881.1 1673.3,885.6 1672.7,887.3 1673.3,889.3 1673.9,888.5 1674.5,890.7 1675.1,892 1675.7,889.5 1676.4,889.2 1677,887.7 1677.6,888.8 1678.2,890.9 1678.8,891.6 1679.4,892.7 1680,889.2 1680.6,891.2 1681.2,890 1681.9,893.9 1682.5,889.5 1683.1,890.5 1683.7,888.4 1684.3,892.7 1684.9,890.6 1685.5,889.4 1686.1,888.6 1686.7,888.2 1687.4,888 1688,884.2 1688.6,885.6 1689.2,884.2 1689.8,881.5 1690.4,883 1691,885.1 1691.6,877.3 1692.2,878.8 1692.9,877.7 1693.5,882.8 1694.1,876.3 1694.7,874.9 1695.3,876.7 1695.9,881.1 1696.5,875.9 1697.1,879.1 1697.7,879.7 1698.4,879.2 1699,878.2 1699.6,878.9 1700.2,882 1700.8,879.9 1701.4,882.4 1702,878.9 1702.6,879.3 1703.2,881.5 1703.9,884.5 1704.5,884.9 1705.1,884.4 1705.7,885.9 1706.3,884.1 1706.9,884.8 1707.5,888.4 1708.1,884.5 1708.7,886.3 1709.4,887.5 1710,888.4 1710.6,887.7 1711.2,885.9 1711.8,887 1712.4,889.2 1713,886.3 1713.6,884.7 1714.2,887.3 1714.9,887.5 1715.5,886.9 1716.1,893.2 1716.7,891.4 1717.3,890.3 1717.9,897.1 1718.5,893.2 1719.1,896.2 1719.7,895.7 1720.4,898 1721,900.5 1721.6,898 1722.2,900 1722.8,896.8 1723.4,902.4 1724,903.2 1724.6,897.4 1725.2,899.8 1725.9,904.8 1726.5,903.5 1727.1,901.7 1727.7,902.8 1728.3,904.8 1728.9,1093.3 1729,1093.3 1732.6,873.1 1732.7,882.9 1733.3,901.6 1733.9,904 1734.5,904.5 1735.1,906.8 1735.7,905.3 1736.2,904.8 1736.9,905.9 1737.5,910.8 1738.1,913.2 1738.7,918.6 1739.3,919.8 1739.9,923.3 1740.5,923.4 1741.1,927.2 1741.8,925 1742.4,927.2 1743,919.7 1743.6,920.5 1744.2,919.5 1744.8,919.4 1745.4,924.7 1746,919.4 1746.6,919.1 1747.3,917.5 1747.9,922.3 1748.5,919.1 1747.9,917.1 1747.3,906.9 1746.6,903.2 1746,898.2 1746.6,898.7 1747.3,898 1747.9,903.6 1748.5,901.2 1749.1,902.3 1749.7,903.2 1750.3,906.2 1750.9,902.2 1751.5,900.3 1752.1,902.4 1752.8,901.7 1753.4,901.6 1754,903.3 1754.6,898.2 1755.2,904.3 1755.8,900.8 1756.4,900.4 1757,897.8 1757.6,899 1758.3,898.5 1758.9,897.3 1759.5,897.7 1760.1,893.5 1760.7,896.2 1761.3,890.4 1761.9,894.5 1762.5,893.9 1763.1,896.4 1763.8,896.8 1764.4,896.1 1765,895.9 1765.6,895.3 1766.2,901.2 1766.8,898.7 1767.4,895.6 1768,898.4 1768.6,894.7 1769.3,894.4 1769.9,890.4 1770.5,890.9 1771.1,892.3 1771.7,888.7 1772.3,883.5 1772.9,887.2 1773.5,883 1774.1,880.6 1774.8,882.8 1775.4,884.2 1776,883.4 1776.6,880.4 1777.2,881.6 1777.8,879.4 1778.4,878.5 1779,879.8 1779.6,876.2 1780.3,876.7 1780.9,876.7 1781.5,877.6 1782.1,877.3 1782.7,876.4 1783.3,876 1783.9,874.9 1784.5,876.7 1785.1,873 1785.8,877 1786.4,873.9 1787,871.2 1787.6,870 1788.2,872.3 1788.8,874.5 1789.4,871 1790,875.1 1790.7,869.8 1791.3,875.9 1791.9,869.4 1792.5,869.2 1793.1,871.6 1793.8,868.3 1794.4,871.5 1795,871.6 1795.6,865.2 1796.2,869.4 1796.9,871.1 1797.5,868.8 1798.1,868.8 1798.7,868.4 1799.3,981.9 1799.4,956.3 1801,913.1 1801.6,912.7 1802.3,916.9 1802.9,907.8 1803.5,920.1 1804.1,902.9 1804.7,904.3 1805.3,901.9 1805.9,917.4 1806.5,910 1807.1,899.5 1807.8,918.1 1808.4,898.3 1809,910.7 1809.6,903.9 1810.2,910.5 1810.8,923.3 1811.4,917.5 1812,902.3 1812.6,905.7 1813.3,902.2 1813.9,907.7 1814.5,913.2 1808.4,838.9 1809,895.9 1809.6,896.7 1810.2,894.5 1810.8,897 1811.4,897.5 1812,896 1812.6,898.5 1813.3,893.8 1813.9,893.8 1814.5,897.1 1815.1,898.6 1815.7,891.8 1816.3,898.5 1816.9,896 1817.5,896.4 1818.1,893.2 1818.8,894.5 1819.4,892.9 1820,891.5 1820.6,891.2 1821.2,887.2 1821.8,890.3 1822.4,892.6 1823,888.1 1823.6,889.7 1824.3,889.7 1824.9,891.6 1825.5,889.5 1826.1,893 1826.7,886.4 1827.3,890.6 1827.9,887.8 1828.5,889.2 1829.1,889.4 1829.8,891.1 1830.4,889 1831,891.8 1831.6,893.9 1832.2,894.7 1832.8,895 1833.4,897 1834,898.9 1834.6,893.9 1835.3,896.9 1835.9,898.9 1836.5,902.3 1837.1,901.7 1837.7,900.4 1838.3,898.7 1838.9,896.6 1839.5,898.8 1840.1,900.2 1840.8,898.5 1841.4,896.9 1842,899.2 1842.6,897.3 1843.2,894.9 1843.8,895.6 1844.4,896.3 1845,893.9 1845.6,896.6 1846.3,892.9 1846.9,891.7 1847.5,891.3 1848.1,890.2 1848.7,884.6 1849.3,885.9 1849.9,882.5 1850.5,885.7 1851.2,886.8 1851.8,881.4 1852.4,879.1 1853,882.7 1853.6,881.2 1854.2,877.2 1854.8,877 1855.4,870.9 1856,872.2 1856.7,872.1 1857.3,873.4 1857.9,873.7 1858.5,872.5 1859.1,872.6 1859.7,871.2 1860.3,872.5 1860.9,870.1 1861.6,869.6 1862.3,872.4 1862.9,873.1 1863.6,877.3"/>
</g>
<g stroke="#000" stroke-width="3.7" fill="none">
<line x1="234.1" x2="250.5" y1="758.3" y2="758.3"/>
<line x1="234.1" x2="250.5" y1="827.0" y2="827.0"/>
<line x1="234.1" x2="250.5" y1="895.8" y2="895.8"/>
<line x1="234.1" x2="250.5" y1="964.5" y2="964.5"/>
<line x1="234.1" x2="250.5" y1="1033.3" y2="1033.3"/>
<line x1="318.6" x2="318.6" y1="1033.3" y2="1049.7"/>
<line x1="459.6" x2="459.6" y1="1033.3" y2="1049.7"/>
<line x1="600.6" x2="600.6" y1="1033.3" y2="1049.7"/>
<line x1="741.5" x2="741.5" y1="1033.3" y2="1049.7"/>
<line x1="882.5" x2="882.5" y1="1033.3" y2="1049.7"/>
<line x1="1023.5" x2="1023.5" y1="1033.3" y2="1049.7"/>
<line x1="1164.5" x2="1164.5" y1="1033.3" y2="1049.7"/>
<line x1="1305.5" x2="1305.5" y1="1033.3" y2="1049.7"/>
<line x1="1446.4" x2="1446.4" y1="1033.3" y2="1049.7"/>
<line x1="1587.4" x2="1587.4" y1="1033.3" y2="1049.7"/>
<line x1="1728.4" x2="1728.4" y1="1033.3" y2="1049.7"/>
<rect x="250.5" y="758.3" width="1613.2" height="275.0" stroke-linejoin="miter"/>
</g>
<g font-size="47.7" text-anchor="end" fill="#000">
<text x="215.3" y="776.4">0.30</text>
<text x="215.3" y="845.2">0.15</text>
<text x="215.3" y="913.9">0.00</text>
<text x="215.3" y="982.7">−0.15</text>
<text x="215.3" y="1051.4">−0.30</text>
</g>
<text font-size="38.6" text-anchor="middle" transform="translate(44.3,900.1) rotate(-90)">Up[m]</text>
<g font-size="47.7" text-anchor="middle" fill="#000">
<text x="318.0" y="1104.1">02</text>
<text x="459.0" y="1104.1">04</text>
<text x="600.0" y="1104.1">06</text>
<text x="740.9" y="1104.1">08</text>
<text x="881.9" y="1104.1">10</text>
<text x="1022.9" y="1104.1">12</text>
<text x="1163.9" y="1104.1">14</text>
<text x="1304.9" y="1104.1">16</text>
<text x="1445.8" y="1104.1">18</text>
<text x="1586.8" y="1104.1">20</text>
<text x="1727.8" y="1104.1">22</text>
</g>
<text font-size="38.6" text-anchor="middle" x="1058.4" y="1163">Time(hour)</text>
<text font-size="58" text-anchor="middle" x="1057.1" y="69">GOP6</text>
<g>
<rect x="1101.2" y="116.5" width="743.2" height="70" rx="8" ry="8" fill="#fff" fill-opacity="0.8" stroke="#ccc" stroke-opacity="0.8" stroke-width="3.6"/>
<line x1="1115" x2="1196" y1="147.7" y2="147.7" stroke="#ff0000" stroke-width="4.6"/><circle cx="1155.5" cy="147.7" r="6.0" fill="#ff0000"/>
<text x="1227" y="160.8" font-size="38.2">Iono-GOPE</text>
<line x1="1507" x2="1588" y1="147.7" y2="147.7" stroke="#008000" stroke-width="4.6"/><circle cx="1547.5" cy="147.7" r="5.0" fill="#008000"/>
<text x="1616.6" y="160.8" font-size="38.6">Iono-Interp</text>
</g>
</svg>
</body></html>
